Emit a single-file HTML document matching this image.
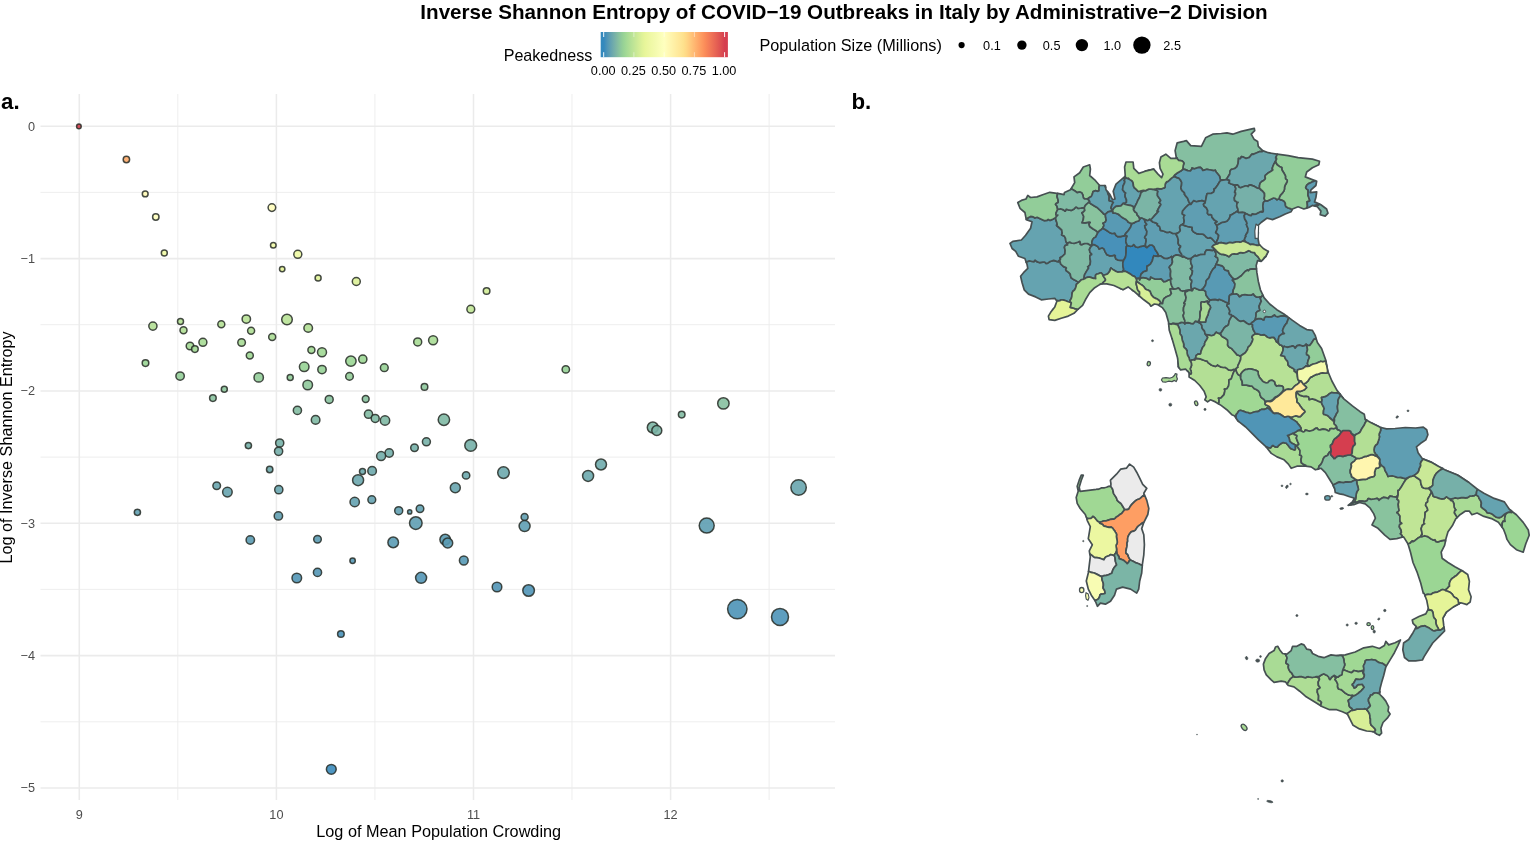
<!DOCTYPE html>
<html lang="en"><head><meta charset="utf-8"><title>Inverse Shannon Entropy of COVID-19 Outbreaks in Italy</title>
<style>html,body{margin:0;padding:0;background:#fff;overflow:hidden}body{width:1536px;height:843px;position:relative}</style></head>
<body>
<svg width="1536" height="843" viewBox="0 0 1536 843" style="position:absolute;left:0;top:0">
<defs><linearGradient id="cb" x1="0" x2="1" y1="0" y2="0">
<stop offset="0.0000" stop-color="#3288bd"/>
<stop offset="0.0250" stop-color="#3489bd"/>
<stop offset="0.0500" stop-color="#4e94b7"/>
<stop offset="0.0750" stop-color="#61a0b1"/>
<stop offset="0.1000" stop-color="#71acab"/>
<stop offset="0.1250" stop-color="#7fb8a4"/>
<stop offset="0.1500" stop-color="#8bc59d"/>
<stop offset="0.1750" stop-color="#96d196"/>
<stop offset="0.2000" stop-color="#a2d995"/>
<stop offset="0.2250" stop-color="#afde95"/>
<stop offset="0.2500" stop-color="#bbe396"/>
<stop offset="0.2750" stop-color="#c7e896"/>
<stop offset="0.3000" stop-color="#d3ed97"/>
<stop offset="0.3250" stop-color="#dff298"/>
<stop offset="0.3500" stop-color="#e8f69a"/>
<stop offset="0.3750" stop-color="#ecf7a1"/>
<stop offset="0.4000" stop-color="#f0f9a7"/>
<stop offset="0.4250" stop-color="#f3faad"/>
<stop offset="0.4500" stop-color="#f7fcb3"/>
<stop offset="0.4750" stop-color="#fbfeb9"/>
<stop offset="0.5000" stop-color="#ffffbf"/>
<stop offset="0.5250" stop-color="#fffab6"/>
<stop offset="0.5500" stop-color="#fff5ae"/>
<stop offset="0.5750" stop-color="#fff0a6"/>
<stop offset="0.6000" stop-color="#ffeb9e"/>
<stop offset="0.6250" stop-color="#ffe696"/>
<stop offset="0.6500" stop-color="#fee18d"/>
<stop offset="0.6750" stop-color="#ffd785"/>
<stop offset="0.7000" stop-color="#ffca7d"/>
<stop offset="0.7250" stop-color="#ffbd75"/>
<stop offset="0.7500" stop-color="#ffb06d"/>
<stop offset="0.7750" stop-color="#fea365"/>
<stop offset="0.8000" stop-color="#fd965e"/>
<stop offset="0.8250" stop-color="#fa8958"/>
<stop offset="0.8500" stop-color="#f47d57"/>
<stop offset="0.8750" stop-color="#ee7156"/>
<stop offset="0.9000" stop-color="#e86554"/>
<stop offset="0.9250" stop-color="#e15952"/>
<stop offset="0.9500" stop-color="#db4c51"/>
<stop offset="0.9750" stop-color="#d53e4f"/>
<stop offset="1.0000" stop-color="#d53e4f"/>
</linearGradient></defs>
<rect width="1536" height="843" fill="#fff"/>
<g stroke="#ebebeb" fill="none">
<line x1="177.8" x2="177.8" y1="94" y2="800" stroke-width="0.85"/>
<line x1="374.9" x2="374.9" y1="94" y2="800" stroke-width="0.85"/>
<line x1="572.0" x2="572.0" y1="94" y2="800" stroke-width="0.85"/>
<line x1="769.1" x2="769.1" y1="94" y2="800" stroke-width="0.85"/>
<line y1="192.4" y2="192.4" x1="40.5" x2="835" stroke-width="0.85"/>
<line y1="324.7" y2="324.7" x1="40.5" x2="835" stroke-width="0.85"/>
<line y1="457.1" y2="457.1" x1="40.5" x2="835" stroke-width="0.85"/>
<line y1="589.4" y2="589.4" x1="40.5" x2="835" stroke-width="0.85"/>
<line y1="721.8" y2="721.8" x1="40.5" x2="835" stroke-width="0.85"/>
<line x1="79.3" x2="79.3" y1="94" y2="800" stroke-width="1.55"/>
<line x1="276.4" x2="276.4" y1="94" y2="800" stroke-width="1.55"/>
<line x1="473.5" x2="473.5" y1="94" y2="800" stroke-width="1.55"/>
<line x1="670.6" x2="670.6" y1="94" y2="800" stroke-width="1.55"/>
<line y1="126.2" y2="126.2" x1="40.5" x2="835" stroke-width="1.55"/>
<line y1="258.6" y2="258.6" x1="40.5" x2="835" stroke-width="1.55"/>
<line y1="390.9" y2="390.9" x1="40.5" x2="835" stroke-width="1.55"/>
<line y1="523.2" y2="523.2" x1="40.5" x2="835" stroke-width="1.55"/>
<line y1="655.6" y2="655.6" x1="40.5" x2="835" stroke-width="1.55"/>
<line y1="788.0" y2="788.0" x1="40.5" x2="835" stroke-width="1.55"/>
</g>
<g stroke="#262b26" stroke-opacity="0.85" stroke-width="1.5" fill-opacity="0.9">
<circle cx="78.9" cy="126.4" r="2.30" fill="#d53f4f"/>
<circle cx="126.4" cy="159.5" r="3.20" fill="#feaa69"/>
<circle cx="145.2" cy="193.9" r="2.90" fill="#fff9b6"/>
<circle cx="155.8" cy="217" r="3.20" fill="#ffffbf"/>
<circle cx="164.3" cy="252.9" r="3.00" fill="#eef8a4"/>
<circle cx="271.9" cy="207.6" r="3.80" fill="#fffdbb"/>
<circle cx="273.3" cy="245.2" r="2.80" fill="#f1f9a9"/>
<circle cx="297.8" cy="254.3" r="4.00" fill="#edf8a3"/>
<circle cx="282.2" cy="269.1" r="2.70" fill="#e7f599"/>
<circle cx="318.1" cy="277.9" r="3.00" fill="#dff298"/>
<circle cx="356.3" cy="281.5" r="4.00" fill="#dbf097"/>
<circle cx="486.6" cy="291" r="3.30" fill="#d2ec97"/>
<circle cx="470.8" cy="309.2" r="3.90" fill="#c1e596"/>
<circle cx="152.9" cy="326.1" r="4.10" fill="#b3df95"/>
<circle cx="180.5" cy="321.6" r="3.00" fill="#b6e196"/>
<circle cx="183.5" cy="330.3" r="3.50" fill="#b0de95"/>
<circle cx="190" cy="346" r="3.80" fill="#a4d995"/>
<circle cx="194.9" cy="349.1" r="3.30" fill="#a2d995"/>
<circle cx="202.9" cy="342.3" r="4.00" fill="#a7db95"/>
<circle cx="221.3" cy="324.2" r="3.50" fill="#b4e095"/>
<circle cx="246.3" cy="319.1" r="4.20" fill="#b8e296"/>
<circle cx="251.1" cy="330.7" r="3.50" fill="#afde95"/>
<circle cx="241.6" cy="342.5" r="3.80" fill="#a7da95"/>
<circle cx="249.8" cy="355.4" r="3.50" fill="#9ed794"/>
<circle cx="272.2" cy="337.1" r="3.50" fill="#abdc95"/>
<circle cx="287" cy="319.5" r="5.30" fill="#b8e296"/>
<circle cx="308.2" cy="328" r="4.30" fill="#b1df95"/>
<circle cx="311.4" cy="349.9" r="3.50" fill="#a2d894"/>
<circle cx="145.5" cy="363.1" r="3.30" fill="#99d594"/>
<circle cx="180.1" cy="376.1" r="4.20" fill="#93ce98"/>
<circle cx="258.7" cy="377.4" r="4.70" fill="#92cd99"/>
<circle cx="290.2" cy="377.4" r="3.00" fill="#92cd99"/>
<circle cx="304.2" cy="366.8" r="4.80" fill="#97d395"/>
<circle cx="307.7" cy="385" r="4.80" fill="#8fc99b"/>
<circle cx="224.3" cy="389.3" r="3.00" fill="#8dc79c"/>
<circle cx="212.9" cy="398.1" r="3.30" fill="#89c29f"/>
<circle cx="297.4" cy="410.4" r="4.10" fill="#83bda2"/>
<circle cx="315.6" cy="419.9" r="4.30" fill="#80b9a4"/>
<circle cx="417.7" cy="341.9" r="4.00" fill="#a7db95"/>
<circle cx="433.1" cy="340.2" r="4.50" fill="#a8db95"/>
<circle cx="322" cy="352.3" r="4.50" fill="#a0d894"/>
<circle cx="350.9" cy="361.1" r="5.20" fill="#9ad694"/>
<circle cx="362.8" cy="359.2" r="4.10" fill="#9cd694"/>
<circle cx="322" cy="369.6" r="4.20" fill="#96d196"/>
<circle cx="384.3" cy="367.7" r="3.90" fill="#97d296"/>
<circle cx="349.5" cy="376.4" r="3.80" fill="#93cd99"/>
<circle cx="424.5" cy="386.9" r="3.30" fill="#8ec89c"/>
<circle cx="565.8" cy="369.4" r="3.70" fill="#96d196"/>
<circle cx="329.2" cy="399.4" r="4.00" fill="#88c29f"/>
<circle cx="365.7" cy="399" r="3.40" fill="#88c29f"/>
<circle cx="368.5" cy="414.2" r="4.10" fill="#82bba3"/>
<circle cx="375.2" cy="418.4" r="4.00" fill="#80baa4"/>
<circle cx="385" cy="420.5" r="4.70" fill="#7fb9a4"/>
<circle cx="443.9" cy="419.7" r="5.70" fill="#80b9a4"/>
<circle cx="248.4" cy="445.6" r="3.10" fill="#76b0a9"/>
<circle cx="279.7" cy="443" r="4.10" fill="#77b1a8"/>
<circle cx="278.6" cy="451.3" r="4.10" fill="#74aeaa"/>
<circle cx="269.7" cy="469.5" r="3.20" fill="#6ea9ac"/>
<circle cx="216.7" cy="485.7" r="3.80" fill="#69a5ae"/>
<circle cx="227.4" cy="492.1" r="4.80" fill="#67a4af"/>
<circle cx="278.8" cy="489.7" r="4.10" fill="#68a5af"/>
<circle cx="137.4" cy="512.3" r="3.10" fill="#61a0b1"/>
<circle cx="278.4" cy="515.9" r="4.20" fill="#609fb1"/>
<circle cx="250.3" cy="540" r="4.20" fill="#5b9bb3"/>
<circle cx="317.5" cy="539.2" r="3.80" fill="#5b9bb3"/>
<circle cx="296.8" cy="578" r="4.80" fill="#5296b6"/>
<circle cx="317.5" cy="572.4" r="4.10" fill="#5497b6"/>
<circle cx="414.5" cy="447.7" r="3.80" fill="#75b0a9"/>
<circle cx="426.4" cy="441.8" r="4.00" fill="#77b1a8"/>
<circle cx="470.7" cy="445.4" r="5.90" fill="#76b0a9"/>
<circle cx="389.2" cy="453" r="4.20" fill="#73aeaa"/>
<circle cx="381.1" cy="456.1" r="4.50" fill="#72adaa"/>
<circle cx="362.5" cy="471.4" r="3.00" fill="#6da9ac"/>
<circle cx="372.1" cy="470.9" r="4.30" fill="#6da9ac"/>
<circle cx="358.1" cy="480.2" r="5.50" fill="#6ba7ae"/>
<circle cx="466.1" cy="475.4" r="3.70" fill="#6ca8ad"/>
<circle cx="455.3" cy="487.8" r="5.00" fill="#68a5af"/>
<circle cx="503.5" cy="472.6" r="5.80" fill="#6da9ad"/>
<circle cx="354.7" cy="502" r="4.70" fill="#64a2b0"/>
<circle cx="371.8" cy="499.7" r="3.90" fill="#65a2b0"/>
<circle cx="398.7" cy="510.7" r="4.00" fill="#62a0b1"/>
<circle cx="409.7" cy="511.9" r="2.10" fill="#62a0b1"/>
<circle cx="420" cy="508.8" r="3.80" fill="#62a1b1"/>
<circle cx="415.8" cy="523.1" r="6.30" fill="#5f9eb2"/>
<circle cx="524.6" cy="517" r="3.50" fill="#609fb1"/>
<circle cx="524.6" cy="526.1" r="5.50" fill="#5e9eb2"/>
<circle cx="393.2" cy="542.4" r="5.30" fill="#5a9bb4"/>
<circle cx="445.2" cy="539.6" r="5.30" fill="#5b9bb3"/>
<circle cx="447.7" cy="543" r="5.00" fill="#5a9bb4"/>
<circle cx="352.6" cy="560.7" r="2.70" fill="#5698b5"/>
<circle cx="463.8" cy="560.5" r="4.40" fill="#5699b5"/>
<circle cx="421.1" cy="577.8" r="5.50" fill="#5396b6"/>
<circle cx="723.4" cy="403.4" r="5.70" fill="#86c0a0"/>
<circle cx="681.7" cy="414.6" r="3.30" fill="#82bba3"/>
<circle cx="652.8" cy="427.5" r="5.50" fill="#7db6a5"/>
<circle cx="656.8" cy="430.5" r="5.00" fill="#7bb5a6"/>
<circle cx="601" cy="464.5" r="5.50" fill="#6fabac"/>
<circle cx="588.1" cy="475.9" r="5.50" fill="#6ca8ad"/>
<circle cx="798.6" cy="487.5" r="7.70" fill="#68a5ae"/>
<circle cx="706.7" cy="525.6" r="7.50" fill="#5e9eb2"/>
<circle cx="737.3" cy="609.1" r="9.70" fill="#4d93b7"/>
<circle cx="780" cy="616.9" r="8.50" fill="#4c93b8"/>
<circle cx="497" cy="587" r="4.80" fill="#5195b6"/>
<circle cx="528.6" cy="590.5" r="5.80" fill="#5095b7"/>
<circle cx="340.9" cy="634" r="3.30" fill="#4991b8"/>
<circle cx="331.3" cy="769.3" r="4.90" fill="#3b8bbb"/>
</g>
<g font-family="'Liberation Sans',Arial,sans-serif" font-size="12.7" fill="#4d4d4d">
<text x="79.3" y="818.5" text-anchor="middle">9</text>
<text x="276.4" y="818.5" text-anchor="middle">10</text>
<text x="473.5" y="818.5" text-anchor="middle">11</text>
<text x="670.6" y="818.5" text-anchor="middle">12</text>
<text x="35" y="130.6" text-anchor="end">0</text>
<text x="35" y="262.9" text-anchor="end">−1</text>
<text x="35" y="395.3" text-anchor="end">−2</text>
<text x="35" y="527.6" text-anchor="end">−3</text>
<text x="35" y="660.0" text-anchor="end">−4</text>
<text x="35" y="792.4" text-anchor="end">−5</text>
</g>
<g font-family="'Liberation Sans',Arial,sans-serif" fill="#000">
<text x="438.7" y="836.5" font-size="16.25" text-anchor="middle">Log of Mean Population Crowding</text>
<text transform="translate(12.3,447.4) rotate(-90)" font-size="16.2" text-anchor="middle">Log of Inverse Shannon Entropy</text>
<text x="420.3" y="18.8" font-size="20.63" font-weight="bold">Inverse Shannon Entropy of COVID−19 Outbreaks in Italy by Administrative−2 Division</text>
<text x="1" y="108.9" font-size="22.3" font-weight="bold">a.</text>
<text x="851.4" y="108.9" font-size="22.3" font-weight="bold">b.</text>
<text x="503.7" y="60.5" font-size="16.1">Peakedness</text>
<text x="759.4" y="50.6" font-size="16.25">Population Size (Millions)</text>
</g>
<rect x="600.7" y="32" width="127.2" height="25.2" fill="url(#cb)"/>
<g stroke="#fff" stroke-width="1" stroke-opacity="0.9">
<line x1="603.7" x2="603.7" y1="32" y2="37" stroke-opacity="0.95"/><line x1="603.7" x2="603.7" y1="52.2" y2="57.2" stroke-opacity="0.95"/>
<line x1="633.9" x2="633.9" y1="32" y2="37" stroke-opacity="0.45"/><line x1="633.9" x2="633.9" y1="52.2" y2="57.2" stroke-opacity="0.45"/>
<line x1="664.2" x2="664.2" y1="32" y2="37" stroke-opacity="0.45"/><line x1="664.2" x2="664.2" y1="52.2" y2="57.2" stroke-opacity="0.45"/>
<line x1="694.4" x2="694.4" y1="32" y2="37" stroke-opacity="0.45"/><line x1="694.4" x2="694.4" y1="52.2" y2="57.2" stroke-opacity="0.45"/>
<line x1="724.6" x2="724.6" y1="32" y2="37" stroke-opacity="0.95"/><line x1="724.6" x2="724.6" y1="52.2" y2="57.2" stroke-opacity="0.95"/>
</g>
<g font-family="'Liberation Sans',Arial,sans-serif" font-size="12.7" fill="#000" text-anchor="middle">
<text x="603.2" y="75">0.00</text>
<text x="633.4" y="75">0.25</text>
<text x="663.7" y="75">0.50</text>
<text x="693.9" y="75">0.75</text>
<text x="724.1" y="75">1.00</text>
</g>
<g fill="#000">
<circle cx="961.6" cy="45.1" r="3.1"/>
<circle cx="1021.9" cy="45.1" r="4.7"/>
<circle cx="1081.9" cy="45.1" r="6.2"/>
<circle cx="1141.9" cy="45.1" r="8.7"/>
</g>
<g font-family="'Liberation Sans',Arial,sans-serif" font-size="12.7" fill="#000">
<text x="983.1" y="49.6">0.1</text>
<text x="1042.8" y="49.6">0.5</text>
<text x="1103.4" y="49.6">1.0</text>
<text x="1163.3" y="49.6">2.5</text>
</g>
<g stroke="#465052" stroke-width="1.7" stroke-linejoin="round">
<path d="M1078.1,282.1 1076.5,281.1 1073.6,279.6 1071.1,277.7 1070.5,275.8 1070.3,274.1 1068.6,272.4 1066.3,270.7 1065.7,269.1 1066.4,268.0 1066.0,267.6 1063.5,266.6 1060.7,264.0 1059.7,260.6 1058.6,260.7 1058.1,261.8 1056.7,261.4 1053.7,260.4 1050.1,261.5 1047.3,263.4 1046.0,263.4 1044.9,262.2 1042.9,262.2 1039.8,262.7 1036.8,261.6 1035.1,260.1 1034.7,260.4 1034.1,261.6 1032.3,261.5 1029.2,260.9 1026.4,262.0 1026.2,262.1 1027.0,264.2 1027.8,268.4 1023.5,272.7 1020.6,276.3 1022.1,282.7 1024.2,289.8 1028.5,294.1 1035.6,296.9 1041.3,299.8 1048.4,299.0 1054.8,298.3 1056.8,301.1 1056.9,301.1 1056.9,301.0 1057.0,300.9 1057.0,300.9 1057.1,300.8 1057.2,300.8 1057.3,300.7 1057.3,300.7 1057.4,300.7 1057.5,300.7 1057.6,300.7 1057.7,300.7 1058.8,300.9 1059.8,300.7 1060.9,300.0 1060.9,300.0 1061.0,299.9 1061.1,299.9 1061.2,299.9 1061.3,299.9 1062.5,299.9 1064.1,300.2 1065.9,300.8 1067.5,301.5 1067.5,301.5 1069.1,302.0 1069.8,302.1 1069.9,301.1 1070.4,299.7 1071.3,298.4 1071.8,296.5 1072.0,294.4 1072.2,292.6 1073.0,291.2 1073.1,291.2 1073.2,291.1 1073.2,291.0 1074.6,289.8 1075.5,288.1 1076.1,286.2 1076.4,284.5 1076.5,284.4 1076.5,284.3 1076.5,284.2 1077.4,283.5 1078.4,282.6 1078.5,282.6ZM1052.6,309.8 1052.8,309.7 1053.0,309.3Z" fill="#65a3b0"/>
<path d="M1060.0,258.2 1060.0,257.8 1062.3,256.5 1064.9,253.9 1065.1,250.3 1064.4,247.2 1065.3,245.4 1067.1,245.0 1067.6,244.9 1067.0,243.5 1065.8,241.2 1065.5,238.3 1064.3,236.1 1062.2,235.3 1061.6,234.9 1062.2,233.2 1061.7,230.0 1058.4,227.0 1056.6,225.5 1056.6,225.1 1057.2,224.4 1056.9,222.8 1056.0,220.4 1055.6,217.8 1052.8,219.3 1050.1,220.4 1048.8,219.7 1048.2,219.4 1046.9,220.5 1044.0,220.6 1040.2,218.8 1037.1,217.3 1035.6,217.7 1034.8,218.0 1033.3,216.9 1030.6,216.4 1027.8,218.0 1026.2,219.1 1026.3,219.6 1032.0,221.8 1030.6,228.2 1025.6,235.3 1021.4,240.0 1012.8,241.4 1010.0,243.5 1012.1,248.5 1015.7,251.4 1018.5,256.3 1024.9,258.5 1026.2,262.1 1026.4,262.0 1029.2,260.9 1032.3,261.5 1034.1,261.6 1034.7,260.4 1035.1,260.1 1036.8,261.6 1039.8,262.7 1042.9,262.2 1044.9,262.2 1046.0,263.4 1047.3,263.4 1050.1,261.5 1053.7,260.4 1056.7,261.4 1058.1,261.8 1058.6,260.7 1059.7,260.6 1060.6,258.8Z" fill="#65a3b0"/>
<path d="M1030.6,216.4 1033.3,216.9 1034.8,218.0 1035.6,217.7 1037.1,217.3 1040.2,218.8 1044.0,220.6 1046.9,220.5 1048.2,219.4 1048.8,219.7 1050.1,220.4 1052.8,219.3 1055.6,217.8 1057.3,215.6 1057.9,215.0 1057.0,215.3 1055.8,214.8 1056.2,212.7 1057.7,209.5 1057.0,206.2 1055.5,204.3 1056.2,203.5 1058.2,202.4 1058.1,199.9 1057.0,196.5 1057.5,193.8 1057.7,193.4 1056.9,193.3 1049.8,192.3 1042.7,194.7 1037.0,196.9 1030.5,197.5 1027.8,195.4 1026.0,199.0 1021.4,200.4 1017.8,202.6 1020.0,208.3 1024.9,212.5 1026.2,219.1 1027.8,218.0Z" fill="#92cd99"/>
<path d="M1075.0,191.0 1076.8,192.4 1077.4,192.7 1078.1,192.3 1079.7,192.0 1081.6,192.7 1082.8,194.9 1083.3,197.6 1084.5,199.0 1087.5,199.0 1089.5,197.5 1091.3,196.5 1092.3,194.3 1093.1,191.6 1095.3,190.7 1097.9,191.3 1099.0,190.7 1099.0,187.8 1099.4,185.3 1094.7,179.8 1089.7,175.5 1090.4,169.1 1089.7,164.8 1083.3,167.0 1079.7,172.7 1074.0,176.9 1074.7,182.6 1071.1,188.8 1071.7,189.1Z" fill="#92cd99"/>
<path d="M1063.5,266.6 1066.0,267.6 1066.4,268.0 1065.7,269.1 1066.3,270.7 1068.6,272.4 1070.3,274.1 1070.5,275.8 1071.1,277.7 1073.6,279.6 1076.5,281.1 1078.1,282.1 1078.5,282.6 1079.6,281.5 1080.8,280.3 1080.9,280.2 1081.0,280.1 1081.0,280.0 1082.2,279.5 1083.3,279.3 1084.1,278.9 1084.1,277.8 1084.5,274.8 1086.6,271.1 1088.5,268.2 1088.4,266.8 1087.7,266.7 1088.4,266.5 1090.1,264.6 1090.5,261.1 1089.8,257.4 1090.1,255.2 1091.6,254.6 1091.7,254.1 1090.0,252.4 1089.4,249.5 1090.7,247.0 1092.1,245.7 1092.0,244.4 1090.6,245.1 1089.6,244.7 1087.6,243.5 1084.5,243.5 1081.7,244.6 1080.4,244.3 1080.2,242.4 1079.8,241.3 1077.7,242.2 1074.4,243.3 1071.4,243.0 1069.7,242.1 1068.6,242.5 1067.0,243.5 1067.6,244.9 1067.1,245.0 1065.3,245.4 1064.4,247.2 1065.1,250.3 1064.9,253.9 1062.3,256.5 1060.0,257.8 1060.0,258.2 1060.6,258.8 1059.7,260.6 1060.7,264.0Z" fill="#80baa4"/>
<path d="M1061.6,234.9 1062.2,235.3 1064.3,236.1 1065.5,238.3 1065.8,241.2 1067.0,243.5 1068.6,242.5 1069.7,242.1 1071.4,243.0 1074.4,243.3 1077.7,242.2 1079.8,241.3 1080.2,242.4 1080.4,244.3 1081.7,244.6 1084.5,243.5 1087.6,243.5 1089.6,244.7 1090.6,245.1 1092.0,244.4 1092.0,244.3 1091.9,242.1 1092.7,239.5 1094.2,237.7 1095.4,237.3 1095.8,237.0 1096.4,235.6 1097.9,232.6 1097.0,231.6 1095.7,230.4 1092.8,228.8 1089.7,226.5 1089.0,224.1 1090.2,222.4 1089.2,222.1 1085.1,222.8 1082.1,222.7 1083.2,219.8 1083.7,216.5 1082.6,214.0 1081.9,212.8 1083.4,212.0 1084.8,210.4 1084.2,207.6 1080.7,208.1 1078.0,208.4 1076.7,207.3 1075.9,207.0 1074.1,208.9 1071.2,210.4 1068.1,209.8 1066.3,209.2 1065.7,210.4 1065.2,211.2 1063.5,209.9 1060.5,208.8 1057.7,209.5 1056.2,212.7 1055.8,214.8 1057.0,215.3 1057.9,215.0 1057.3,215.6 1055.6,217.8 1056.0,220.4 1056.9,222.8 1057.2,224.4 1056.6,225.1 1056.6,225.5 1058.4,227.0 1061.7,230.0 1062.2,233.2Z" fill="#80baa4"/>
<path d="M1083.4,212.0 1081.9,212.8 1082.6,214.0 1083.7,216.5 1083.2,219.8 1082.1,222.7 1085.1,222.8 1089.2,222.1 1090.2,222.4 1089.0,224.1 1089.7,226.5 1092.8,228.8 1095.7,230.4 1097.0,231.6 1097.9,232.6 1099.7,230.7 1100.3,230.3 1101.0,229.9 1102.6,228.3 1103.9,225.6 1103.6,224.0 1102.9,223.3 1103.6,222.9 1105.4,222.0 1106.2,220.1 1105.6,217.3 1105.3,214.4 1104.1,214.1 1103.8,214.1 1102.8,212.9 1100.8,210.9 1099.1,209.4 1098.4,208.6 1097.5,207.8 1094.8,206.2 1091.2,204.1 1089.3,202.3 1089.8,201.4 1089.5,201.4 1087.6,203.2 1085.9,204.6 1084.9,205.7 1084.2,207.6 1084.8,210.4Z" fill="#89c39e"/>
<path d="M1057.0,196.5 1058.1,199.9 1058.2,202.4 1056.2,203.5 1055.5,204.3 1057.0,206.2 1057.7,209.5 1060.5,208.8 1063.5,209.9 1065.2,211.2 1065.7,210.4 1066.3,209.2 1068.1,209.8 1071.2,210.4 1074.1,208.9 1075.9,207.0 1076.7,207.3 1078.0,208.4 1080.7,208.1 1084.2,207.6 1084.9,205.7 1085.9,204.6 1087.6,203.2 1089.5,201.4 1089.0,200.2 1087.5,199.0 1084.5,199.0 1083.3,197.6 1082.8,194.9 1081.6,192.7 1079.7,192.0 1078.1,192.3 1077.4,192.7 1076.8,192.4 1075.0,191.0 1071.7,189.1 1071.1,188.8 1070.5,189.8 1064.5,192.5 1064.1,194.7 1057.7,193.4 1057.5,193.8Z" fill="#80baa4"/>
<path d="M1122.2,289.3 1122.2,289.3 1120.3,288.4ZM1122.6,271.3 1123.2,270.5 1123.7,269.3 1123.0,266.6 1122.8,263.1 1123.6,260.2 1121.1,260.3 1118.0,260.1 1115.9,258.9 1115.2,257.1 1115.3,255.6 1114.7,255.2 1112.6,255.6 1109.5,255.8 1106.8,254.6 1105.2,251.8 1104.0,249.0 1102.3,247.9 1100.3,248.5 1099.1,249.0 1098.7,248.1 1097.7,246.4 1095.0,244.9 1092.0,244.3 1092.0,244.4 1092.1,245.7 1090.7,247.0 1089.4,249.5 1090.0,252.4 1091.7,254.1 1091.6,254.6 1090.1,255.2 1089.8,257.4 1090.5,261.1 1090.1,264.6 1088.4,266.5 1087.7,266.7 1088.4,266.8 1088.5,268.2 1086.6,271.1 1084.5,274.8 1084.1,277.8 1084.1,278.9 1084.7,278.7 1086.4,277.6 1086.5,277.5 1086.6,277.5 1086.8,277.4 1086.9,277.4 1087.0,277.3 1089.4,277.0 1091.4,277.6 1092.8,278.1 1092.8,278.1 1092.9,278.2 1093.6,278.3 1094.5,278.3 1095.7,278.6 1095.5,277.3 1095.5,275.9 1095.5,275.8 1095.6,275.6 1095.6,275.5 1095.6,275.4 1095.6,275.2 1095.7,275.1 1095.7,275.0 1095.8,274.9 1095.9,274.8 1096.0,274.7 1096.1,274.6 1096.2,274.5 1096.3,274.4 1096.4,274.3 1098.4,273.7 1100.0,273.0 1100.1,273.0 1100.2,272.9 1100.3,272.9 1100.4,272.9 1100.5,272.9 1100.6,272.8 1100.7,272.8 1100.8,272.8 1100.9,272.9 1101.0,272.9 1101.0,272.9 1101.1,273.0 1102.2,273.9 1102.8,275.0 1103.5,276.3 1103.2,275.8 1103.9,275.2 1105.3,274.8 1107.5,274.0 1109.2,272.0 1110.2,270.0 1110.6,268.4 1110.6,268.3 1110.6,268.3 1110.7,268.2 1110.7,268.2 1110.7,268.1 1110.8,268.1 1110.9,268.1 1110.9,268.1 1111.0,268.1 1111.1,268.1 1111.1,268.2 1111.2,268.2 1111.3,268.2 1111.4,268.3 1111.5,268.4 1112.8,269.4 1114.2,270.2 1114.3,270.3 1115.3,270.9 1116.3,271.5 1117.6,272.1 1120.0,271.8 1122.0,272.0 1122.9,271.6Z" fill="#65a3b0"/>
<path d="M1184.6,169.4 1187.7,170.6 1190.4,170.9 1191.7,169.2 1192.0,168.0 1192.7,168.4 1194.7,168.8 1197.7,167.7 1200.4,167.3 1202.0,168.9 1202.8,170.5 1204.2,170.1 1206.9,169.3 1210.5,170.0 1213.5,170.6 1215.0,170.2 1215.2,170.1 1215.9,171.7 1217.8,174.0 1219.6,176.3 1220.0,178.2 1220.3,179.6 1222.7,180.2 1224.8,179.8 1226.9,179.4 1227.4,177.7 1228.7,175.8 1229.8,174.0 1229.9,172.1 1230.3,170.5 1231.4,169.4 1233.0,169.0 1235.0,168.4 1236.9,166.6 1238.1,163.5 1238.4,160.3 1238.5,158.3 1239.9,158.8 1240.7,158.1 1241.5,156.5 1243.2,157.1 1246.0,158.5 1249.3,157.4 1251.4,154.7 1252.1,154.0 1253.0,154.4 1255.7,153.3 1259.3,151.7 1261.5,151.6 1262.1,151.7 1262.6,150.6 1258.3,146.3 1257.6,141.4 1254.0,139.2 1251.2,134.2 1254.7,130.7 1254.3,128.3 1249.8,129.3 1241.2,131.4 1232.7,134.2 1227.0,132.8 1221.3,133.5 1212.7,134.2 1205.6,137.8 1201.4,146.3 1190.7,145.6 1186.4,140.6 1183.6,141.4 1177.2,142.8 1175.1,150.6 1176.3,157.5 1176.4,157.5 1176.5,157.5 1176.6,157.6 1176.6,157.6 1176.7,157.6 1176.8,157.7 1176.8,157.7 1176.8,157.8 1176.9,157.9 1177.5,159.0 1178.7,160.3 1180.7,160.6 1182.1,161.0 1182.9,161.6 1183.6,162.6 1183.6,162.7 1183.7,162.8 1183.7,162.9 1183.8,162.9 1183.8,163.0 1183.8,163.1 1183.9,163.2 1183.9,163.4 1183.9,163.5 1183.9,163.6 1183.9,163.7 1183.8,163.8 1183.8,163.9 1183.8,164.0 1183.7,164.1 1183.2,165.8 1183.0,167.4 1182.9,168.8 1182.9,168.9 1182.8,169.0 1182.8,169.1 1182.7,169.1 1182.7,169.2 1182.6,169.3 1182.6,169.3Z" fill="#85bfa1"/>
<path d="M1100.3,230.3 1099.7,230.7 1097.9,232.6 1096.4,235.6 1095.8,237.0 1095.4,237.3 1094.2,237.7 1092.7,239.5 1091.9,242.1 1092.0,244.3 1095.0,244.9 1097.7,246.4 1098.7,248.1 1099.1,249.0 1100.3,248.5 1102.3,247.9 1104.0,249.0 1105.2,251.8 1106.8,254.6 1109.5,255.8 1112.6,255.6 1114.7,255.2 1115.3,255.6 1115.2,257.1 1115.9,258.9 1118.0,260.1 1121.1,260.3 1123.6,260.2 1124.7,258.5 1124.9,258.2 1124.8,258.2 1125.3,257.5 1125.8,255.4 1126.1,252.3 1126.1,249.0 1126.3,246.6 1127.3,245.5 1127.1,245.0 1126.7,244.2 1125.8,241.6 1126.1,238.3 1127.1,236.1 1126.5,235.5 1123.7,235.9 1120.4,236.7 1117.6,236.7 1115.9,235.3 1115.1,233.7 1114.6,233.0 1113.6,233.4 1111.8,233.5 1109.4,232.4 1106.7,230.5 1104.3,229.0 1102.6,228.3 1101.0,229.9Z" fill="#4891b9"/>
<path d="M1089.5,201.4 1089.8,201.4 1089.3,202.3 1091.2,204.1 1094.8,206.2 1097.5,207.8 1098.4,208.6 1099.1,209.4 1100.8,210.9 1102.8,212.9 1103.8,214.1 1104.1,214.1 1105.3,214.4 1108.1,211.9 1111.4,211.2 1113.0,212.0 1113.0,211.9 1112.5,210.7 1111.0,208.0 1111.9,204.9 1113.4,202.4 1111.6,201.2 1109.2,200.6 1109.1,199.3 1109.2,196.4 1107.8,193.2 1107.5,191.6 1106.0,189.8 1105.6,187.2 1105.5,187.2 1104.9,185.5 1099.6,185.5 1099.4,185.3 1099.0,187.8 1099.0,190.7 1097.9,191.3 1095.3,190.7 1093.1,191.6 1092.3,194.3 1091.3,196.5 1089.5,197.5 1087.5,199.0 1089.0,200.2Z" fill="#65a3b0"/>
<path d="M1133.8,291.2 1132.3,290.1 1132.3,290.0 1132.0,289.9ZM1161.9,303.6 1162.6,303.6 1162.9,301.5 1163.9,298.6 1166.5,296.7 1169.8,295.5 1171.4,293.5 1170.6,290.8 1170.1,289.0 1171.4,288.9 1173.8,289.1 1173.0,288.2 1171.8,286.1 1170.8,283.1 1170.6,280.4 1170.7,279.2 1168.3,280.0 1165.5,281.5 1163.5,281.6 1162.4,280.1 1161.2,278.9 1158.9,279.1 1155.6,279.2 1152.4,278.0 1150.7,277.0 1150.3,277.8 1150.1,279.5 1148.9,279.6 1146.2,278.1 1142.9,277.5 1140.2,278.3 1139.6,279.9 1139.3,278.8 1138.1,277.9 1136.2,278.9 1136.6,279.8 1136.3,281.8 1136.2,284.1 1136.3,281.9 1136.9,281.9 1138.1,282.4 1138.2,282.4 1138.3,282.5 1138.4,282.5 1138.4,282.6 1138.5,282.7 1140.4,284.1 1142.6,285.5 1144.0,286.8 1144.7,288.1 1145.4,289.0 1146.7,289.7 1148.4,290.2 1149.9,291.2 1150.0,291.3 1150.1,291.4 1150.7,293.1 1151.4,294.9 1152.7,296.5 1154.3,297.8 1156.1,298.6 1157.5,299.3 1158.8,300.2 1158.9,300.3 1159.0,300.4 1159.0,300.4 1159.8,301.3 1160.5,302.2 1160.6,302.3 1160.6,302.4 1160.6,302.4 1160.6,302.5 1160.6,302.6 1160.6,302.6 1160.6,302.7 1160.6,302.8 1160.6,302.8 1160.5,302.9 1160.5,302.9 1160.5,303.0 1160.4,303.0 1160.3,303.1 1160.3,303.2Z" fill="#92cd99"/>
<path d="M1126.1,249.0 1126.1,252.3 1125.8,255.4 1125.3,257.5 1124.8,258.2 1124.9,258.2 1124.7,258.5 1123.6,260.2 1122.8,263.1 1123.0,266.6 1123.7,269.3 1123.2,270.5 1122.6,271.3 1122.9,271.6 1123.3,271.4 1123.3,271.4 1123.4,271.4 1123.5,271.3 1123.5,271.3 1123.6,271.3 1125.2,271.3 1127.3,272.3 1129.8,273.7 1129.9,273.7 1130.0,273.8 1130.1,273.9 1130.2,273.9 1131.8,275.2 1133.1,275.9 1134.4,276.4 1134.5,276.4 1134.6,276.5 1134.7,276.5 1134.7,276.6 1134.8,276.6 1134.8,276.7 1134.9,276.8 1134.9,276.8 1135.9,278.2 1136.2,278.9 1138.1,277.9 1139.3,278.8 1139.6,279.9 1140.2,278.3 1140.9,274.4 1143.4,271.8 1145.8,271.1 1146.8,270.8 1147.0,269.3 1146.9,267.3 1147.1,266.1 1148.4,265.6 1150.4,264.1 1152.3,260.8 1153.2,257.3 1153.9,255.7 1155.7,256.2 1158.1,256.4 1158.4,254.8 1157.2,252.5 1155.1,249.6 1154.2,246.9 1152.2,245.2 1149.9,245.0 1148.1,246.4 1147.0,247.5 1145.9,246.7 1143.9,245.8 1141.1,246.3 1137.9,247.5 1135.5,246.8 1134.2,244.9 1133.6,244.6 1132.4,246.0 1130.2,246.3 1127.3,245.5 1126.3,246.6Z" fill="#3288bd"/>
<path d="M1105.6,187.2 1105.3,185.5 1104.9,185.5 1105.5,187.2ZM1109.2,196.4 1109.1,199.3 1109.2,200.6 1111.6,201.2 1113.4,202.4 1111.9,204.9 1111.0,208.0 1112.5,210.7 1113.7,208.3 1115.9,206.4 1118.6,206.1 1120.9,205.8 1122.3,204.4 1123.2,203.3 1123.8,203.7 1124.5,203.4 1126.4,202.5 1126.5,199.9 1125.1,196.6 1125.1,194.1 1125.7,193.0 1124.5,192.1 1122.6,189.8 1123.0,186.2 1124.6,182.9 1124.8,181.1 1124.1,180.5 1124.8,179.4 1125.4,177.0 1125.4,177.0 1125.4,176.9 1125.3,176.8 1125.3,176.6 1125.3,176.5 1125.2,176.4 1125.2,176.3 1125.3,176.2 1125.3,176.2 1121.0,179.8 1116.0,184.1 1113.2,191.2 1115.0,199.0 1112.5,199.7 1109.6,194.0 1107.5,191.6 1107.8,193.2Z" fill="#589ab4"/>
<path d="M1124.8,235.2 1125.6,233.6 1128.2,230.7 1130.4,227.6 1131.3,225.3 1131.4,224.2 1132.0,223.6 1129.5,222.8 1128.1,222.0 1127.5,221.0 1126.0,219.6 1123.6,218.3 1121.5,217.0 1119.9,215.5 1118.0,214.0 1115.6,213.2 1113.7,213.1 1113.0,212.9 1113.0,212.0 1111.4,211.2 1108.1,211.9 1105.3,214.4 1105.6,217.3 1106.2,220.1 1105.4,222.0 1103.6,222.9 1102.9,223.3 1103.6,224.0 1103.9,225.6 1102.6,228.3 1104.3,229.0 1106.7,230.5 1109.4,232.4 1111.8,233.5 1113.6,233.4 1114.6,233.0 1115.1,233.7 1115.9,235.3 1117.6,236.7 1120.4,236.7 1123.7,235.9 1126.5,235.5 1125.8,235.5Z" fill="#589ab4"/>
<path d="M1131.3,225.3 1130.4,227.6 1128.2,230.7 1125.6,233.6 1124.8,235.2 1125.8,235.5 1126.5,235.5 1127.1,236.1 1126.1,238.3 1125.8,241.6 1126.7,244.2 1127.1,245.0 1127.3,245.5 1130.2,246.3 1132.4,246.0 1133.6,244.6 1134.2,244.9 1135.5,246.8 1137.9,247.5 1141.1,246.3 1143.9,245.8 1145.9,246.7 1145.4,244.4 1146.1,241.2 1146.0,238.9 1144.7,237.7 1144.8,236.8 1146.5,234.8 1146.9,231.4 1145.2,227.9 1144.7,225.7 1146.3,224.9 1146.8,224.2 1145.2,222.3 1144.4,219.4 1142.3,218.1 1140.8,217.9 1140.1,218.6 1139.8,219.0 1139.0,220.7 1137.6,221.2 1135.8,221.8 1133.9,222.9 1132.0,223.6 1131.4,224.2Z" fill="#589ab4"/>
<path d="M1124.8,179.4 1124.1,180.5 1124.8,181.1 1124.6,182.9 1123.0,186.2 1122.6,189.8 1124.5,192.1 1125.7,193.0 1125.1,194.1 1125.1,196.6 1126.5,199.9 1126.4,202.5 1124.5,203.4 1123.8,203.7 1125.4,204.5 1128.3,205.2 1131.3,205.7 1133.1,206.6 1133.5,208.2 1133.6,209.7 1134.9,206.6 1136.7,203.1 1137.4,201.5 1137.5,201.2 1138.0,200.1 1139.4,197.7 1140.4,195.0 1140.8,193.1 1141.9,191.9 1143.7,190.8 1144.0,190.5 1143.3,190.4 1141.2,190.8 1139.0,191.5 1138.9,191.5 1138.8,191.5 1138.7,191.5 1138.6,191.5 1138.5,191.5 1138.4,191.5 1138.3,191.5 1138.2,191.4 1137.2,190.4 1136.0,189.2 1134.6,188.0 1134.6,187.9 1134.5,187.8 1134.4,187.7 1134.3,187.7 1134.3,187.6 1133.5,186.1 1133.3,184.4 1133.0,182.5 1131.9,180.8 1130.0,179.6 1128.8,178.8 1128.4,178.1 1127.4,178.5 1126.1,177.8 1126.0,177.8 1125.9,177.7 1125.8,177.6 1125.8,177.5 1125.7,177.4 1125.6,177.3 1125.5,177.2 1125.5,177.1 1125.4,177.0ZM1149.0,170.3 1145.2,171.2 1149.0,170.3ZM1125.3,176.2 1125.3,176.2 1125.3,176.2Z" fill="#65a3b0"/>
<path d="M1113.0,212.0 1113.0,212.9 1113.7,213.1 1115.6,213.2 1118.0,214.0 1119.9,215.5 1121.5,217.0 1123.6,218.3 1126.0,219.6 1127.5,221.0 1128.1,222.0 1129.5,222.8 1132.0,223.6 1133.9,222.9 1135.8,221.8 1137.6,221.2 1139.0,220.7 1139.8,219.0 1138.8,216.6 1137.1,214.9 1137.0,213.9 1136.8,213.1 1134.9,211.8 1133.6,209.7 1133.5,208.2 1133.1,206.6 1131.3,205.7 1128.3,205.2 1125.4,204.5 1123.8,203.7 1123.2,203.3 1122.3,204.4 1120.9,205.8 1118.6,206.1 1115.9,206.4 1113.7,208.3 1112.5,210.7 1113.0,211.9Z" fill="#89c39e"/>
<path d="M1136.8,213.1 1137.0,213.9 1137.1,214.9 1138.8,216.6 1139.8,219.0 1140.1,218.6 1140.8,217.9 1142.3,218.1 1144.4,219.4 1147.2,220.6 1148.8,220.2 1149.5,219.3 1150.5,220.0 1152.1,218.5 1154.8,215.4 1157.6,212.4 1158.6,211.3 1157.6,211.8 1157.2,211.1 1158.8,208.0 1160.9,204.5 1160.0,203.3 1159.0,202.6 1159.8,201.8 1160.7,200.5 1159.5,198.4 1157.5,195.8 1157.4,193.2 1158.0,191.3 1156.8,190.3 1155.0,189.8 1154.9,189.2 1153.3,189.3 1151.1,189.1 1148.9,189.1 1147.2,189.8 1146.0,190.6 1144.9,190.6 1144.0,190.5 1143.7,190.8 1141.9,191.9 1140.8,193.1 1140.4,195.0 1139.4,197.7 1138.0,200.1 1137.5,201.2 1137.4,201.5 1136.7,203.1 1134.9,206.6 1133.6,209.7 1134.9,211.8Z" fill="#7bb5a6"/>
<path d="M1148.1,246.4 1149.9,245.0 1152.2,245.2 1154.2,246.9 1155.1,249.6 1157.2,252.5 1158.4,254.8 1158.1,256.4 1159.2,256.1 1160.3,255.8 1161.8,256.8 1164.3,258.5 1167.2,258.7 1170.0,257.4 1171.7,256.5 1172.3,257.4 1172.9,257.4 1173.9,256.1 1176.1,254.9 1179.1,255.4 1181.9,256.5 1181.7,254.5 1179.7,251.5 1179.2,248.7 1180.5,246.9 1180.6,246.0 1178.9,245.1 1178.1,243.1 1178.3,240.0 1177.4,236.7 1176.1,234.5 1177.1,233.4 1178.7,232.5 1175.7,233.5 1172.8,233.5 1171.0,232.4 1169.9,231.9 1168.6,232.3 1166.4,232.3 1163.4,231.0 1160.4,230.4 1160.1,228.2 1159.5,226.6 1157.7,225.5 1157.0,224.6 1157.6,223.9 1156.4,223.1 1152.9,222.0 1150.5,220.0 1149.5,219.3 1148.8,220.2 1147.2,220.6 1144.4,219.4 1145.2,222.3 1146.8,224.2 1146.3,224.9 1144.7,225.7 1145.2,227.9 1146.9,231.4 1146.5,234.8 1144.8,236.8 1144.7,237.7 1146.0,238.9 1146.1,241.2 1145.4,244.4 1145.9,246.7 1147.0,247.5Z" fill="#5f9eb2"/>
<path d="M1153.9,255.7 1153.2,257.3 1152.3,260.8 1150.4,264.1 1148.4,265.6 1147.1,266.1 1146.9,267.3 1147.0,269.3 1146.8,270.8 1145.8,271.1 1143.4,271.8 1140.9,274.4 1140.2,278.3 1142.9,277.5 1146.2,278.1 1148.9,279.6 1150.1,279.5 1150.3,277.8 1150.7,277.0 1152.4,278.0 1155.6,279.2 1158.9,279.1 1161.2,278.9 1162.4,280.1 1163.5,281.6 1165.5,281.5 1168.3,280.0 1170.7,279.2 1171.8,279.0 1171.4,278.6 1170.5,276.9 1170.4,274.2 1170.7,271.2 1170.2,268.9 1169.2,267.5 1169.7,266.3 1171.6,264.5 1172.5,261.9 1172.1,259.2 1172.3,257.4 1171.7,256.5 1170.0,257.4 1167.2,258.7 1164.3,258.5 1161.8,256.8 1160.3,255.8 1159.2,256.1 1158.1,256.4 1155.7,256.2Z" fill="#5f9eb2"/>
<path d="M1155.0,189.8 1156.8,190.3 1158.0,191.3 1157.4,193.2 1157.5,195.8 1159.5,198.4 1160.7,200.5 1159.8,201.8 1159.0,202.6 1160.0,203.3 1160.9,204.5 1158.8,208.0 1157.2,211.1 1157.6,211.8 1158.6,211.3 1157.6,212.4 1154.8,215.4 1152.1,218.5 1150.5,220.0 1152.9,222.0 1156.4,223.1 1157.6,223.9 1157.0,224.6 1157.7,225.5 1159.5,226.6 1160.1,228.2 1160.4,230.4 1163.4,231.0 1166.4,232.3 1168.6,232.3 1169.9,231.9 1171.0,232.4 1172.8,233.5 1175.7,233.5 1178.7,232.5 1180.2,231.0 1180.2,229.6 1179.7,228.0 1179.8,226.5 1180.7,225.2 1182.3,224.5 1183.9,223.1 1184.2,220.6 1183.6,217.8 1184.1,215.9 1184.8,215.4 1183.9,215.1 1182.3,213.8 1182.6,211.0 1185.6,207.5 1188.4,204.8 1190.2,204.2 1191.1,204.3 1191.6,203.4 1189.6,203.2 1188.7,201.4 1187.6,198.3 1185.4,195.6 1184.3,194.1 1184.7,193.4 1184.0,192.3 1181.8,190.4 1180.8,187.9 1181.5,185.1 1181.7,182.5 1180.7,180.4 1179.6,179.0 1178.8,178.1 1177.1,177.6 1174.7,176.6 1174.3,175.6 1173.5,176.6 1172.6,177.4 1171.8,177.9 1170.7,178.8 1169.4,180.2 1168.0,181.4 1166.5,181.9 1165.8,182.9 1165.2,184.4 1165.1,186.6 1165.1,186.8 1165.1,186.9 1165.0,187.0 1165.0,187.1 1164.9,187.3 1164.9,187.4 1164.8,187.5 1164.7,187.6 1164.6,187.7 1164.5,187.8 1164.4,187.8 1164.3,187.9 1164.2,187.9 1161.7,188.8 1159.6,188.9 1157.9,188.6 1156.6,188.7 1156.6,188.7 1155.2,189.2 1154.9,189.2ZM1149.0,170.3 1149.0,170.3 1153.7,169.1Z" fill="#65a3b0"/>
<path d="M1191.6,360.2 1193.7,359.7 1194.9,360.1 1195.4,358.6 1196.2,355.4 1198.2,354.0 1200.1,354.1 1200.7,353.5 1201.1,351.1 1202.5,347.6 1204.2,345.4 1204.7,344.6 1204.5,343.7 1205.2,341.7 1206.9,339.2 1207.8,337.3 1206.8,336.0 1205.8,334.6 1204.8,333.4 1204.8,332.1 1204.2,330.7 1202.7,329.1 1201.9,327.4 1201.9,325.4 1200.5,323.4 1197.5,321.7 1195.2,321.2 1194.2,322.5 1193.1,323.7 1190.9,323.4 1187.9,322.6 1185.7,322.9 1184.8,323.8 1184.7,323.3 1183.4,322.5 1181.3,322.4 1178.6,323.5 1175.6,323.5 1172.8,323.2 1171.2,324.3 1171.2,324.3 1172.2,323.8 1173.5,323.8 1175.2,324.3 1177.1,324.8 1177.3,324.8 1177.4,324.9 1177.5,324.9 1177.6,324.9 1177.7,325.0 1177.8,325.1 1177.8,325.1 1177.9,325.2 1178.0,325.3 1178.0,325.4 1178.1,325.5 1178.1,325.6 1178.7,327.2 1179.5,328.9 1180.0,330.5 1180.0,330.7 1179.9,332.5 1180.1,334.0 1181.1,335.2 1181.8,336.6 1182.0,338.5 1182.4,340.6 1183.4,342.8 1183.8,344.8 1183.6,346.4 1184.4,347.7 1186.0,349.0 1187.0,350.7 1187.1,350.7 1187.1,353.1 1187.6,355.4 1188.7,357.1 1188.7,357.1 1189.2,358.0 1189.3,359.0 1189.8,360.4 1190.3,361.2ZM1172.0,338.5 1172.0,338.4 1171.9,338.3ZM1178.4,366.5 1178.4,366.5 1177.7,358.5ZM1178.4,366.7 1178.5,366.7 1178.5,366.6 1178.4,366.6 1178.4,366.5 1178.4,366.5Z" fill="#6ba7ad"/>
<path d="M1172.5,261.9 1171.6,264.5 1169.7,266.3 1169.2,267.5 1170.2,268.9 1170.7,271.2 1170.4,274.2 1170.5,276.9 1171.4,278.6 1171.8,279.0 1170.7,279.2 1170.6,280.4 1170.8,283.1 1171.8,286.1 1173.0,288.2 1173.8,289.1 1176.4,288.8 1178.3,288.1 1179.3,288.7 1180.5,290.5 1182.7,291.3 1185.9,290.5 1189.0,290.1 1191.1,290.3 1192.0,290.7 1191.3,288.3 1190.9,284.8 1191.8,281.8 1191.7,280.2 1190.2,279.3 1190.0,277.4 1192.0,274.2 1192.5,270.9 1190.9,269.0 1190.5,268.5 1192.0,268.1 1192.3,266.3 1191.0,263.4 1190.6,260.7 1191.3,259.2 1191.1,258.4 1187.6,258.6 1185.0,257.3 1183.6,256.2 1183.1,256.5 1182.8,257.1 1181.9,256.5 1179.1,255.4 1176.1,254.9 1173.9,256.1 1172.9,257.4 1172.3,257.4 1172.1,259.2Z" fill="#80baa4"/>
<path d="M1176.1,234.5 1177.4,236.7 1178.3,240.0 1178.1,243.1 1178.9,245.1 1180.6,246.0 1180.5,246.9 1179.2,248.7 1179.7,251.5 1181.7,254.5 1181.9,256.5 1182.8,257.1 1183.1,256.5 1183.6,256.2 1185.0,257.3 1187.6,258.6 1191.1,258.4 1194.0,256.2 1195.4,255.3 1195.8,256.1 1197.0,255.9 1200.0,254.7 1203.2,254.5 1204.7,254.5 1205.0,252.5 1206.3,250.2 1209.3,250.1 1212.5,250.7 1214.0,249.6 1213.6,248.0 1213.2,247.6 1212.5,247.3 1212.4,247.2 1212.4,247.2 1212.4,247.2 1212.3,247.1 1212.3,247.1 1212.3,247.0 1212.3,247.0 1212.3,246.9 1212.3,246.8 1212.3,246.7 1212.4,246.6 1212.4,246.6 1212.4,246.5 1212.5,246.4 1212.5,246.3 1212.6,246.2 1212.7,246.1 1212.7,246.0 1212.8,245.9 1212.9,245.8 1213.0,245.8 1214.7,244.6 1216.1,244.2 1216.7,244.1 1216.6,244.0 1214.5,241.5 1212.0,238.7 1210.2,237.6 1209.1,238.0 1207.8,238.1 1206.1,237.0 1204.6,235.3 1203.5,234.3 1202.1,234.2 1199.6,234.2 1196.4,233.6 1193.6,232.1 1192.2,230.2 1192.1,228.4 1192.1,227.4 1190.7,227.1 1187.5,226.5 1184.1,225.4 1182.3,224.5 1180.7,225.2 1179.8,226.5 1179.7,228.0 1180.2,229.6 1180.2,231.0 1178.7,232.5 1177.1,233.4Z" fill="#65a3b0"/>
<path d="M1174.7,176.6 1177.1,177.6 1178.8,178.1 1179.6,179.0 1180.7,180.4 1181.7,182.5 1181.5,185.1 1180.8,187.9 1181.8,190.4 1184.0,192.3 1184.7,193.4 1184.3,194.1 1185.4,195.6 1187.6,198.3 1188.7,201.4 1189.6,203.2 1191.6,203.4 1193.0,201.5 1193.9,200.6 1194.8,201.3 1196.5,201.8 1199.1,201.1 1202.0,200.6 1204.6,201.7 1205.2,201.9 1205.8,199.5 1206.5,195.8 1207.2,193.6 1208.5,193.5 1211.1,193.5 1213.7,192.1 1214.3,190.1 1213.8,189.2 1214.0,189.2 1215.6,188.0 1217.7,185.0 1219.6,181.8 1220.9,180.3 1221.7,180.4 1222.7,180.2 1220.3,179.6 1220.0,178.2 1219.6,176.3 1217.8,174.0 1215.9,171.7 1215.2,170.1 1215.0,170.2 1213.5,170.6 1210.5,170.0 1206.9,169.3 1204.2,170.1 1202.8,170.5 1202.0,168.9 1200.4,167.3 1197.7,167.7 1194.7,168.8 1192.7,168.4 1192.0,168.0 1191.7,169.2 1190.4,170.9 1187.7,170.6 1184.6,169.4 1182.6,169.3 1181.6,170.3 1180.7,171.1 1179.0,172.0 1176.8,173.3 1176.8,173.3 1174.7,175.0 1174.3,175.6Z" fill="#5f9eb2"/>
<path d="M1172.8,323.2 1175.6,323.5 1178.6,323.5 1181.3,322.4 1183.4,322.5 1184.7,323.3 1184.9,320.8 1183.6,317.6 1183.1,315.3 1183.7,314.1 1184.0,312.9 1183.4,310.5 1183.6,307.3 1184.8,304.7 1185.0,303.6 1184.1,303.5 1184.0,303.0 1185.4,300.8 1186.1,297.4 1185.2,294.2 1185.2,292.3 1187.3,291.3 1189.0,290.1 1185.9,290.5 1182.7,291.3 1180.5,290.5 1179.3,288.7 1178.3,288.1 1176.4,288.8 1173.8,289.1 1171.4,288.9 1170.1,289.0 1170.6,290.8 1171.4,293.5 1169.8,295.5 1166.5,296.7 1163.9,298.6 1162.9,301.5 1162.6,303.6 1161.9,303.6 1160.3,303.2 1158.9,304.8 1158.8,304.9 1158.8,305.0 1158.7,305.2 1158.7,305.2 1162.3,307.6 1165.8,312.6 1168.5,322.0 1168.9,326.3 1168.7,323.7 1168.7,323.7 1168.8,323.7 1168.9,323.7 1169.1,323.7 1169.2,323.8 1169.3,323.8 1169.4,323.8 1169.5,323.8 1169.6,323.8 1170.7,324.1 1171.2,324.3Z" fill="#89c39e"/>
<path d="M1189.0,290.1 1187.3,291.3 1185.2,292.3 1185.2,294.2 1186.1,297.4 1185.4,300.8 1184.0,303.0 1184.1,303.5 1185.0,303.6 1184.8,304.7 1183.6,307.3 1183.4,310.5 1184.0,312.9 1183.7,314.1 1183.1,315.3 1183.6,317.6 1184.9,320.8 1184.7,323.3 1184.8,323.8 1185.7,322.9 1187.9,322.6 1190.9,323.4 1193.1,323.7 1194.2,322.5 1195.2,321.2 1197.5,321.7 1197.2,322.2 1198.1,321.9 1199.2,320.5 1199.7,318.8 1200.1,316.0 1200.0,313.5 1200.2,311.6 1200.2,311.5 1201.0,310.1 1201.3,308.5 1201.0,306.3 1200.9,304.1 1201.3,302.3 1201.3,302.2 1201.4,302.2 1201.4,302.1 1201.5,302.1 1201.5,302.0 1201.6,302.0 1201.7,302.0 1201.8,302.0 1201.9,302.0 1202.0,302.0 1202.1,302.0 1202.2,302.0 1202.4,302.0 1204.3,302.1 1205.9,301.6 1207.1,301.2 1207.2,301.2 1207.2,301.2 1207.3,301.2 1207.3,301.2 1207.4,301.3 1207.4,301.3 1207.5,301.4 1207.5,301.4 1207.5,301.5 1207.5,301.6 1207.5,301.6 1207.5,301.7 1207.5,301.8 1207.5,301.9 1207.5,301.9 1207.5,302.6 1208.8,302.3 1209.9,300.1 1207.9,297.7 1206.1,295.2 1205.7,293.2 1205.7,291.6 1204.4,290.5 1202.5,289.7 1201.3,290.0 1199.4,290.1 1197.0,289.0 1194.7,288.0 1193.1,288.5 1192.5,290.2 1192.0,290.7 1191.1,290.3Z" fill="#89c39e"/>
<path d="M1183.9,215.1 1184.8,215.4 1184.1,215.9 1183.6,217.8 1184.2,220.6 1183.9,223.1 1182.3,224.5 1184.1,225.4 1187.5,226.5 1190.7,227.1 1192.1,227.4 1192.1,228.4 1192.2,230.2 1193.6,232.1 1196.4,233.6 1199.6,234.2 1202.1,234.2 1203.5,234.3 1204.6,235.3 1206.1,237.0 1207.8,238.1 1209.1,238.0 1210.2,237.6 1212.0,238.7 1214.5,241.5 1216.6,244.0 1216.6,241.6 1218.1,238.4 1218.7,235.4 1217.1,233.7 1215.7,232.5 1216.5,230.9 1217.5,228.3 1216.7,225.4 1215.1,223.0 1216.6,222.1 1217.2,221.7 1214.4,220.1 1211.9,217.1 1211.6,215.0 1210.8,214.7 1208.6,214.7 1207.4,213.3 1207.7,210.7 1206.5,208.0 1203.9,205.8 1203.5,204.2 1205.3,202.9 1204.6,201.7 1202.0,200.6 1199.1,201.1 1196.5,201.8 1194.8,201.3 1193.9,200.6 1193.0,201.5 1191.6,203.4 1191.1,204.3 1190.2,204.2 1188.4,204.8 1185.6,207.5 1182.6,211.0 1182.3,213.8Z" fill="#5f9eb2"/>
<path d="M1219.1,399.2 1218.4,398.1 1218.7,398.5 1221.0,397.9 1224.0,394.7 1224.9,390.8 1224.4,389.0 1225.1,389.2 1227.0,388.6 1228.6,385.9 1229.0,382.5 1228.9,380.2 1229.7,379.5 1230.8,379.4 1231.4,378.4 1232.3,375.7 1233.7,372.0 1235.4,369.0 1233.8,369.3 1231.3,370.3 1228.5,369.8 1226.5,368.2 1225.2,367.4 1223.7,367.5 1221.2,367.2 1218.6,365.8 1217.5,364.8 1217.1,365.5 1215.3,366.4 1211.6,365.3 1208.0,362.6 1206.9,361.0 1206.5,361.2 1203.8,360.3 1200.0,358.9 1196.8,358.4 1195.4,358.6 1194.9,360.1 1193.7,359.7 1191.6,360.2 1190.3,361.2 1191.0,362.2 1191.1,362.4 1191.2,362.5 1191.2,362.6 1191.3,362.8 1191.3,362.9 1191.5,365.4 1190.8,367.4 1190.1,368.8 1190.5,369.8 1191.1,371.2 1191.3,372.9 1191.3,373.1 1191.3,373.2 1191.2,373.3 1191.2,373.4 1191.1,373.5 1191.1,373.6 1191.0,373.7 1191.0,373.7 1190.9,373.8 1190.8,373.8 1190.7,373.9 1190.6,373.9 1190.5,373.9 1190.4,373.9 1190.3,373.9 1190.2,373.9 1190.1,373.8 1190.0,373.8 1189.9,373.7 1189.8,373.6 1189.7,373.6 1189.6,373.5 1189.6,373.4 1189.5,373.3 1189.4,373.2 1188.4,371.6 1187.4,371.0 1189.1,372.7 1189.1,377.0 1194.8,380.5 1199.8,385.5 1204.1,391.2 1206.2,396.9 1204.8,399.8 1207.6,401.9 1210.5,399.8 1215.4,401.9 1218.4,403.7 1219.0,402.3ZM1178.4,366.7 1178.4,367.0 1179.2,368.0 1178.6,366.8 1178.5,366.7 1178.5,366.7Z" fill="#b3df95"/>
<path d="M1201.9,325.4 1201.9,327.4 1202.7,329.1 1204.2,330.7 1204.8,332.1 1204.8,333.4 1205.8,334.6 1208.2,334.9 1211.4,335.7 1214.0,335.0 1215.5,333.1 1216.2,332.2 1217.3,333.0 1219.5,333.7 1221.1,332.7 1222.6,330.6 1224.0,328.1 1225.8,326.4 1227.4,325.7 1228.4,324.8 1228.8,323.3 1229.0,321.6 1229.5,320.2 1230.5,318.4 1232.0,315.8 1231.4,314.6 1229.6,314.3 1229.2,313.4 1229.9,311.1 1228.8,308.2 1226.9,305.7 1227.3,304.4 1229.2,303.7 1228.7,303.0 1225.5,302.1 1221.9,300.2 1219.2,299.3 1218.2,300.0 1218.0,300.4 1217.1,299.8 1215.0,299.3 1212.3,299.7 1209.9,300.1 1208.8,302.3 1207.5,302.6 1207.5,303.0 1208.4,304.1 1209.8,305.5 1210.5,307.3 1210.5,307.4 1210.5,307.5 1210.5,307.7 1210.5,307.8 1210.4,307.9 1210.4,308.0 1209.3,310.1 1208.6,312.0 1208.2,313.7 1207.8,315.2 1207.8,315.3 1207.7,315.3 1207.0,316.8 1206.3,318.3 1205.9,320.0 1205.6,321.6 1205.5,321.7 1205.5,321.8 1205.5,321.9 1205.4,321.9 1205.4,322.0 1205.3,322.0 1205.2,322.1 1205.1,322.1 1205.1,322.2 1205.0,322.2 1204.9,322.2 1204.8,322.2 1204.7,322.2 1204.6,322.2 1204.5,322.2 1202.3,322.0 1200.1,321.8 1200.0,321.8 1199.8,321.7 1199.7,321.7 1199.6,321.6 1199.5,321.6 1199.4,321.5 1199.3,321.4 1199.3,321.4 1199.2,321.3 1199.2,321.2 1199.1,321.1 1199.1,321.0 1199.1,321.0 1199.2,320.5 1198.1,321.9 1197.9,322.0 1200.5,323.4Z" fill="#6ba7ad"/>
<path d="M1190.6,260.7 1191.0,263.4 1192.3,266.3 1192.0,268.1 1190.5,268.5 1190.9,269.0 1192.5,270.9 1192.0,274.2 1190.0,277.4 1190.2,279.3 1191.7,280.2 1191.8,281.8 1190.9,284.8 1191.3,288.3 1192.0,290.7 1192.5,290.2 1193.1,288.5 1194.7,288.0 1197.0,289.0 1199.4,290.1 1201.3,290.0 1202.5,289.7 1202.2,289.2 1203.7,287.8 1205.4,285.3 1206.0,282.9 1206.1,281.2 1206.8,279.9 1208.2,278.7 1209.2,277.2 1209.9,274.9 1211.2,272.1 1212.8,269.4 1214.3,267.8 1215.2,267.4 1215.1,267.3 1215.3,266.1 1216.7,263.1 1218.0,260.1 1217.5,257.8 1215.8,256.8 1215.2,256.4 1216.0,255.2 1215.8,252.7 1214.0,249.6 1212.5,250.7 1209.3,250.1 1206.3,250.2 1205.0,252.5 1204.7,254.5 1203.2,254.5 1200.0,254.7 1197.0,255.9 1195.8,256.1 1195.4,255.3 1194.0,256.2 1191.1,258.4 1191.3,259.2Z" fill="#65a3b0"/>
<path d="M1205.7,291.6 1205.7,293.2 1206.1,295.2 1207.9,297.7 1209.9,300.1 1212.3,299.7 1215.0,299.3 1217.1,299.8 1218.0,300.4 1218.2,300.0 1219.2,299.3 1221.9,300.2 1225.5,302.1 1228.7,303.0 1229.0,301.1 1229.2,298.3 1229.3,296.2 1229.8,295.2 1231.4,294.3 1233.0,292.8 1233.1,291.7 1233.2,290.1 1234.5,287.4 1235.0,284.0 1233.6,281.4 1232.4,280.1 1233.3,279.9 1234.6,279.5 1232.1,277.4 1229.5,274.1 1228.5,271.7 1228.4,270.8 1227.4,270.6 1225.4,270.2 1224.2,269.1 1223.9,267.5 1222.2,265.9 1218.6,264.9 1216.4,264.3 1216.7,263.1 1215.3,266.1 1215.1,267.3 1215.2,267.4 1214.3,267.8 1212.8,269.4 1211.2,272.1 1209.9,274.9 1209.2,277.2 1208.2,278.7 1206.8,279.9 1206.1,281.2 1206.0,282.9 1205.4,285.3 1203.7,287.8 1202.2,289.2 1202.5,289.7 1204.4,290.5Z" fill="#589ab4"/>
<path d="M1214.0,249.6 1215.8,252.7 1216.0,255.2 1215.2,256.4 1215.8,256.8 1217.5,257.8 1218.0,260.1 1216.7,263.1 1216.4,264.3 1218.6,264.9 1222.2,265.9 1223.9,267.5 1224.2,269.1 1225.4,270.2 1227.4,270.6 1228.4,270.8 1228.5,271.7 1229.5,274.1 1232.1,277.4 1234.6,279.5 1237.7,278.4 1240.2,276.4 1240.9,275.9 1240.9,276.3 1242.2,274.8 1245.1,271.5 1247.6,270.0 1248.3,270.8 1248.5,270.8 1249.8,269.3 1252.5,268.8 1255.5,269.2 1256.5,268.8 1256.2,265.6 1257.6,260.6 1261.1,261.3 1262.2,260.2 1261.5,260.9 1261.5,260.9 1261.4,260.9 1261.3,260.9 1261.2,260.9 1261.0,260.8 1260.9,260.8 1260.8,260.7 1260.7,260.6 1260.6,260.5 1260.4,260.5 1260.3,260.3 1260.2,260.2 1260.1,260.1 1260.0,260.0 1258.8,258.1 1258.0,256.8 1257.0,256.0 1257.0,255.9 1255.5,254.6 1254.5,252.6 1252.6,252.4 1251.2,252.1 1250.1,251.3 1248.8,250.7 1247.2,251.4 1245.0,252.5 1242.7,252.8 1240.7,252.5 1239.4,252.8 1238.2,253.6 1236.4,254.1 1234.1,253.8 1232.3,254.0 1230.9,254.9 1229.9,255.9 1229.1,256.6 1229.0,256.6 1229.0,256.7 1228.9,256.6 1228.8,256.6 1228.7,256.6 1228.6,256.6 1228.6,256.5 1228.5,256.5 1226.8,255.5 1225.0,254.8 1223.1,254.4 1221.4,254.3 1221.3,254.3 1220.0,253.8 1218.8,252.9 1217.5,251.8 1216.1,250.5 1216.0,250.4 1215.9,250.2 1214.2,248.5 1213.6,248.0ZM1265.4,257.0 1266.0,255.8 1266.0,255.8 1265.7,256.5 1265.3,256.7 1265.2,256.8 1265.2,256.8 1265.1,256.8 1265.1,256.9 1265.0,256.9 1264.0,258.0 1263.1,259.3Z" fill="#80baa4"/>
<path d="M1220.9,180.3 1219.6,181.8 1217.7,185.0 1215.6,188.0 1214.0,189.2 1213.8,189.2 1214.3,190.1 1213.7,192.1 1211.1,193.5 1208.5,193.5 1207.2,193.6 1206.5,195.8 1205.8,199.5 1205.2,201.9 1204.6,201.7 1205.3,202.9 1203.5,204.2 1203.9,205.8 1206.5,208.0 1207.7,210.7 1207.4,213.3 1208.6,214.7 1210.8,214.7 1211.6,215.0 1211.9,217.1 1214.4,220.1 1217.2,221.7 1216.6,222.1 1215.1,223.0 1216.7,225.4 1218.0,224.8 1219.8,223.7 1222.0,222.5 1224.6,222.1 1227.1,221.3 1229.2,218.8 1230.3,215.9 1230.2,215.1 1231.2,215.0 1234.4,213.1 1237.1,211.3 1238.1,211.0 1237.9,209.1 1236.7,206.0 1237.0,203.4 1238.1,202.3 1236.9,202.0 1234.6,200.6 1234.3,197.7 1235.6,194.5 1235.5,192.8 1234.6,192.2 1235.1,191.2 1235.9,188.6 1234.5,185.1 1230.7,183.7 1228.7,182.8 1229.4,181.7 1229.5,180.4 1226.9,179.4 1224.8,179.8 1222.7,180.2 1221.7,180.4Z" fill="#65a3b0"/>
<path d="M1305.9,465.2 1303.9,464.6 1301.3,462.7 1301.0,459.5 1301.7,456.6 1300.9,455.3 1299.6,454.9 1299.9,453.5 1300.0,450.4 1297.8,447.2 1296.1,445.8 1297.6,445.3 1298.8,444.1 1297.5,441.3 1296.3,438.1 1297.0,436.0 1296.6,435.2 1294.4,434.5 1293.6,433.0 1293.2,433.1 1291.9,433.8 1290.1,434.5 1288.6,435.1 1287.5,435.5 1288.8,437.3 1289.4,439.3 1289.7,441.3 1291.5,442.9 1294.0,444.2 1295.7,445.2 1295.7,445.2 1295.8,445.3 1295.8,445.3 1295.8,445.4 1295.8,445.4 1295.7,445.5 1295.2,446.7 1295.3,448.2 1295.3,448.3 1295.3,448.4 1295.4,448.5 1295.4,448.6 1295.4,448.7 1295.4,448.8 1295.4,448.9 1295.3,449.0 1295.3,449.1 1295.3,449.2 1295.2,449.3 1295.2,449.4 1295.1,449.5 1295.1,449.6 1295.0,449.7 1294.9,449.7 1294.9,449.8 1294.8,449.8 1294.7,449.8 1294.6,449.8 1293.1,449.5 1291.2,448.8 1291.1,448.7 1291.0,448.6 1290.8,448.6 1290.7,448.5 1290.6,448.4 1290.5,448.3 1290.4,448.2 1289.1,446.7 1288.1,445.3 1287.1,444.2 1286.2,443.2 1284.8,443.0 1283.2,442.5 1281.6,443.2 1280.4,444.0 1280.3,444.0 1280.2,444.1 1278.8,445.3 1277.5,446.9 1277.4,446.9 1277.3,447.0 1277.2,447.1 1277.1,447.1 1277.0,447.1 1276.9,447.2 1276.8,447.2 1276.7,447.2 1276.5,447.2 1276.4,447.2 1276.3,447.2 1276.2,447.1 1274.6,446.6 1273.6,446.0 1272.9,445.4 1271.8,446.2 1270.9,447.4 1270.9,447.5 1270.8,447.5 1270.8,447.6 1270.7,447.6 1270.6,447.7 1270.5,447.7 1270.5,447.8 1270.4,447.8 1270.3,447.8 1270.2,447.8 1268.4,447.5 1266.5,446.9 1266.0,446.8 1271.3,453.4 1277.0,456.9 1284.1,459.8 1288.4,464.1 1291.2,468.3 1296.9,466.2 1304.0,465.8 1305.6,466.1 1305.6,466.0Z" fill="#a9db95"/>
<path d="M1232.3,375.7 1231.4,378.4 1230.8,379.4 1229.7,379.5 1228.9,380.2 1229.0,382.5 1228.6,385.9 1227.0,388.6 1225.1,389.2 1224.4,389.0 1224.9,390.8 1224.0,394.7 1221.0,397.9 1218.7,398.5 1218.4,398.1 1219.1,399.2 1219.0,402.3 1218.4,403.7 1221.1,405.4 1226.8,409.7 1231.8,414.7 1234.3,415.7 1238.5,421.4 1236.3,418.4 1236.0,417.3 1236.1,415.1 1236.1,415.0 1236.1,414.9 1236.1,414.8 1236.2,414.7 1236.2,414.6 1236.3,414.5 1236.3,414.4 1236.4,414.3 1236.5,414.2 1236.5,414.1 1236.6,414.0 1236.7,413.9 1236.8,413.9 1237.8,412.6 1238.4,411.4 1239.3,410.7 1240.4,410.5 1240.5,410.4 1240.6,410.4 1240.7,410.5 1240.8,410.5 1240.9,410.5 1241.0,410.5 1241.1,410.5 1241.3,410.6 1241.4,410.6 1241.6,410.6 1241.7,410.7 1241.8,410.7 1243.8,411.4 1245.3,412.0 1246.4,412.5 1247.9,412.5 1248.9,413.1 1250.0,413.4 1251.5,413.0 1253.4,412.3 1255.6,411.7 1257.5,411.6 1258.9,411.1 1260.1,410.0 1261.4,409.4 1263.0,409.3 1264.7,409.3 1266.6,408.4 1266.7,408.3 1266.8,408.2 1266.9,408.2 1267.0,408.1 1267.2,408.1 1267.3,408.0 1267.4,408.0 1267.5,408.0 1267.6,408.0 1267.7,408.0 1267.8,408.1 1267.9,408.1 1269.2,409.1 1270.6,410.4 1272.1,411.8 1273.1,413.0 1274.3,413.6 1274.6,413.5 1275.0,413.3 1274.6,413.3 1273.3,412.7 1273.2,412.7 1273.2,412.6 1273.1,412.5 1273.1,412.5 1273.0,412.4 1272.1,411.2 1271.0,409.7 1270.3,408.2 1269.4,406.8 1267.8,405.7 1265.7,404.7 1265.6,404.7 1265.5,404.6 1265.4,404.5 1265.4,404.4 1265.3,404.3 1265.2,404.2 1265.2,404.0 1265.1,403.9 1265.1,403.8 1265.1,403.7 1265.1,403.5 1265.1,403.4 1265.1,403.2 1265.1,403.1 1265.1,403.0 1265.2,402.9 1265.2,402.7 1265.3,402.6 1265.4,402.5 1265.4,402.4 1266.8,401.5 1268.3,401.5 1270.1,401.7 1271.9,401.2 1273.2,400.1 1273.2,399.3 1273.1,399.1 1271.7,400.3 1269.7,401.0 1267.8,401.0 1266.3,401.2 1266.2,401.2 1266.1,401.3 1266.0,401.3 1265.9,401.3 1265.8,401.4 1265.7,401.4 1265.6,401.4 1265.6,401.4 1265.5,401.4 1265.4,401.4 1265.3,401.4 1265.3,401.3 1265.2,401.3 1265.1,401.3 1264.7,400.5 1264.4,399.8 1263.6,399.1 1262.3,398.3 1262.2,398.2 1262.1,398.2 1260.8,396.8 1260.1,395.0 1259.7,392.9 1258.5,390.9 1256.7,389.8 1255.2,389.1 1254.0,388.4 1253.0,387.3 1251.9,386.0 1250.4,386.1 1248.7,385.7 1248.6,385.7 1248.5,385.7 1248.4,385.6 1246.6,385.2 1244.5,385.1 1242.7,385.1 1242.6,385.1 1242.5,385.0 1242.5,385.0 1242.4,384.9 1242.3,384.9 1242.3,384.8 1242.3,384.7 1242.3,384.6 1242.3,382.8 1242.0,381.0 1241.0,379.3 1241.0,379.3 1240.9,379.2 1240.9,379.1 1240.8,379.0 1240.8,378.9 1240.6,377.6 1240.8,376.4 1240.7,375.6 1239.8,375.6 1237.8,374.2 1236.4,371.4 1235.9,368.7 1235.4,369.0 1233.7,372.0Z" fill="#a0d894"/>
<path d="M1227.3,304.4 1226.9,305.7 1228.8,308.2 1229.9,311.1 1229.2,313.4 1229.6,314.3 1231.4,314.6 1232.0,315.8 1233.4,316.1 1235.6,317.9 1238.1,320.2 1240.5,321.4 1242.0,321.1 1243.1,320.7 1244.5,321.5 1246.8,323.2 1249.1,324.4 1250.4,324.2 1251.1,323.7 1251.7,322.7 1252.7,322.1 1253.9,321.2 1255.3,319.6 1256.0,316.0 1256.1,313.1 1257.3,311.5 1259.2,310.8 1260.0,310.1 1259.4,308.5 1259.1,306.1 1260.3,303.4 1261.3,301.2 1260.8,299.8 1260.3,298.5 1261.5,296.5 1259.2,296.9 1256.5,297.1 1254.4,295.5 1253.4,293.9 1252.7,294.1 1251.2,295.2 1248.4,295.2 1244.8,294.5 1241.8,295.0 1240.0,296.5 1239.3,296.6 1238.4,295.0 1236.5,293.8 1233.9,294.0 1231.4,294.3 1229.8,295.2 1229.3,296.2 1229.2,298.3 1229.0,301.1 1228.7,303.0 1229.2,303.7Z" fill="#65a3b0"/>
<path d="M1207.8,337.3 1206.9,339.2 1205.2,341.7 1204.5,343.7 1204.7,344.6 1204.2,345.4 1202.5,347.6 1201.1,351.1 1200.7,353.5 1200.1,354.1 1198.2,354.0 1196.2,355.4 1195.4,358.6 1196.8,358.4 1200.0,358.9 1203.8,360.3 1206.5,361.2 1206.9,361.0 1208.0,362.6 1211.6,365.3 1215.3,366.4 1217.1,365.5 1217.5,364.8 1218.6,365.8 1221.2,367.2 1223.7,367.5 1225.2,367.4 1226.5,368.2 1228.5,369.8 1231.3,370.3 1233.8,369.3 1235.4,369.0 1235.9,368.7 1237.4,367.6 1238.0,367.3 1237.7,367.1 1237.8,365.8 1239.1,363.1 1240.6,359.6 1240.8,356.6 1238.4,355.1 1237.4,355.2 1235.9,353.4 1233.3,350.5 1231.7,348.6 1230.6,347.9 1228.7,346.9 1227.6,345.0 1227.8,342.7 1227.6,340.2 1225.2,338.2 1222.1,336.5 1221.0,335.2 1221.0,334.3 1219.5,333.7 1217.3,333.0 1216.2,332.2 1215.5,333.1 1214.0,335.0 1211.4,335.7 1208.2,334.9 1205.8,334.6 1206.8,336.0Z" fill="#a9db95"/>
<path d="M1229.5,320.2 1229.0,321.6 1228.8,323.3 1228.4,324.8 1227.4,325.7 1225.8,326.4 1224.0,328.1 1222.6,330.6 1221.1,332.7 1219.5,333.7 1221.0,334.3 1221.0,335.2 1222.1,336.5 1225.2,338.2 1227.6,340.2 1227.8,342.7 1227.6,345.0 1228.7,346.9 1230.6,347.9 1231.7,348.6 1233.3,350.5 1235.9,353.4 1237.4,355.2 1238.4,355.1 1240.8,356.6 1240.9,355.8 1240.5,355.9 1242.0,355.0 1245.3,352.7 1247.5,349.6 1247.9,347.6 1247.8,347.4 1248.6,346.9 1250.6,344.7 1252.3,341.4 1252.9,339.1 1252.4,338.1 1251.9,337.2 1252.6,335.7 1255.1,333.9 1254.8,332.3 1253.2,329.5 1252.4,326.6 1252.6,324.9 1252.0,324.4 1251.1,323.7 1250.4,324.2 1249.1,324.4 1246.8,323.2 1244.5,321.5 1243.1,320.7 1242.0,321.1 1240.5,321.4 1238.1,320.2 1235.6,317.9 1233.4,316.1 1232.0,315.8 1230.5,318.4Z" fill="#7bb5a6"/>
<path d="M1229.2,218.8 1227.1,221.3 1224.6,222.1 1222.0,222.5 1219.8,223.7 1218.0,224.8 1216.7,225.4 1217.5,228.3 1216.5,230.9 1215.7,232.5 1217.1,233.7 1218.7,235.4 1218.1,238.4 1216.6,241.6 1216.6,244.0 1216.7,244.1 1217.4,244.0 1218.8,243.0 1218.9,243.0 1219.0,242.9 1219.1,242.9 1219.2,242.8 1219.3,242.8 1221.2,242.7 1223.4,243.2 1225.5,243.7 1227.0,243.6 1228.1,243.1 1229.3,242.5 1230.7,242.6 1232.6,242.8 1234.6,242.4 1236.7,241.8 1236.8,241.8 1238.6,241.9 1240.0,242.3 1241.2,242.0 1242.6,241.1 1242.7,241.1 1242.8,241.1 1242.9,241.1 1243.0,241.1 1243.1,241.1 1243.2,241.1 1245.0,241.8 1245.6,242.0 1244.4,239.6 1245.3,237.2 1246.0,236.2 1245.5,235.9 1245.9,234.8 1247.6,232.2 1248.1,228.8 1247.0,226.0 1246.4,224.5 1247.0,223.5 1246.5,221.8 1244.7,218.8 1244.2,215.6 1245.7,213.5 1244.4,212.5 1242.3,212.2 1240.0,212.3 1238.4,212.3 1238.0,211.9 1238.1,211.0 1237.1,211.3 1234.4,213.1 1231.2,215.0 1230.2,215.1 1230.3,215.9Z" fill="#5f9eb2"/>
<path d="M1252.5,268.8 1249.8,269.3 1248.5,270.8 1248.3,270.8 1247.6,270.0 1245.1,271.5 1242.2,274.8 1240.9,276.3 1240.9,275.9 1240.2,276.4 1237.7,278.4 1234.6,279.5 1233.3,279.9 1232.4,280.1 1233.6,281.4 1235.0,284.0 1234.5,287.4 1233.2,290.1 1233.1,291.7 1233.0,292.8 1231.4,294.3 1233.9,294.0 1236.5,293.8 1238.4,295.0 1239.3,296.6 1240.0,296.5 1241.8,295.0 1244.8,294.5 1248.4,295.2 1251.2,295.2 1252.7,294.1 1253.4,293.9 1254.4,295.5 1256.5,297.1 1259.2,296.9 1261.5,296.5 1263.0,295.4 1260.4,289.8 1258.3,281.2 1256.9,272.7 1256.5,268.8 1255.5,269.2Z" fill="#89c39e"/>
<path d="M1229.4,181.7 1228.7,182.8 1230.7,183.7 1234.5,185.1 1237.1,184.8 1238.3,185.6 1239.0,187.2 1240.6,187.8 1243.2,186.7 1245.9,185.8 1247.5,186.2 1248.0,186.6 1248.5,185.6 1250.4,184.9 1253.7,186.1 1257.1,188.1 1259.5,188.4 1259.5,185.4 1260.2,183.0 1261.7,181.6 1263.7,180.5 1265.1,179.1 1265.4,178.0 1265.0,176.9 1265.3,175.4 1267.7,173.3 1271.0,171.3 1272.8,170.0 1272.7,169.4 1272.2,169.0 1272.5,167.5 1273.6,164.7 1275.4,161.5 1276.6,159.1 1276.5,158.1 1275.7,157.8 1276.1,156.9 1277.2,154.7 1277.2,154.2 1276.8,154.2 1268.3,152.7 1262.6,150.6 1262.6,150.6 1262.1,151.7 1261.5,151.6 1259.3,151.7 1255.7,153.3 1253.0,154.4 1252.1,154.0 1251.4,154.7 1249.3,157.4 1246.0,158.5 1243.2,157.1 1241.5,156.5 1240.7,158.1 1239.9,158.8 1238.5,158.3 1238.4,160.3 1238.1,163.5 1236.9,166.6 1235.0,168.4 1233.0,169.0 1231.4,169.4 1230.3,170.5 1229.9,172.1 1229.8,174.0 1228.7,175.8 1227.4,177.7 1226.9,179.4 1229.5,180.4Z" fill="#6ba7ad"/>
<path d="M1235.1,191.2 1234.6,192.2 1235.5,192.8 1235.6,194.5 1234.3,197.7 1234.6,200.6 1236.9,202.0 1238.1,202.3 1237.0,203.4 1236.7,206.0 1237.9,209.1 1238.1,211.0 1238.0,211.9 1238.4,212.3 1240.0,212.3 1242.3,212.2 1244.4,212.5 1245.7,213.5 1248.8,215.1 1251.1,215.7 1251.9,214.6 1252.3,213.9 1253.5,214.4 1256.2,214.1 1259.2,212.5 1261.2,211.4 1261.8,212.2 1262.2,212.1 1263.2,211.7 1263.3,209.7 1262.9,206.0 1263.4,202.5 1264.9,200.8 1265.6,200.8 1265.1,200.6 1264.1,198.5 1264.6,196.1 1264.5,193.4 1262.6,191.0 1260.6,189.5 1260.4,189.2 1260.7,189.3 1259.5,188.4 1257.1,188.1 1253.7,186.1 1250.4,184.9 1248.5,185.6 1248.0,186.6 1247.5,186.2 1245.9,185.8 1243.2,186.7 1240.6,187.8 1239.0,187.2 1238.3,185.6 1237.1,184.8 1234.5,185.1 1235.9,188.6Z" fill="#76b0a9"/>
<path d="M1240.8,356.6 1240.6,359.6 1239.1,363.1 1237.8,365.8 1237.7,367.1 1238.0,367.3 1237.4,367.6 1235.9,368.7 1236.4,371.4 1237.8,374.2 1239.8,375.6 1240.7,375.6 1240.7,374.9 1240.7,374.8 1240.7,374.7 1240.7,374.6 1240.7,374.5 1240.7,374.4 1240.7,374.3 1240.7,374.2 1240.8,374.1 1240.8,374.0 1242.3,372.0 1244.0,370.4 1245.5,369.5 1245.6,369.5 1245.7,369.5 1245.8,369.5 1245.9,369.5 1246.0,369.4 1246.1,369.5 1247.5,369.3 1248.6,368.9 1249.9,368.8 1251.7,369.2 1251.8,369.2 1251.9,369.2 1252.0,369.2 1252.2,369.3 1252.3,369.3 1252.4,369.3 1252.6,369.4 1254.8,370.0 1256.7,370.6 1257.9,371.5 1258.0,371.6 1258.0,371.6 1258.1,371.7 1258.1,371.8 1258.1,371.9 1258.1,372.0 1258.1,372.2 1258.1,372.3 1258.3,374.7 1259.1,376.4 1259.5,377.6 1260.4,378.4 1261.3,379.6 1262.6,381.3 1264.3,382.2 1265.8,382.8 1267.8,382.7 1269.0,381.3 1270.2,380.5 1271.4,380.3 1271.5,380.3 1271.6,380.3 1271.7,380.3 1271.8,380.3 1271.9,380.3 1272.1,380.4 1272.2,380.4 1272.3,380.4 1272.4,380.5 1272.6,380.5 1272.7,380.6 1272.8,380.6 1272.9,380.7 1273.0,380.7 1273.2,380.8 1273.3,380.8 1274.5,381.8 1274.8,383.0 1275.0,384.4 1276.5,386.1 1278.8,385.6 1281.2,385.8 1281.3,385.8 1281.4,385.9 1281.5,385.9 1281.7,386.0 1281.8,386.0 1281.9,386.1 1282.1,386.1 1282.2,386.2 1282.3,386.3 1282.4,386.4 1282.5,386.4 1282.6,386.5 1283.3,387.5 1283.3,388.3 1283.3,389.2 1283.3,389.3 1283.3,389.4 1283.3,389.4 1283.3,389.5 1283.3,389.6 1283.3,389.7 1283.3,389.8 1283.3,389.9 1283.3,390.0 1283.3,390.1 1283.2,390.1 1283.2,390.2 1283.1,390.3 1283.1,390.4 1282.5,391.2 1281.9,392.0 1280.7,393.4 1279.0,395.1 1278.9,395.2 1278.8,395.2 1277.0,396.2 1275.8,396.7 1274.8,397.4 1273.5,398.8 1273.1,399.1 1273.2,399.3 1273.2,400.1 1273.6,399.7 1274.9,398.3 1276.0,397.4 1277.3,396.7 1279.2,395.3 1281.2,393.6 1282.4,392.4 1283.1,391.6 1283.1,391.5 1283.2,391.5 1283.2,391.5 1284.4,390.7 1286.2,389.5 1288.4,389.2 1290.6,389.5 1292.0,389.0 1293.4,387.5 1294.7,386.0 1296.0,385.1 1297.5,384.2 1298.6,383.3 1299.4,381.7 1299.4,380.8 1298.7,380.2 1298.6,380.2 1298.5,380.2 1298.5,380.1 1298.4,380.1 1297.8,379.2 1297.7,378.1 1297.5,376.6 1297.5,376.5 1297.4,376.3 1297.4,376.2 1297.4,376.0 1297.4,375.9 1297.4,375.7 1297.2,373.6 1297.2,373.6 1295.6,372.0 1294.1,370.9 1294.5,370.5 1294.9,369.9 1293.2,368.6 1289.9,366.8 1288.0,364.8 1288.0,362.9 1287.5,361.2 1285.9,359.5 1285.0,357.9 1284.7,356.6 1283.3,356.0 1280.7,355.5 1281.1,354.8 1282.1,353.0 1283.1,350.3 1283.2,347.4 1281.6,345.4 1280.2,344.9 1279.5,344.6 1278.4,343.0 1276.4,341.7 1275.2,339.1 1273.8,337.4 1271.9,337.4 1269.7,337.8 1267.5,337.2 1265.8,335.6 1264.2,334.6 1262.6,334.8 1261.0,335.0 1259.2,334.3 1257.3,333.7 1255.1,333.9 1252.6,335.7 1251.9,337.2 1252.4,338.1 1252.9,339.1 1252.3,341.4 1250.6,344.7 1248.6,346.9 1247.8,347.4 1247.9,347.6 1247.5,349.6 1245.3,352.7 1242.0,355.0 1240.5,355.9 1240.9,355.8Z" fill="#b7e196"/>
<path d="M1252.7,322.1 1251.7,322.7 1251.1,323.7 1252.0,324.4 1252.6,324.9 1252.4,326.6 1253.2,329.5 1254.8,332.3 1255.1,333.9 1257.3,333.7 1259.2,334.3 1261.0,335.0 1262.6,334.8 1264.2,334.6 1265.8,335.6 1267.5,337.2 1269.7,337.8 1271.9,337.4 1273.8,337.4 1275.2,339.1 1276.4,341.7 1278.4,343.0 1278.3,339.6 1279.0,336.4 1281.5,334.3 1284.2,333.6 1284.4,333.5 1283.1,332.6 1282.6,330.3 1283.9,327.0 1285.7,324.2 1286.7,323.2 1286.7,323.5 1286.9,322.7 1288.0,319.6 1288.8,317.6 1286.8,316.2 1286.2,316.6 1284.4,315.7 1281.2,315.9 1277.8,316.8 1275.6,316.2 1274.7,314.9 1273.8,315.3 1271.7,316.7 1268.5,316.9 1265.7,316.5 1264.4,317.8 1264.0,319.7 1263.1,319.8 1260.8,318.6 1257.7,318.7 1255.3,319.6 1253.9,321.2Z" fill="#589ab4"/>
<path d="M1287.8,207.8 1285.8,206.6 1285.4,205.0 1285.3,203.1 1284.1,201.2 1281.9,200.1 1280.1,199.6 1278.9,198.7 1277.4,199.6 1276.7,199.7 1275.7,198.5 1273.5,198.0 1270.4,199.4 1267.3,201.0 1265.1,200.6 1265.6,200.8 1264.9,200.8 1263.4,202.5 1262.9,206.0 1263.3,209.7 1263.2,211.7 1262.2,212.1 1261.8,212.2 1261.2,211.4 1259.2,212.5 1256.2,214.1 1253.5,214.4 1252.3,213.9 1251.9,214.6 1251.1,215.7 1248.8,215.1 1245.7,213.5 1244.2,215.6 1244.7,218.8 1246.5,221.8 1247.0,223.5 1246.4,224.5 1247.0,226.0 1248.1,228.8 1247.6,232.2 1245.9,234.8 1245.5,235.9 1246.0,236.2 1245.3,237.2 1244.4,239.6 1245.6,242.0 1247.3,242.8 1249.2,243.8 1250.3,244.6 1251.4,244.4 1252.7,244.3 1254.5,244.7 1256.6,245.3 1256.7,245.3 1258.7,245.3 1259.8,245.0 1259.0,244.2 1258.0,238.5 1258.3,232.5 1257.6,226.0 1261.1,222.5 1266.8,218.2 1272.5,219.6 1279.6,216.8 1285.3,214.0 1291.0,211.8 1292.2,209.6 1291.0,208.9ZM1266.0,255.8 1268.3,251.4 1266.0,255.8Z" fill="#5f9eb2"/>
<path d="M1276.1,156.9 1275.7,157.8 1276.5,158.1 1276.6,159.1 1275.4,161.5 1276.9,164.5 1279.9,166.8 1281.8,167.5 1281.7,168.0 1282.0,170.0 1284.0,173.2 1285.5,176.2 1285.4,178.1 1285.7,179.1 1287.0,179.9 1287.3,181.0 1286.7,182.5 1285.0,185.5 1284.5,187.4 1284.5,188.1 1284.5,188.9 1284.0,190.7 1282.6,192.9 1280.7,194.8 1279.7,196.5 1278.9,198.7 1280.1,199.6 1281.9,200.1 1284.1,201.2 1285.3,203.1 1285.4,205.0 1285.8,206.6 1287.8,207.8 1291.0,208.9 1292.2,209.6 1292.5,209.0 1298.1,206.8 1303.8,209.0 1306.7,208.1 1307.5,206.4 1307.3,203.6 1307.1,201.9 1308.6,201.4 1309.9,200.8 1309.2,198.7 1308.0,195.3 1308.1,192.0 1308.1,190.0 1306.7,189.1 1305.7,187.7 1306.8,185.1 1308.6,183.6 1310.7,182.7 1313.0,181.6 1315.2,180.7 1315.6,180.8 1311.0,179.1 1305.3,176.9 1306.7,172.0 1312.4,167.7 1318.8,164.8 1319.5,161.3 1312.4,159.1 1305.3,158.4 1298.1,157.7 1288.2,155.6 1277.2,154.2 1277.2,154.7Z" fill="#92cd99"/>
<path d="M1260.3,298.5 1260.8,299.8 1261.3,301.2 1260.3,303.4 1259.1,306.1 1259.4,308.5 1260.0,310.1 1259.2,310.8 1257.3,311.5 1256.1,313.1 1256.0,316.0 1255.3,319.6 1257.7,318.7 1260.8,318.6 1263.1,319.8 1264.0,319.7 1264.4,317.8 1265.7,316.5 1268.5,316.9 1271.7,316.7 1273.8,315.3 1274.7,314.9 1275.6,316.2 1277.8,316.8 1281.2,315.9 1284.4,315.7 1286.2,316.6 1286.8,316.2 1283.9,314.0 1276.8,309.7 1269.7,304.0 1264.0,297.6 1263.0,295.4 1261.5,296.5Z" fill="#7bb5a6"/>
<path d="M1260.4,189.2 1260.6,189.5 1262.6,191.0 1264.5,193.4 1264.6,196.1 1264.1,198.5 1265.1,200.6 1267.3,201.0 1270.4,199.4 1273.5,198.0 1275.7,198.5 1276.7,199.7 1277.4,199.6 1278.9,198.7 1279.7,196.5 1280.7,194.8 1282.6,192.9 1284.0,190.7 1284.5,188.9 1284.5,188.1 1284.5,187.4 1285.0,185.5 1286.7,182.5 1287.3,181.0 1287.0,179.9 1285.7,179.1 1285.4,178.1 1285.5,176.2 1284.0,173.2 1282.0,170.0 1281.7,168.0 1281.8,167.5 1279.9,166.8 1276.9,164.5 1275.4,161.5 1273.6,164.7 1272.5,167.5 1272.2,169.0 1272.7,169.4 1272.8,170.0 1271.0,171.3 1267.7,173.3 1265.3,175.4 1265.0,176.9 1265.4,178.0 1265.1,179.1 1263.7,180.5 1261.7,181.6 1260.2,183.0 1259.5,185.4 1259.5,188.4 1260.7,189.3Z" fill="#92cd99"/>
<path d="M1280.2,344.9 1281.6,345.4 1283.2,347.4 1284.1,346.3 1285.1,346.7 1287.1,347.3 1290.1,346.7 1292.9,345.9 1294.6,346.9 1295.1,348.2 1295.7,347.4 1297.2,345.6 1299.9,345.2 1302.8,346.1 1304.8,345.7 1305.7,344.4 1306.4,344.4 1307.8,345.4 1309.7,345.5 1311.8,342.7 1313.7,339.6 1315.6,338.5 1316.1,338.4 1315.2,335.3 1312.4,330.4 1306.7,329.6 1299.6,325.4 1292.5,320.4 1288.8,317.6 1288.0,319.6 1286.9,322.7 1286.7,323.5 1286.7,323.2 1285.7,324.2 1283.9,327.0 1282.6,330.3 1283.1,332.6 1284.4,333.5 1284.2,333.6 1281.5,334.3 1279.0,336.4 1278.3,339.6 1278.4,343.0 1279.5,344.6Z" fill="#6ba7ad"/>
<path d="M1316.6,204.7 1314.7,205.3 1314.3,205.9 1317.4,206.8 1320.9,211.1 1320.2,214.7 1325.2,216.1 1328.0,213.2 1326.6,209.0 1320.9,204.7 1319.5,204.1 1318.2,205.1Z" fill="#7bb5a6"/>
<path d="M1282.1,353.0 1281.1,354.8 1280.7,355.5 1283.3,356.0 1284.7,356.6 1285.0,357.9 1285.9,359.5 1287.5,361.2 1288.0,362.9 1288.0,364.8 1289.9,366.8 1293.2,368.6 1294.9,369.9 1294.5,370.5 1294.1,370.9 1295.6,372.0 1297.2,373.6 1297.2,371.6 1297.6,370.0 1297.6,369.9 1297.7,369.8 1297.8,369.8 1297.9,369.7 1298.0,369.6 1298.1,369.6 1298.2,369.5 1298.3,369.5 1300.6,369.2 1302.8,368.5 1304.7,367.1 1305.7,366.5 1306.0,365.9 1308.0,365.6 1308.2,365.3 1307.4,363.6 1308.1,360.5 1309.4,357.4 1308.6,355.6 1306.7,354.6 1306.6,352.8 1307.5,349.7 1307.0,346.4 1306.4,344.4 1305.7,344.4 1304.8,345.7 1302.8,346.1 1299.9,345.2 1297.2,345.6 1295.7,347.4 1295.1,348.2 1294.6,346.9 1292.9,345.9 1290.1,346.7 1287.1,347.3 1285.1,346.7 1284.1,346.3 1283.2,347.4 1283.1,350.3Z" fill="#6ba7ad"/>
<path d="M1274.6,413.5 1275.9,413.4 1277.8,413.3 1276.1,413.2 1275.0,413.3ZM1300.8,430.7 1303.3,431.9 1304.6,431.5 1305.2,430.2 1306.6,430.4 1309.4,431.2 1313.0,430.2 1315.8,428.3 1317.3,428.2 1318.2,429.6 1320.0,429.8 1323.0,429.2 1326.3,429.7 1328.6,430.9 1329.5,430.4 1330.0,428.9 1331.4,428.5 1334.1,428.8 1336.9,427.8 1336.8,427.0 1335.9,425.4 1334.5,424.2 1334.4,424.1 1334.3,424.0 1334.1,422.5 1334.5,420.4 1334.3,418.1 1333.7,420.1 1333.7,420.2 1333.6,420.3 1333.5,420.3 1333.5,420.4 1333.4,420.5 1333.4,420.5 1333.3,420.5 1333.2,420.6 1333.2,420.6 1333.1,420.6 1333.0,420.5 1333.0,420.5 1332.9,420.5 1332.9,420.4 1332.8,420.3 1331.3,419.0 1329.6,417.5 1328.2,416.0 1326.9,415.3 1325.5,414.8 1324.0,414.3 1323.9,414.3 1323.8,414.2 1323.8,414.1 1323.7,414.1 1323.6,414.0 1323.5,413.9 1323.5,413.8 1323.4,413.7 1323.4,413.6 1323.4,413.5 1323.4,413.4 1323.4,413.3 1323.4,413.2 1323.4,413.1 1323.5,411.6 1323.6,410.2 1324.2,408.7 1323.6,407.0 1322.4,404.9 1321.5,402.8 1321.5,402.7 1321.5,402.6 1321.6,402.1 1319.5,401.7 1315.9,399.9 1312.3,398.9 1309.9,399.3 1309.2,399.6 1309.1,398.4 1308.5,396.7 1306.6,396.2 1303.3,396.3 1299.7,395.1 1296.9,392.6 1296.4,392.1 1296.0,392.7 1296.0,394.7 1296.1,397.1 1296.9,399.4 1296.8,401.1 1296.9,402.3 1298.0,403.0 1299.1,404.1 1300.2,406.0 1301.6,407.8 1301.6,407.9 1301.7,408.0 1301.7,408.1 1302.9,409.3 1304.1,410.3 1304.8,411.4 1304.8,411.5 1304.8,411.6 1304.8,411.7 1304.8,411.8 1304.8,411.9 1304.7,412.0 1304.7,412.1 1304.6,412.1 1304.6,412.2 1304.5,412.3 1304.4,412.4 1302.8,413.9 1301.0,415.9 1300.9,416.0 1300.8,416.1 1300.7,416.2 1300.6,416.3 1300.5,416.4 1300.4,416.4 1300.3,416.5 1300.2,416.5 1300.1,416.6 1298.4,416.6 1297.1,416.1 1295.9,415.9 1294.3,416.3 1292.2,417.0 1292.1,417.0 1292.0,417.0 1290.0,416.9 1289.1,416.6 1289.6,417.2 1291.0,418.5 1292.9,419.5 1293.1,419.5 1293.2,419.6 1295.1,420.9 1296.5,421.9 1297.3,422.7 1297.5,423.3 1298.2,424.1 1298.3,424.1 1298.3,424.2 1298.4,424.3 1299.7,425.9 1301.0,428.0 1301.1,428.1 1301.1,428.3 1301.1,428.4 1301.1,428.5 1301.1,428.7 1301.1,428.8 1301.1,428.9 1301.0,429.0 1301.0,429.1 1300.9,429.2 1300.8,429.2 1300.7,429.3 1300.6,429.4 1300.5,429.4 1300.4,429.5 1300.3,429.5 1298.3,430.2 1298.1,430.3ZM1366.4,420.1 1365.4,419.5 1366.7,420.3ZM1321.7,399.6 1321.9,400.5 1321.9,400.5 1322.1,399.9ZM1278.2,413.4 1278.0,413.3 1277.9,413.3 1277.8,413.3Z" fill="#b3df95"/>
<path d="M1294.4,434.5 1296.6,435.2 1297.0,436.0 1296.3,438.1 1297.5,441.3 1298.8,444.1 1297.6,445.3 1296.1,445.8 1297.8,447.2 1300.0,450.4 1299.9,453.5 1299.6,454.9 1300.9,455.3 1301.7,456.6 1301.0,459.5 1301.3,462.7 1303.9,464.6 1305.9,465.2 1305.6,466.0 1305.6,466.1 1311.1,466.9 1315.4,469.8 1318.1,469.1 1318.7,467.5 1319.0,466.2 1319.6,465.7 1320.9,464.4 1322.4,461.6 1323.4,458.5 1324.6,456.7 1326.5,455.9 1328.0,455.0 1328.4,453.6 1329.2,452.4 1330.8,451.1 1331.1,450.7 1331.1,449.4 1330.5,447.2 1330.5,445.4 1330.5,445.3 1330.6,445.3 1330.6,445.2 1330.7,445.1 1330.8,445.1 1332.1,444.1 1332.9,442.4 1332.9,442.3 1333.0,442.2 1333.0,442.1 1333.0,441.9 1333.1,441.8 1333.1,441.7 1333.9,439.9 1334.8,438.7 1336.1,438.1 1337.3,436.9 1339.0,435.5 1340.1,433.9 1340.2,433.8 1340.2,433.8 1340.3,433.7 1341.0,432.5 1341.6,431.9 1340.3,430.9 1339.0,430.0 1337.7,429.6 1337.6,429.5 1337.5,429.5 1337.5,429.4 1337.4,429.4 1337.3,429.3 1337.3,429.2 1337.2,429.1 1337.2,429.0 1337.1,428.9 1336.9,427.8 1334.1,428.8 1331.4,428.5 1330.0,428.9 1329.5,430.4 1328.6,430.9 1326.3,429.7 1323.0,429.2 1320.0,429.8 1318.2,429.6 1317.3,428.2 1315.8,428.3 1313.0,430.2 1309.4,431.2 1306.6,430.4 1305.2,430.2 1304.6,431.5 1303.3,431.9 1300.8,430.7 1298.1,430.3 1296.6,431.4 1295.2,432.4 1294.2,432.8 1293.6,433.0Z" fill="#9bd694"/>
<path d="M1313.0,181.6 1310.7,182.7 1308.6,183.6 1306.8,185.1 1305.7,187.7 1306.7,189.1 1308.1,190.0 1308.1,192.0 1308.0,195.3 1309.2,198.7 1309.9,200.8 1308.6,201.4 1307.1,201.9 1307.3,203.6 1307.5,206.4 1306.7,208.1 1308.8,207.5 1312.4,205.4 1314.3,205.9 1314.7,205.3 1316.6,204.7 1318.2,205.1 1319.5,204.1 1314.5,201.9 1315.9,197.6 1316.7,191.9 1310.2,192.6 1311.0,189.8 1315.9,185.5 1316.7,181.2 1315.6,180.8 1315.2,180.7Z" fill="#5f9eb2"/>
<path d="M1307.5,349.7 1306.6,352.8 1306.7,354.6 1308.6,355.6 1309.4,357.4 1308.1,360.5 1307.4,363.6 1308.2,365.3 1308.0,365.6 1306.0,365.9 1305.7,366.5 1306.2,366.2 1307.7,366.3 1307.8,366.3 1309.2,366.2 1310.7,365.3 1312.6,364.3 1314.6,363.8 1316.6,363.3 1318.5,362.3 1318.7,362.2 1320.4,361.4 1321.7,361.5 1323.1,361.8 1324.7,361.3 1324.8,361.3 1324.9,361.3 1325.0,361.3 1325.1,361.3 1325.2,361.3 1325.3,361.3 1325.4,361.3 1325.5,361.4 1325.6,361.4 1325.7,361.5 1325.7,361.6 1325.8,361.6 1325.9,361.7 1325.9,361.8 1325.9,361.9 1325.9,362.1 1325.9,362.2 1326.1,364.1 1326.6,365.0 1327.6,370.4 1327.5,371.4 1327.5,371.5 1327.5,371.7 1327.5,371.7 1327.5,371.7 1327.7,371.0 1327.6,370.7 1325.9,360.5 1321.6,348.5 1317.4,342.5 1316.1,338.4 1315.6,338.5 1313.7,339.6 1311.8,342.7 1309.7,345.5 1307.8,345.4 1306.4,344.4 1307.0,346.4Z" fill="#92cd99"/>
<path d="M1299.4,381.7 1298.6,383.3 1298.9,382.9 1299.9,381.6 1299.7,381.0 1299.4,380.8ZM1296.9,392.6 1299.7,395.1 1303.3,396.3 1306.6,396.2 1308.5,396.7 1309.1,398.4 1309.2,399.6 1309.9,399.3 1312.3,398.9 1315.9,399.9 1319.5,401.7 1321.6,402.1 1321.8,401.0 1321.9,400.5 1321.9,400.5 1321.7,399.6 1322.1,399.9 1322.1,399.8 1321.7,398.5 1321.6,398.4 1321.6,398.3 1321.6,398.2 1321.5,398.1 1321.5,398.0 1321.5,397.9 1321.5,397.8 1321.5,397.7 1321.5,397.6 1321.5,397.6 1321.5,397.5 1321.6,397.4 1321.6,397.4 1321.7,397.3 1323.1,397.1 1325.3,396.7 1327.4,395.6 1328.9,394.2 1329.9,393.4 1331.3,392.7 1331.4,392.7 1331.5,392.7 1331.6,392.6 1331.7,392.6 1331.8,392.6 1331.9,392.6 1332.0,392.6 1333.9,392.8 1336.1,392.8 1338.1,393.2 1339.7,393.8 1339.7,393.8 1339.8,393.9 1337.0,390.4 1331.9,381.0 1327.7,371.0 1327.5,371.7 1327.5,371.7 1327.5,371.8 1327.5,371.9 1327.5,372.1 1327.4,372.2 1327.4,372.3 1327.4,372.4 1327.4,372.6 1327.3,372.7 1327.3,372.8 1327.2,372.8 1327.2,372.9 1327.1,373.0 1327.0,373.0 1326.9,373.0 1325.0,373.1 1322.6,372.8 1320.5,373.2 1318.9,373.9 1317.9,374.3 1316.6,374.4 1314.6,375.2 1312.3,376.6 1310.5,377.4 1310.2,377.9 1309.9,378.1 1309.2,379.1 1308.1,380.8 1308.1,380.9 1308.0,381.0 1307.9,381.1 1306.2,382.7 1304.4,383.7 1303.4,384.0 1304.5,385.4 1306.2,386.9 1306.2,387.0 1306.3,387.0 1306.3,387.1 1306.4,387.2 1306.4,387.2 1306.5,387.3 1306.5,387.4 1306.5,387.4 1306.5,387.5 1306.5,387.6 1306.5,387.6 1306.5,387.7 1306.5,387.7 1305.9,388.3 1305.0,389.3 1304.9,389.4 1304.9,389.4 1304.8,389.5 1304.7,389.6 1304.7,389.6 1304.6,389.7 1304.5,389.7 1304.4,389.8 1304.3,389.8 1302.8,390.5 1300.8,391.3 1298.6,391.4 1296.8,391.4 1296.4,392.1ZM1341.9,396.5 1342.1,396.9 1342.9,398.0 1343.2,398.1Z" fill="#b3df95"/>
<path d="M1356.8,480.7 1356.9,480.1 1355.8,480.0 1356.0,479.6 1355.5,479.3 1355.5,479.3 1355.4,479.2 1355.3,479.2 1355.2,479.1 1355.1,479.1 1355.1,479.0 1355.0,479.0 1353.6,478.0 1352.5,477.3 1351.7,476.8 1351.7,476.7 1351.6,476.7 1351.6,476.6 1351.6,476.6 1351.5,476.5 1351.5,476.5 1351.5,476.4 1351.6,476.3 1351.3,474.9 1350.3,472.9 1350.2,470.5 1350.2,470.3 1350.2,470.2 1350.3,470.1 1351.0,468.1 1351.4,466.5 1351.4,465.4 1351.4,465.4 1351.1,464.4 1351.6,463.2 1351.7,463.1 1351.7,463.0 1351.8,462.9 1351.9,462.8 1352.0,462.8 1352.1,462.7 1352.2,462.6 1352.3,462.6 1352.4,462.5 1354.1,461.4 1355.4,459.7 1356.4,458.6 1357.5,458.4 1356.5,458.6 1356.4,458.4 1355.2,457.3 1353.6,456.4 1352.2,455.9 1351.3,455.2 1350.8,454.7 1350.1,454.9 1348.4,455.0 1346.6,455.4 1346.5,455.4 1346.3,455.5 1346.2,455.5 1346.1,455.5 1345.9,455.5 1345.8,455.6 1344.3,455.9 1343.2,456.4 1342.2,456.4 1341.1,456.0 1339.4,455.9 1337.1,456.4 1336.0,457.4 1335.0,458.2 1334.9,458.3 1334.8,458.3 1334.8,458.4 1334.7,458.4 1334.6,458.4 1334.5,458.5 1334.4,458.5 1334.3,458.5 1334.2,458.5 1334.2,458.4 1334.1,458.4 1334.0,458.4 1333.9,458.4 1333.9,458.3 1333.8,458.2 1333.8,458.2 1333.7,458.1 1333.7,458.0 1333.0,457.1 1332.2,456.2 1332.1,456.1 1332.1,456.0 1332.0,456.0 1331.9,455.9 1331.8,455.8 1331.8,455.8 1331.7,455.7 1331.7,455.6 1331.6,455.6 1331.5,455.5 1330.7,454.4 1330.6,453.3 1331.1,451.7 1331.1,450.7 1330.8,451.1 1329.2,452.4 1328.4,453.6 1328.0,455.0 1326.5,455.9 1324.6,456.7 1323.4,458.5 1322.4,461.6 1320.9,464.4 1319.6,465.7 1319.0,466.2 1318.7,467.5 1318.1,469.1 1321.1,468.3 1325.4,472.6 1328.9,478.3 1332.5,484.0 1334.6,488.3 1333.1,485.3 1333.2,485.2 1333.2,485.1 1333.2,485.0 1333.3,485.0 1333.4,484.9 1333.4,484.8 1333.5,484.8 1333.6,484.8 1335.2,484.0 1337.2,482.9 1339.3,482.1 1339.4,482.1 1339.5,482.1 1341.8,482.5 1343.5,482.7 1345.0,482.2 1346.6,481.9 1348.7,482.1 1351.2,482.0 1353.0,481.1 1354.6,480.3 1355.7,480.0 1355.8,480.0 1355.9,480.1 1356.0,480.1 1356.0,480.1 1356.1,480.2 1356.2,480.2 1356.3,480.3 1356.3,480.4 1356.4,480.5 1356.5,480.6 1356.5,480.6 1356.5,480.7 1356.6,481.0ZM1375.6,425.0 1371.2,422.8 1375.6,425.0ZM1354.4,436.2 1353.4,435.2 1353.4,435.1 1353.4,434.7 1354.2,435.2 1352.7,434.3 1351.5,433.2 1351.2,433.0 1351.9,433.9 1353.2,435.0Z" fill="#85bfa1"/>
<path d="M1450.4,500.0 1450.7,500.5 1452.8,501.2 1453.9,503.8 1454.1,507.1 1455.2,509.3 1455.8,509.9 1454.7,510.6 1454.2,512.7 1456.1,515.9 1457.1,517.6 1460.0,514.7 1465.1,511.2 1469.4,511.2 1471.9,514.7 1477.1,513.0 1483.9,516.4 1492.4,518.9 1498.4,522.3 1502.1,527.2 1502.1,527.0 1502.2,523.2 1503.2,521.1 1504.7,521.3 1505.1,521.5 1504.6,518.9 1505.5,514.6 1507.5,512.5 1507.0,512.7 1506.8,512.8 1506.7,512.9 1506.6,512.9 1504.1,514.5 1502.3,516.2 1501.2,516.9 1499.9,517.5 1499.8,517.5 1499.7,517.6 1499.6,517.6 1499.5,517.6 1499.4,517.7 1499.3,517.7 1499.2,517.7 1499.1,517.7 1497.2,517.5 1495.4,516.7 1493.7,515.3 1493.6,515.3 1493.6,515.2 1491.8,513.8 1489.9,513.2 1488.2,513.0 1487.0,512.5 1486.9,512.5 1486.9,512.4 1486.8,512.4 1486.8,512.3 1486.3,511.2 1485.1,510.0 1483.1,508.6 1481.4,507.1 1481.3,507.0 1481.2,506.9 1481.2,506.8 1481.1,505.0 1481.4,503.1 1480.9,501.2 1479.9,499.6 1479.0,498.2 1478.7,497.1 1477.9,495.9 1476.6,495.3 1475.6,494.8 1474.4,495.6 1472.1,495.9 1470.0,496.0 1468.7,496.9 1468.7,496.9 1468.6,497.0 1468.6,497.0 1467.3,497.7 1465.7,497.9 1463.6,497.7 1461.2,497.7 1459.2,498.1 1457.8,498.4 1456.6,498.1 1455.2,497.9 1453.3,498.5 1453.1,498.6 1453.0,498.6 1452.9,498.7 1452.8,498.7 1450.9,499.0ZM1510.3,512.3 1511.6,512.7 1511.7,511.2 1509.5,509.5 1511.2,510.7 1511.1,510.8 1511.1,510.9 1511.1,511.0 1511.0,511.1 1511.0,511.2 1510.0,511.9 1508.7,512.1 1508.6,512.2ZM1457.5,475.0 1446.3,470.5 1457.4,475.0 1457.7,475.2 1457.8,475.3 1457.9,475.3 1458.3,475.5 1468.5,482.2Z" fill="#a9db95"/>
<path d="M1401.1,487.3 1403.0,484.1 1404.0,482.4 1404.6,481.5 1405.8,479.7 1408.5,477.5 1410.8,476.3 1411.3,476.4 1411.2,476.3 1411.0,476.3 1409.9,476.5 1408.0,477.4 1405.7,478.5 1405.5,478.5 1405.4,478.5 1405.3,478.5 1405.2,478.6 1403.3,478.2 1401.7,477.6 1400.4,477.3 1399.0,477.5 1397.2,477.4 1397.2,477.4 1394.8,476.5 1392.2,475.8 1389.9,476.0 1388.4,476.5 1388.3,476.5 1388.2,476.5 1388.2,476.5 1388.1,476.5 1388.1,476.4 1388.0,476.4 1388.0,476.4 1388.0,476.3 1387.9,476.3 1387.5,475.0 1386.6,473.1 1385.4,471.1 1384.7,469.4 1384.6,468.3 1384.6,468.3 1383.9,467.2 1382.1,465.8 1380.4,464.0 1379.9,462.0 1379.9,461.9 1379.9,461.7 1380.0,459.5 1379.0,457.8 1377.9,456.5 1377.2,455.7 1377.1,455.5 1377.1,455.5 1377.1,456.5 1377.8,457.3 1379.0,458.4 1379.8,459.8 1379.9,459.9 1379.9,460.0 1379.9,460.1 1379.6,461.9 1379.3,463.9 1379.7,465.6 1379.8,465.7 1379.8,465.8 1379.9,466.0 1379.9,466.1 1379.9,466.2 1379.9,466.3 1379.9,466.4 1379.8,466.5 1379.8,466.6 1379.8,466.7 1379.7,466.8 1379.6,466.8 1378.4,467.9 1377.2,468.2 1376.1,468.2 1375.3,469.9 1374.6,472.3 1374.7,474.6 1374.7,474.8 1374.7,474.9 1374.7,475.0 1374.7,475.1 1374.7,475.2 1374.7,475.3 1373.8,476.5 1372.0,476.9 1370.0,477.4 1369.9,477.5 1369.8,477.5 1369.7,477.6 1369.6,477.6 1369.5,477.6 1368.0,478.2 1366.8,479.1 1365.4,479.3 1363.3,479.3 1363.2,479.3 1363.1,479.3 1360.7,479.7 1358.6,480.2 1356.9,480.1 1356.0,479.6 1355.8,480.0 1356.9,480.1 1356.8,480.7 1356.6,481.0 1356.8,482.1 1356.8,483.5 1357.3,485.1 1357.4,485.2 1357.4,485.3 1357.5,485.4 1357.5,485.5 1357.5,485.7 1357.6,485.8 1357.6,485.9 1358.2,488.0 1358.4,489.5 1357.7,490.6 1357.6,490.6 1357.6,490.7 1356.8,491.9 1356.3,493.7 1356.0,495.9 1355.8,497.9 1355.5,499.4 1355.4,499.5 1355.4,499.6 1355.4,499.6 1355.3,499.7 1355.3,499.7 1355.2,499.8 1355.2,499.8 1355.1,499.8 1355.0,499.8 1355.0,499.8 1354.9,499.8 1354.9,499.8 1354.8,499.8 1354.7,499.7 1354.7,499.7 1354.6,499.6 1354.1,499.1 1354.6,498.2 1352.4,501.8 1348.1,505.3 1350.7,505.0 1353.5,502.6 1355.4,501.6 1356.3,502.4 1357.2,502.3 1359.0,501.1 1362.1,501.0 1365.2,501.6 1367.3,500.4 1368.1,498.5 1368.9,498.6 1371.0,499.5 1374.3,499.0 1377.2,498.4 1378.5,499.5 1379.0,500.3 1380.5,498.9 1383.6,497.3 1386.8,497.9 1388.4,498.7 1388.9,497.4 1390.0,496.1 1392.9,496.7 1396.2,497.1 1398.1,495.1 1398.1,491.2 1397.8,490.6 1399.0,490.2ZM1375.6,425.0 1375.6,425.0 1379.7,427.1Z" fill="#a9db95"/>
<path d="M1401.1,534.2 1400.4,533.7 1401.4,532.5 1401.1,530.0 1399.3,526.8 1399.7,524.5 1401.8,523.5 1401.7,523.1 1400.1,521.8 1399.9,519.2 1400.0,516.1 1398.3,513.7 1396.9,512.6 1397.9,512.0 1399.1,510.5 1398.6,507.7 1398.2,504.4 1398.8,501.7 1398.5,500.3 1397.1,499.4 1397.4,497.9 1398.1,495.1 1396.2,497.1 1392.9,496.7 1390.0,496.1 1388.9,497.4 1388.4,498.7 1386.8,497.9 1383.6,497.3 1380.5,498.9 1379.0,500.3 1378.5,499.5 1377.2,498.4 1374.3,499.0 1371.0,499.5 1368.9,498.6 1368.1,498.5 1367.3,500.4 1365.2,501.6 1362.1,501.0 1359.0,501.1 1357.2,502.3 1356.3,502.4 1355.4,501.6 1353.5,502.6 1350.7,505.0 1353.8,504.6 1359.5,502.5 1365.2,503.9 1370.2,508.2 1373.8,513.9 1375.4,518.1 1372.0,524.9 1378.0,528.3 1384.8,535.2 1390.0,539.4 1396.8,538.6 1402.0,537.3 1402.2,535.6Z" fill="#89c39e"/>
<path d="M1398.1,495.1 1397.4,497.9 1397.1,499.4 1398.5,500.3 1398.8,501.7 1398.2,504.4 1398.6,507.7 1399.1,510.5 1397.9,512.0 1396.9,512.6 1398.3,513.7 1400.0,516.1 1399.9,519.2 1400.1,521.8 1401.7,523.1 1401.8,523.5 1399.7,524.5 1399.3,526.8 1401.1,530.0 1401.4,532.5 1400.4,533.7 1401.1,534.2 1402.2,535.6 1402.0,537.3 1403.6,536.9 1407.9,543.7 1408.0,544.0 1409.9,543.3 1411.8,541.3 1412.4,541.0 1412.9,541.8 1414.8,540.7 1418.0,538.1 1420.6,536.7 1421.3,536.7 1421.1,535.4 1422.2,534.5 1421.9,532.3 1421.1,528.7 1422.3,525.3 1424.4,523.7 1424.7,523.7 1423.8,523.3 1423.9,521.2 1424.8,517.8 1425.1,514.5 1425.1,512.5 1426.4,511.4 1427.8,510.1 1427.2,507.9 1425.6,505.2 1426.0,503.2 1427.5,502.0 1427.8,501.1 1427.7,499.2 1429.5,496.1 1431.4,492.5 1431.3,491.2 1430.6,490.3 1429.5,489.2 1429.4,489.1 1429.4,489.1 1429.4,489.0 1429.3,489.0 1429.3,488.9 1429.3,488.8 1429.3,488.8 1429.3,488.7 1429.4,488.7 1430.1,487.6 1430.1,487.3 1430.1,487.4 1428.5,488.1 1428.4,488.2 1428.3,488.2 1428.2,488.3 1428.1,488.3 1428.0,488.3 1427.9,488.4 1427.8,488.4 1427.6,488.4 1427.5,488.4 1427.4,488.4 1427.3,488.4 1425.3,488.4 1423.7,488.0 1422.4,487.2 1422.3,487.2 1422.3,487.1 1422.2,487.0 1422.1,486.9 1422.1,486.8 1422.0,486.7 1421.9,486.6 1421.9,486.5 1421.9,486.4 1421.1,484.3 1420.7,482.3 1420.5,480.4 1418.8,479.0 1416.9,477.7 1415.4,476.7 1414.5,475.9 1414.4,475.9 1414.4,475.8 1414.4,475.8 1414.4,475.7 1414.4,475.7 1414.4,475.6 1414.4,475.5 1414.4,475.5 1414.5,475.4 1414.5,475.3 1414.6,475.2 1414.8,474.9 1416.3,473.9 1414.7,475.0 1414.6,475.1 1414.5,475.1 1414.4,475.2 1414.2,475.3 1414.1,475.3 1412.3,476.1 1411.2,476.3 1411.3,476.4 1410.8,476.3 1408.5,477.5 1405.8,479.7 1404.6,481.5 1404.0,482.4 1403.0,484.1 1401.1,487.3 1399.0,490.2 1397.8,490.6 1398.1,491.2ZM1435.0,464.4 1431.0,462.1 1435.0,464.4ZM1423.2,459.0 1423.4,459.1 1431.0,462.1Z" fill="#c0e596"/>
<path d="M1441.0,540.9 1437.7,542.0 1435.7,541.4 1435.1,539.9 1434.9,539.7 1433.8,540.2 1431.2,539.0 1427.8,536.6 1424.6,535.7 1422.5,536.5 1421.3,536.7 1420.6,536.7 1418.0,538.1 1414.8,540.7 1412.9,541.8 1412.4,541.0 1411.8,541.3 1409.9,543.3 1408.0,544.0 1410.5,552.2 1413.0,562.5 1417.3,572.7 1420.7,583.0 1423.3,593.2 1424.1,593.4 1425.1,596.0 1425.1,595.9 1425.2,595.8 1425.2,595.6 1425.3,595.5 1425.4,595.3 1425.5,595.2 1425.6,595.1 1425.8,595.0 1425.9,594.9 1426.0,594.8 1426.2,594.7 1426.3,594.7 1428.2,594.3 1429.8,594.5 1430.9,594.4 1431.9,593.8 1433.4,592.8 1435.3,592.4 1437.5,592.1 1439.6,591.1 1441.4,589.9 1442.7,589.5 1443.9,589.8 1445.1,589.9 1446.2,589.4 1446.0,589.6 1447.3,588.4 1448.4,587.1 1449.5,586.2 1449.4,584.6 1449.5,582.8 1450.3,580.9 1451.4,579.1 1451.5,579.0 1451.6,578.9 1451.7,578.9 1451.7,578.8 1451.8,578.7 1451.9,578.6 1452.1,578.5 1452.2,578.4 1453.9,577.2 1455.1,576.3 1455.7,575.9 1456.3,575.7 1457.3,574.7 1458.7,573.2 1460.5,571.5 1461.7,570.5 1462.6,571.0 1454.9,566.8 1448.0,562.5 1442.1,558.2 1441.2,552.2 1444.6,545.4 1445.6,540.7 1444.5,540.2ZM1446.3,612.2 1445.5,613.5 1445.3,613.8 1445.3,614.0 1442.9,618.2ZM1460.8,602.8 1459.4,603.6 1459.6,603.5 1453.2,607.1ZM1466.8,604.5 1467.0,604.4 1466.3,604.4ZM1470.4,600.6 1470.4,600.6 1470.4,600.6Z" fill="#9bd694"/>
<path d="M1431.4,492.5 1429.5,496.1 1427.7,499.2 1427.8,501.1 1427.5,502.0 1426.0,503.2 1425.6,505.2 1427.2,507.9 1427.8,510.1 1426.4,511.4 1425.1,512.5 1425.1,514.5 1424.8,517.8 1423.9,521.2 1423.8,523.3 1424.7,523.7 1424.4,523.7 1422.3,525.3 1421.1,528.7 1421.9,532.3 1422.2,534.5 1421.1,535.4 1421.3,536.7 1422.5,536.5 1424.6,535.7 1427.8,536.6 1431.2,539.0 1433.8,540.2 1434.9,539.7 1435.1,539.9 1435.7,541.4 1437.7,542.0 1441.0,540.9 1444.5,540.2 1445.6,540.7 1446.0,538.6 1448.0,531.7 1452.3,525.8 1455.7,518.9 1457.1,517.6 1456.1,515.9 1454.2,512.7 1454.7,510.6 1455.8,509.9 1455.2,509.3 1454.1,507.1 1453.9,503.8 1452.8,501.2 1450.7,500.5 1450.4,500.0 1450.9,499.0 1450.8,499.0 1449.0,498.6 1447.6,497.6 1446.4,496.8 1445.4,497.7 1444.0,498.7 1442.0,498.9 1439.8,498.5 1439.7,498.4 1439.5,498.4 1439.4,498.4 1439.3,498.3 1439.2,498.3 1439.1,498.3 1439.0,498.2 1438.9,498.2 1437.3,497.5 1435.7,497.1 1434.2,496.7 1433.2,496.0 1433.1,496.0 1433.1,495.9 1433.0,495.8 1432.6,494.0 1431.8,492.0 1431.3,491.2ZM1435.0,464.4 1435.0,464.4 1437.8,466.0Z" fill="#c0e596"/>
<path d="M1510.3,512.3 1508.6,512.2 1507.5,512.5 1505.5,514.6 1504.6,518.9 1505.1,521.5 1504.7,521.3 1503.2,521.1 1502.2,523.2 1502.1,527.0 1502.1,527.2 1503.5,529.2 1505.8,535.2 1507.0,539.4 1510.4,544.6 1516.4,549.7 1523.2,552.2 1525.8,543.7 1529.2,535.2 1528.3,530.0 1523.2,522.4 1516.4,514.7 1511.7,511.2 1511.6,512.7Z" fill="#9bd694"/>
<path d="M1240.8,374.1 1240.7,374.2 1240.7,374.3 1240.7,374.4 1240.7,374.5 1240.7,374.6 1240.7,374.7 1240.7,374.8 1240.7,374.9 1240.8,376.4 1240.6,377.6 1240.8,378.9 1240.8,379.0 1240.9,379.1 1240.9,379.2 1241.0,379.3 1241.0,379.3 1242.0,381.0 1242.3,382.8 1242.3,384.6 1242.3,384.7 1242.3,384.8 1242.3,384.9 1242.4,384.9 1242.5,385.0 1242.5,385.0 1242.6,385.1 1242.7,385.1 1244.5,385.1 1246.6,385.2 1248.4,385.6 1248.5,385.7 1248.6,385.7 1248.7,385.7 1250.4,386.1 1251.9,386.0 1253.0,387.3 1254.0,388.4 1255.2,389.1 1256.7,389.8 1258.5,390.9 1259.7,392.9 1260.1,395.0 1260.8,396.8 1262.1,398.2 1262.2,398.2 1262.3,398.3 1263.6,399.1 1264.4,399.8 1264.7,400.5 1265.1,401.3 1265.2,401.3 1265.3,401.3 1265.3,401.4 1265.4,401.4 1265.5,401.4 1265.6,401.4 1265.6,401.4 1265.7,401.4 1265.8,401.4 1265.9,401.3 1266.0,401.3 1266.1,401.3 1266.2,401.2 1266.3,401.2 1267.8,401.0 1269.7,401.0 1271.7,400.3 1273.5,398.8 1274.8,397.4 1275.8,396.7 1277.0,396.2 1278.8,395.2 1278.9,395.2 1279.0,395.1 1280.7,393.4 1281.9,392.0 1282.5,391.2 1283.1,390.4 1283.1,390.3 1283.2,390.2 1283.2,390.1 1283.3,390.1 1283.3,390.0 1283.3,389.9 1283.3,389.8 1283.3,389.7 1283.3,389.6 1283.3,389.5 1283.3,389.4 1283.3,389.4 1283.3,389.3 1283.3,389.2 1283.3,388.3 1283.3,387.5 1282.6,386.5 1282.5,386.4 1282.4,386.4 1282.3,386.3 1282.2,386.2 1282.1,386.1 1281.9,386.1 1281.8,386.0 1281.7,386.0 1281.5,385.9 1281.4,385.9 1281.3,385.8 1281.2,385.8 1278.8,385.6 1276.5,386.1 1275.0,384.4 1274.8,383.0 1274.5,381.8 1273.3,380.8 1273.2,380.8 1273.0,380.7 1272.9,380.7 1272.8,380.6 1272.7,380.6 1272.6,380.5 1272.4,380.5 1272.3,380.4 1272.2,380.4 1272.1,380.4 1271.9,380.3 1271.8,380.3 1271.7,380.3 1271.6,380.3 1271.5,380.3 1271.4,380.3 1270.2,380.5 1269.0,381.3 1267.8,382.7 1265.8,382.8 1264.3,382.2 1262.6,381.3 1261.3,379.6 1260.4,378.4 1259.5,377.6 1259.1,376.4 1258.3,374.7 1258.1,372.3 1258.1,372.2 1258.1,372.0 1258.1,371.9 1258.1,371.8 1258.1,371.7 1258.0,371.6 1258.0,371.6 1257.9,371.5 1256.7,370.6 1254.8,370.0 1252.6,369.4 1252.4,369.3 1252.3,369.3 1252.2,369.3 1252.0,369.2 1251.9,369.2 1251.8,369.2 1251.7,369.2 1249.9,368.8 1248.6,368.9 1247.5,369.3 1246.1,369.5 1246.0,369.4 1245.9,369.5 1245.8,369.5 1245.7,369.5 1245.6,369.5 1245.5,369.5 1244.0,370.4 1242.3,372.0 1240.8,374.0Z" fill="#89c39e"/>
<path d="M1169.6,323.8 1169.5,323.8 1169.4,323.8 1169.3,323.8 1169.2,323.8 1169.1,323.7 1168.9,323.7 1168.8,323.7 1168.7,323.7 1168.7,323.7 1169.2,330.0 1171.9,338.3 1172.0,338.4 1172.0,338.5 1172.0,338.5 1174.9,348.5 1177.7,358.5 1178.4,366.5 1178.4,366.5 1178.4,366.6 1178.5,366.6 1178.5,366.7 1178.6,366.8 1179.2,368.0 1180.6,369.9 1185.6,369.1 1187.4,371.0 1188.4,371.6 1189.4,373.2 1189.5,373.3 1189.6,373.4 1189.6,373.5 1189.7,373.6 1189.8,373.6 1189.9,373.7 1190.0,373.8 1190.1,373.8 1190.2,373.9 1190.3,373.9 1190.4,373.9 1190.5,373.9 1190.6,373.9 1190.7,373.9 1190.8,373.8 1190.9,373.8 1191.0,373.7 1191.0,373.7 1191.1,373.6 1191.1,373.5 1191.2,373.4 1191.2,373.3 1191.3,373.2 1191.3,373.1 1191.3,372.9 1191.1,371.2 1190.5,369.8 1190.1,368.8 1190.8,367.4 1191.5,365.4 1191.3,362.9 1191.3,362.8 1191.2,362.6 1191.2,362.5 1191.1,362.4 1191.0,362.2 1189.8,360.4 1189.3,359.0 1189.2,358.0 1188.7,357.1 1188.7,357.1 1187.6,355.4 1187.1,353.1 1187.1,350.7 1187.0,350.7 1186.0,349.0 1184.4,347.7 1183.6,346.4 1183.8,344.8 1183.4,342.8 1182.4,340.6 1182.0,338.5 1181.8,336.6 1181.1,335.2 1180.1,334.0 1179.9,332.5 1180.0,330.7 1180.0,330.5 1179.5,328.9 1178.7,327.2 1178.1,325.6 1178.1,325.5 1178.0,325.4 1178.0,325.3 1177.9,325.2 1177.8,325.1 1177.8,325.1 1177.7,325.0 1177.6,324.9 1177.5,324.9 1177.4,324.9 1177.3,324.8 1177.1,324.8 1175.2,324.3 1173.5,323.8 1172.2,323.8 1171.2,324.3 1170.7,324.1Z" fill="#a9db95"/>
<path d="M1202.1,302.0 1202.0,302.0 1201.9,302.0 1201.8,302.0 1201.7,302.0 1201.6,302.0 1201.5,302.0 1201.5,302.1 1201.4,302.1 1201.4,302.2 1201.3,302.2 1201.3,302.3 1200.9,304.1 1201.0,306.3 1201.3,308.5 1201.0,310.1 1200.2,311.5 1200.2,311.6 1200.0,313.5 1200.1,316.0 1199.7,318.8 1199.1,321.0 1199.1,321.0 1199.1,321.1 1199.2,321.2 1199.2,321.3 1199.3,321.4 1199.3,321.4 1199.4,321.5 1199.5,321.6 1199.6,321.6 1199.7,321.7 1199.8,321.7 1200.0,321.8 1200.1,321.8 1202.3,322.0 1204.5,322.2 1204.6,322.2 1204.7,322.2 1204.8,322.2 1204.9,322.2 1205.0,322.2 1205.1,322.2 1205.1,322.1 1205.2,322.1 1205.3,322.0 1205.4,322.0 1205.4,321.9 1205.5,321.9 1205.5,321.8 1205.5,321.7 1205.6,321.6 1205.9,320.0 1206.3,318.3 1207.0,316.8 1207.7,315.3 1207.8,315.3 1207.8,315.2 1208.2,313.7 1208.6,312.0 1209.3,310.1 1210.4,308.0 1210.4,307.9 1210.5,307.8 1210.5,307.7 1210.5,307.5 1210.5,307.4 1210.5,307.3 1209.8,305.5 1208.4,304.1 1207.5,303.0 1207.5,301.9 1207.5,301.9 1207.5,301.8 1207.5,301.7 1207.5,301.6 1207.5,301.6 1207.5,301.5 1207.5,301.4 1207.5,301.4 1207.4,301.3 1207.4,301.3 1207.3,301.2 1207.3,301.2 1207.2,301.2 1207.2,301.2 1207.1,301.2 1205.9,301.6 1204.3,302.1 1202.4,302.0 1202.2,302.0Z" fill="#a9db95"/>
<path d="M1212.8,245.9 1212.7,246.0 1212.7,246.1 1212.6,246.2 1212.5,246.3 1212.5,246.4 1212.4,246.5 1212.4,246.6 1212.4,246.6 1212.3,246.7 1212.3,246.8 1212.3,246.9 1212.3,247.0 1212.3,247.0 1212.3,247.1 1212.3,247.1 1212.4,247.2 1212.4,247.2 1212.4,247.2 1212.5,247.3 1213.2,247.6 1214.2,248.5 1215.9,250.2 1216.0,250.4 1216.1,250.5 1217.5,251.8 1218.8,252.9 1220.0,253.8 1221.3,254.3 1221.4,254.3 1223.1,254.4 1225.0,254.8 1226.8,255.5 1228.5,256.5 1228.6,256.5 1228.6,256.6 1228.7,256.6 1228.8,256.6 1228.9,256.6 1229.0,256.7 1229.0,256.6 1229.1,256.6 1229.9,255.9 1230.9,254.9 1232.3,254.0 1234.1,253.8 1236.4,254.1 1238.2,253.6 1239.4,252.8 1240.7,252.5 1242.7,252.8 1245.0,252.5 1247.2,251.4 1248.8,250.7 1250.1,251.3 1251.2,252.1 1252.6,252.4 1254.5,252.6 1255.5,254.6 1257.0,255.9 1257.0,256.0 1258.0,256.8 1258.8,258.1 1260.0,260.0 1260.1,260.1 1260.2,260.2 1260.3,260.3 1260.4,260.5 1260.6,260.5 1260.7,260.6 1260.8,260.7 1260.9,260.8 1261.0,260.8 1261.2,260.9 1261.3,260.9 1261.4,260.9 1261.5,260.9 1261.5,260.9 1263.1,259.3 1264.0,258.0 1265.0,256.9 1265.1,256.9 1265.1,256.8 1265.2,256.8 1265.2,256.8 1265.3,256.7 1265.7,256.5 1268.3,251.4 1263.3,248.5 1259.8,245.0 1258.7,245.3 1256.7,245.3 1256.6,245.3 1254.5,244.7 1252.7,244.3 1251.4,244.4 1250.3,244.6 1249.2,243.8 1247.3,242.8 1245.0,241.8 1243.2,241.1 1243.1,241.1 1243.0,241.1 1242.9,241.1 1242.8,241.1 1242.7,241.1 1242.6,241.1 1241.2,242.0 1240.0,242.3 1238.6,241.9 1236.8,241.8 1236.7,241.8 1234.6,242.4 1232.6,242.8 1230.7,242.6 1229.3,242.5 1228.1,243.1 1227.0,243.6 1225.5,243.7 1223.4,243.2 1221.2,242.7 1219.3,242.8 1219.2,242.8 1219.1,242.9 1219.0,242.9 1218.9,243.0 1218.8,243.0 1217.4,244.0 1216.1,244.2 1214.7,244.6 1213.0,245.8 1212.9,245.8Z" fill="#cae997"/>
<path d="M1343.4,430.5 1343.3,430.5 1343.2,430.5 1343.0,430.5 1342.9,430.5 1342.8,430.6 1342.8,430.6 1342.7,430.7 1342.6,430.8 1341.7,431.7 1341.0,432.5 1340.3,433.7 1340.2,433.8 1340.2,433.8 1340.1,433.9 1339.0,435.5 1337.3,436.9 1336.1,438.1 1334.8,438.7 1333.9,439.9 1333.1,441.7 1333.1,441.8 1333.0,441.9 1333.0,442.1 1333.0,442.2 1332.9,442.3 1332.9,442.4 1332.1,444.1 1330.8,445.1 1330.7,445.1 1330.6,445.2 1330.6,445.3 1330.5,445.3 1330.5,445.4 1330.5,447.2 1331.1,449.4 1331.1,451.7 1330.6,453.3 1330.7,454.4 1331.5,455.5 1331.6,455.6 1331.7,455.6 1331.7,455.7 1331.8,455.8 1331.8,455.8 1331.9,455.9 1332.0,456.0 1332.1,456.0 1332.1,456.1 1332.2,456.2 1333.0,457.1 1333.7,458.0 1333.7,458.1 1333.8,458.2 1333.8,458.2 1333.9,458.3 1333.9,458.4 1334.0,458.4 1334.1,458.4 1334.2,458.4 1334.2,458.5 1334.3,458.5 1334.4,458.5 1334.5,458.5 1334.6,458.4 1334.7,458.4 1334.8,458.4 1334.8,458.3 1334.9,458.3 1335.0,458.2 1336.0,457.4 1337.1,456.4 1339.4,455.9 1341.1,456.0 1342.2,456.4 1343.2,456.4 1344.3,455.9 1345.8,455.6 1345.9,455.5 1346.1,455.5 1346.2,455.5 1346.3,455.5 1346.5,455.4 1346.6,455.4 1348.4,455.0 1350.1,454.9 1351.3,454.6 1351.4,454.6 1351.5,454.5 1351.5,454.5 1351.6,454.4 1351.6,454.4 1351.7,454.3 1351.7,454.3 1352.2,452.7 1352.3,450.5 1352.6,448.1 1352.6,448.0 1352.6,447.9 1353.4,446.0 1354.7,445.0 1355.3,443.9 1355.3,443.8 1355.3,443.7 1355.3,443.6 1355.2,443.6 1354.6,441.5 1354.6,439.0 1354.6,436.7 1354.6,436.6 1354.6,436.5 1354.5,436.4 1354.5,436.3 1354.4,436.2 1353.2,435.0 1351.9,433.9 1351.1,432.8 1350.9,431.8 1350.9,431.7 1350.8,431.7 1350.8,431.6 1350.7,431.5 1350.7,431.5 1350.6,431.4 1350.6,431.3 1348.9,430.5 1346.4,430.5 1343.7,430.5 1343.5,430.5Z" fill="#d53e4f"/>
<path d="M1352.2,462.6 1352.1,462.7 1352.0,462.8 1351.9,462.8 1351.8,462.9 1351.7,463.0 1351.7,463.1 1351.6,463.2 1351.1,464.4 1351.4,465.4 1351.4,465.4 1351.4,466.5 1351.0,468.1 1350.3,470.1 1350.2,470.2 1350.2,470.3 1350.2,470.5 1350.3,472.9 1351.3,474.9 1351.6,476.3 1351.5,476.4 1351.5,476.5 1351.5,476.5 1351.6,476.6 1351.6,476.6 1351.6,476.7 1351.7,476.7 1351.7,476.8 1352.5,477.3 1353.6,478.0 1355.0,479.0 1355.1,479.0 1355.1,479.1 1355.2,479.1 1355.3,479.2 1355.4,479.2 1355.5,479.3 1355.5,479.3 1356.9,480.1 1358.6,480.2 1360.7,479.7 1363.1,479.3 1363.2,479.3 1363.3,479.3 1365.4,479.3 1366.8,479.1 1368.0,478.2 1369.5,477.6 1369.6,477.6 1369.7,477.6 1369.8,477.5 1369.9,477.5 1370.0,477.4 1372.0,476.9 1373.8,476.5 1374.7,475.3 1374.7,475.2 1374.7,475.1 1374.7,475.0 1374.7,474.9 1374.7,474.8 1374.7,474.6 1374.6,472.3 1375.3,469.9 1376.1,468.2 1377.2,468.2 1378.4,467.9 1379.6,466.8 1379.7,466.8 1379.8,466.7 1379.8,466.6 1379.8,466.5 1379.9,466.4 1379.9,466.3 1379.9,466.2 1379.9,466.1 1379.9,466.0 1379.8,465.8 1379.8,465.7 1379.7,465.6 1379.3,463.9 1379.6,461.9 1379.9,460.1 1379.9,460.0 1379.9,459.9 1379.8,459.8 1379.0,458.4 1377.8,457.3 1377.0,456.3 1376.9,456.3 1376.9,456.2 1376.9,456.2 1376.8,456.1 1376.8,456.1 1376.7,456.1 1376.7,456.1 1376.6,456.0 1376.6,456.0 1376.5,456.0 1375.7,456.0 1374.7,455.5 1373.4,454.8 1373.3,454.8 1373.2,454.7 1373.1,454.7 1373.0,454.7 1370.6,454.7 1368.4,455.6 1366.8,456.3 1365.6,456.4 1365.6,456.4 1364.1,456.7 1362.0,457.7 1359.6,458.5 1357.6,458.4 1357.6,458.4 1357.5,458.4 1356.4,458.6 1355.4,459.7 1354.1,461.4 1352.4,462.5 1352.3,462.6Z" fill="#fff6af"/>
<path d="M1301.3,381.1 1301.2,381.0 1301.1,380.9 1301.0,380.9 1300.9,380.9 1300.8,380.8 1300.7,380.8 1300.7,380.8 1300.6,380.9 1300.5,380.9 1300.4,381.0 1300.3,381.0 1300.3,381.1 1300.2,381.2 1298.9,382.9 1297.5,384.2 1296.0,385.1 1294.7,386.0 1293.4,387.5 1292.0,389.0 1290.6,389.5 1288.4,389.2 1286.2,389.5 1284.4,390.7 1283.2,391.5 1283.2,391.5 1283.1,391.5 1283.1,391.6 1282.4,392.4 1281.2,393.6 1279.2,395.3 1277.3,396.7 1276.0,397.4 1274.9,398.3 1273.6,399.7 1271.9,401.2 1270.1,401.7 1268.3,401.5 1266.8,401.5 1265.4,402.4 1265.4,402.5 1265.3,402.6 1265.2,402.7 1265.2,402.9 1265.1,403.0 1265.1,403.1 1265.1,403.2 1265.1,403.4 1265.1,403.5 1265.1,403.7 1265.1,403.8 1265.1,403.9 1265.2,404.0 1265.2,404.2 1265.3,404.3 1265.4,404.4 1265.4,404.5 1265.5,404.6 1265.6,404.7 1265.7,404.7 1267.8,405.7 1269.4,406.8 1270.3,408.2 1271.0,409.7 1272.1,411.2 1273.0,412.4 1273.1,412.5 1273.1,412.5 1273.2,412.6 1273.2,412.7 1273.3,412.7 1274.6,413.3 1276.1,413.2 1277.9,413.3 1278.0,413.3 1280.2,414.2 1282.4,415.7 1284.4,417.1 1284.5,417.1 1284.6,417.2 1284.7,417.2 1286.0,417.0 1287.1,416.5 1288.3,416.5 1290.0,416.9 1292.0,417.0 1292.1,417.0 1292.2,417.0 1294.3,416.3 1295.9,415.9 1297.1,416.1 1298.4,416.6 1300.1,416.6 1300.2,416.5 1300.3,416.5 1300.4,416.4 1300.5,416.4 1300.6,416.3 1300.7,416.2 1300.8,416.1 1300.9,416.0 1301.0,415.9 1302.8,413.9 1304.4,412.4 1304.5,412.3 1304.6,412.2 1304.6,412.1 1304.7,412.1 1304.7,412.0 1304.8,411.9 1304.8,411.8 1304.8,411.7 1304.8,411.6 1304.8,411.5 1304.8,411.4 1304.1,410.3 1302.9,409.3 1301.7,408.1 1301.7,408.0 1301.6,407.9 1301.6,407.8 1300.2,406.0 1299.1,404.1 1298.0,403.0 1296.9,402.3 1296.8,401.1 1296.9,399.4 1296.1,397.1 1296.0,394.7 1296.0,392.7 1296.8,391.4 1298.6,391.4 1300.8,391.3 1302.8,390.5 1304.3,389.8 1304.4,389.8 1304.5,389.7 1304.6,389.7 1304.7,389.6 1304.7,389.6 1304.8,389.5 1304.9,389.4 1304.9,389.4 1305.0,389.3 1305.9,388.3 1306.5,387.7 1306.5,387.7 1306.5,387.6 1306.5,387.6 1306.5,387.5 1306.5,387.4 1306.5,387.4 1306.5,387.3 1306.4,387.2 1306.4,387.2 1306.3,387.1 1306.3,387.0 1306.2,387.0 1306.2,386.9 1304.5,385.4 1302.8,383.4 1301.4,381.2 1301.4,381.1Z" fill="#ffe99a"/>
<path d="M1298.1,369.6 1298.0,369.6 1297.9,369.7 1297.8,369.8 1297.7,369.8 1297.6,369.9 1297.6,370.0 1297.2,371.6 1297.2,373.6 1297.4,375.7 1297.4,375.9 1297.4,376.0 1297.4,376.2 1297.4,376.3 1297.5,376.5 1297.5,376.6 1297.7,378.1 1297.8,379.2 1298.4,380.1 1298.5,380.1 1298.5,380.2 1298.6,380.2 1298.7,380.2 1299.7,381.0 1299.9,381.6 1300.2,381.2 1300.3,381.1 1300.3,381.0 1300.4,381.0 1300.5,380.9 1300.6,380.9 1300.7,380.8 1300.7,380.8 1300.8,380.8 1300.9,380.9 1301.0,380.9 1301.1,380.9 1301.2,381.0 1301.3,381.1 1301.4,381.1 1301.4,381.2 1302.8,383.4 1303.4,384.0 1304.4,383.7 1306.2,382.7 1307.9,381.1 1308.0,381.0 1308.1,380.9 1308.1,380.8 1309.2,379.1 1309.9,378.1 1310.2,377.9 1310.5,377.4 1312.3,376.6 1314.6,375.2 1316.6,374.4 1317.9,374.3 1318.9,373.9 1320.5,373.2 1322.6,372.8 1325.0,373.1 1326.9,373.0 1327.0,373.0 1327.1,373.0 1327.2,372.9 1327.2,372.8 1327.3,372.8 1327.3,372.7 1327.4,372.6 1327.4,372.4 1327.4,372.3 1327.4,372.2 1327.5,372.1 1327.5,371.9 1327.5,371.8 1327.5,371.7 1327.5,371.5 1327.5,371.4 1327.6,370.4 1326.6,365.0 1326.1,364.1 1325.9,362.2 1325.9,362.1 1325.9,361.9 1325.9,361.8 1325.9,361.7 1325.8,361.6 1325.7,361.6 1325.7,361.5 1325.6,361.4 1325.5,361.4 1325.4,361.3 1325.3,361.3 1325.2,361.3 1325.1,361.3 1325.0,361.3 1324.9,361.3 1324.8,361.3 1324.7,361.3 1323.1,361.8 1321.7,361.5 1320.4,361.4 1318.7,362.2 1318.5,362.3 1316.6,363.3 1314.6,363.8 1312.6,364.3 1310.7,365.3 1309.2,366.2 1307.8,366.3 1307.7,366.3 1306.2,366.2 1304.7,367.1 1302.8,368.5 1300.6,369.2 1298.3,369.5 1298.2,369.5Z" fill="#f3faac"/>
<path d="M1236.6,414.0 1236.5,414.1 1236.5,414.2 1236.4,414.3 1236.3,414.4 1236.3,414.5 1236.2,414.6 1236.2,414.7 1236.1,414.8 1236.1,414.9 1236.1,415.0 1236.1,415.1 1236.0,417.3 1236.3,418.4 1238.5,421.4 1245.7,427.0 1252.8,434.2 1258.5,439.9 1265.6,446.3 1266.0,446.8 1266.5,446.9 1268.4,447.5 1270.2,447.8 1270.3,447.8 1270.4,447.8 1270.5,447.8 1270.5,447.7 1270.6,447.7 1270.7,447.6 1270.8,447.6 1270.8,447.5 1270.9,447.5 1270.9,447.4 1271.8,446.2 1272.9,445.4 1273.6,446.0 1274.6,446.6 1276.2,447.1 1276.3,447.2 1276.4,447.2 1276.5,447.2 1276.7,447.2 1276.8,447.2 1276.9,447.2 1277.0,447.1 1277.1,447.1 1277.2,447.1 1277.3,447.0 1277.4,446.9 1277.5,446.9 1278.8,445.3 1280.2,444.1 1280.3,444.0 1280.4,444.0 1281.6,443.2 1283.2,442.5 1284.8,443.0 1286.2,443.2 1287.1,444.2 1288.1,445.3 1289.1,446.7 1290.4,448.2 1290.5,448.3 1290.6,448.4 1290.7,448.5 1290.8,448.6 1291.0,448.6 1291.1,448.7 1291.2,448.8 1293.1,449.5 1294.6,449.8 1294.7,449.8 1294.8,449.8 1294.9,449.8 1294.9,449.7 1295.0,449.7 1295.1,449.6 1295.1,449.5 1295.2,449.4 1295.2,449.3 1295.3,449.2 1295.3,449.1 1295.3,449.0 1295.4,448.9 1295.4,448.8 1295.4,448.7 1295.4,448.6 1295.4,448.5 1295.3,448.4 1295.3,448.3 1295.3,448.2 1295.2,446.7 1295.7,445.5 1295.8,445.4 1295.8,445.4 1295.8,445.3 1295.8,445.3 1295.7,445.2 1295.7,445.2 1294.0,444.2 1291.5,442.9 1289.7,441.3 1289.4,439.3 1288.8,437.3 1287.5,435.5 1288.6,435.1 1290.1,434.5 1291.9,433.8 1293.2,433.1 1294.2,432.8 1295.2,432.4 1296.6,431.4 1298.3,430.2 1300.3,429.5 1300.4,429.5 1300.5,429.4 1300.6,429.4 1300.7,429.3 1300.8,429.2 1300.9,429.2 1301.0,429.1 1301.0,429.0 1301.1,428.9 1301.1,428.8 1301.1,428.7 1301.1,428.5 1301.1,428.4 1301.1,428.3 1301.1,428.1 1301.0,428.0 1299.7,425.9 1298.4,424.3 1298.3,424.2 1298.3,424.1 1298.2,424.1 1297.5,423.3 1297.3,422.7 1296.5,421.9 1295.1,420.9 1293.2,419.6 1293.1,419.5 1292.9,419.5 1291.0,418.5 1289.6,417.2 1289.1,416.6 1288.3,416.5 1287.1,416.5 1286.0,417.0 1284.7,417.2 1284.6,417.2 1284.5,417.1 1284.4,417.1 1282.4,415.7 1280.2,414.2 1278.2,413.4 1277.8,413.3 1277.8,413.3 1275.9,413.4 1274.3,413.6 1273.1,413.0 1272.1,411.8 1270.6,410.4 1269.2,409.1 1267.9,408.1 1267.8,408.1 1267.7,408.0 1267.6,408.0 1267.5,408.0 1267.4,408.0 1267.3,408.0 1267.2,408.1 1267.0,408.1 1266.9,408.2 1266.8,408.2 1266.7,408.3 1266.6,408.4 1264.7,409.3 1263.0,409.3 1261.4,409.4 1260.1,410.0 1258.9,411.1 1257.5,411.6 1255.6,411.7 1253.4,412.3 1251.5,413.0 1250.0,413.4 1248.9,413.1 1247.9,412.5 1246.4,412.5 1245.3,412.0 1243.8,411.4 1241.8,410.7 1241.7,410.7 1241.6,410.6 1241.4,410.6 1241.3,410.6 1241.1,410.5 1241.0,410.5 1240.9,410.5 1240.8,410.5 1240.7,410.5 1240.6,410.4 1240.5,410.4 1240.4,410.5 1239.3,410.7 1238.4,411.4 1237.8,412.6 1236.8,413.9 1236.7,413.9Z" fill="#5095b6"/>
<path d="M1381.0,427.5 1380.9,427.5 1380.8,427.5 1380.7,427.6 1380.7,427.6 1380.6,427.7 1380.6,427.8 1380.6,427.9 1380.6,428.0 1380.6,428.1 1380.6,428.2 1380.7,430.2 1380.0,432.2 1379.2,433.9 1379.1,435.2 1379.5,436.6 1379.1,438.5 1378.4,440.8 1377.7,442.8 1377.3,444.1 1376.6,444.4 1375.8,445.0 1374.8,446.4 1374.7,446.5 1374.7,446.7 1374.6,446.8 1374.6,446.9 1374.5,447.0 1374.5,447.2 1374.4,447.3 1374.4,447.4 1374.4,447.6 1374.4,447.7 1374.3,447.8 1374.0,449.9 1374.3,452.0 1375.4,453.8 1375.5,453.9 1375.5,453.9 1375.6,454.0 1375.7,454.1 1375.7,454.1 1376.6,454.9 1377.2,455.7 1377.9,456.5 1379.0,457.8 1380.0,459.5 1379.9,461.7 1379.9,461.9 1379.9,462.0 1380.4,464.0 1382.1,465.8 1383.9,467.2 1384.6,468.3 1384.6,468.3 1384.7,469.4 1385.4,471.1 1386.6,473.1 1387.5,475.0 1387.9,476.3 1388.0,476.3 1388.0,476.4 1388.0,476.4 1388.1,476.4 1388.1,476.5 1388.2,476.5 1388.2,476.5 1388.3,476.5 1388.4,476.5 1389.9,476.0 1392.2,475.8 1394.8,476.5 1397.2,477.4 1397.2,477.4 1399.0,477.5 1400.4,477.3 1401.7,477.6 1403.3,478.2 1405.2,478.6 1405.3,478.5 1405.4,478.5 1405.5,478.5 1405.7,478.5 1408.0,477.4 1409.9,476.5 1411.0,476.3 1412.3,476.1 1414.1,475.3 1414.2,475.3 1414.4,475.2 1414.5,475.1 1414.6,475.1 1414.7,475.0 1416.3,473.9 1417.5,472.9 1418.3,471.8 1418.9,470.4 1418.9,470.4 1419.0,470.3 1419.0,470.2 1419.0,470.1 1419.0,470.0 1419.0,469.9 1419.0,469.7 1419.5,468.1 1420.3,466.8 1420.7,465.4 1420.4,463.6 1421.2,461.6 1422.3,460.2 1423.4,459.2 1423.4,459.1 1423.4,459.1 1422.4,458.7 1418.1,452.7 1416.4,446.8 1420.7,443.3 1425.8,439.9 1427.9,434.8 1426.7,429.7 1423.3,427.1 1415.6,428.0 1405.3,427.5 1395.1,428.5 1386.5,428.8 1381.1,427.5 1381.1,427.5Z" fill="#5f9eb2"/>
<path d="M1321.6,397.4 1321.5,397.5 1321.5,397.6 1321.5,397.6 1321.5,397.7 1321.5,397.8 1321.5,397.9 1321.5,398.0 1321.5,398.1 1321.6,398.2 1321.6,398.3 1321.6,398.4 1321.7,398.5 1322.1,399.8 1321.8,401.0 1321.5,402.6 1321.5,402.7 1321.5,402.8 1322.4,404.9 1323.6,407.0 1324.2,408.7 1323.6,410.2 1323.5,411.6 1323.4,413.1 1323.4,413.2 1323.4,413.3 1323.4,413.4 1323.4,413.5 1323.4,413.6 1323.4,413.7 1323.5,413.8 1323.5,413.9 1323.6,414.0 1323.7,414.1 1323.8,414.1 1323.8,414.2 1323.9,414.3 1324.0,414.3 1325.5,414.8 1326.9,415.3 1328.2,416.0 1329.6,417.5 1331.3,419.0 1332.8,420.3 1332.9,420.4 1332.9,420.5 1333.0,420.5 1333.0,420.5 1333.1,420.6 1333.2,420.6 1333.2,420.6 1333.3,420.5 1333.4,420.5 1333.4,420.5 1333.5,420.4 1333.5,420.3 1333.6,420.3 1333.7,420.2 1333.7,420.1 1334.5,417.7 1335.6,415.8 1335.7,415.7 1335.8,415.6 1335.8,415.6 1335.9,415.5 1335.9,415.4 1335.9,415.3 1335.9,415.2 1336.4,413.8 1337.3,412.8 1337.9,411.2 1337.6,409.0 1337.4,406.7 1337.7,404.7 1338.1,403.1 1338.0,401.7 1338.0,400.4 1338.5,398.9 1339.5,397.2 1340.5,395.5 1340.6,395.4 1340.6,395.3 1340.6,395.2 1340.6,395.1 1340.6,395.0 1340.6,394.9 1339.8,393.9 1338.1,393.2 1336.1,392.8 1333.9,392.8 1332.0,392.6 1331.9,392.6 1331.8,392.6 1331.7,392.6 1331.6,392.6 1331.5,392.7 1331.4,392.7 1331.3,392.7 1329.9,393.4 1328.9,394.2 1327.4,395.6 1325.3,396.7 1323.1,397.1 1321.7,397.3 1321.6,397.4Z" fill="#65a3b0"/>
<path d="M1339.7,393.8 1339.8,393.9 1339.8,393.9 1339.7,393.8ZM1334.5,420.4 1334.1,422.5 1334.3,424.0 1334.4,424.1 1334.5,424.2 1335.9,425.4 1336.8,427.0 1337.1,428.9 1337.2,429.0 1337.2,429.1 1337.3,429.2 1337.3,429.3 1337.4,429.4 1337.5,429.4 1337.5,429.5 1337.6,429.5 1337.7,429.6 1339.0,430.0 1340.3,430.9 1341.6,431.9 1341.7,431.7 1342.6,430.8 1342.7,430.7 1342.8,430.6 1342.8,430.6 1342.9,430.5 1343.0,430.5 1343.2,430.5 1343.3,430.5 1343.4,430.5 1343.5,430.5 1343.7,430.5 1346.4,430.5 1348.9,430.5 1350.6,431.3 1350.6,431.4 1350.7,431.5 1350.7,431.5 1350.8,431.6 1350.8,431.7 1350.9,431.7 1350.9,431.8 1351.1,432.8 1351.2,433.0 1351.5,433.2 1352.7,434.3 1354.2,435.2 1354.3,435.3 1354.4,435.3 1354.5,435.3 1354.6,435.4 1354.7,435.4 1354.7,435.4 1354.8,435.4 1354.9,435.4 1355.0,435.3 1355.1,435.3 1355.1,435.3 1355.2,435.2 1355.3,435.2 1355.3,435.1 1355.4,435.0 1355.4,435.0 1356.3,434.2 1357.6,433.7 1358.9,433.1 1360.1,432.0 1360.2,431.9 1360.2,431.8 1361.2,429.8 1362.3,427.9 1363.4,426.3 1364.2,425.2 1364.2,425.1 1364.3,425.1 1364.6,424.1 1365.0,423.2 1365.7,422.0 1366.7,420.4 1366.7,420.3 1366.7,420.3 1365.2,419.4 1364.3,414.3 1360.1,411.7 1352.4,405.8 1343.8,398.9 1343.2,398.1 1342.9,398.0 1342.1,396.9 1341.9,396.5 1340.1,394.3 1340.6,394.9 1340.6,395.0 1340.6,395.1 1340.6,395.2 1340.6,395.3 1340.6,395.4 1340.5,395.5 1339.5,397.2 1338.5,398.9 1338.0,400.4 1338.0,401.7 1338.1,403.1 1337.7,404.7 1337.4,406.7 1337.6,409.0 1337.9,411.2 1337.3,412.8 1336.4,413.8 1335.9,415.2 1335.9,415.3 1335.9,415.4 1335.9,415.5 1335.8,415.6 1335.8,415.6 1335.7,415.7 1335.6,415.8 1334.5,417.7 1334.3,418.1ZM1339.8,393.9 1339.8,393.9 1340.1,394.3Z" fill="#85bfa1"/>
<path d="M1353.4,435.1 1353.4,435.2 1354.4,436.2 1354.5,436.3 1354.5,436.4 1354.6,436.5 1354.6,436.6 1354.6,436.7 1354.6,439.0 1354.6,441.5 1355.2,443.6 1355.3,443.6 1355.3,443.7 1355.3,443.8 1355.3,443.9 1354.7,445.0 1353.4,446.0 1352.6,447.9 1352.6,448.0 1352.6,448.1 1352.3,450.5 1352.2,452.7 1351.7,454.3 1351.7,454.3 1351.6,454.4 1351.6,454.4 1351.5,454.5 1351.5,454.5 1351.4,454.6 1351.3,454.6 1350.8,454.7 1351.3,455.2 1352.2,455.9 1353.6,456.4 1355.2,457.3 1356.4,458.4 1356.5,458.6 1357.5,458.4 1357.6,458.4 1357.6,458.4 1359.6,458.5 1362.0,457.7 1364.1,456.7 1365.6,456.4 1365.6,456.4 1366.8,456.3 1368.4,455.6 1370.6,454.7 1373.0,454.7 1373.1,454.7 1373.2,454.7 1373.3,454.8 1373.4,454.8 1374.7,455.5 1375.7,456.0 1376.5,456.0 1376.6,456.0 1376.6,456.0 1376.7,456.1 1376.7,456.1 1376.8,456.1 1376.8,456.1 1376.9,456.2 1376.9,456.2 1376.9,456.3 1377.0,456.3 1377.1,456.5 1377.1,455.5 1377.1,455.5 1376.6,454.9 1375.7,454.1 1375.7,454.1 1375.6,454.0 1375.5,453.9 1375.5,453.9 1375.4,453.8 1374.3,452.0 1374.0,449.9 1374.3,447.8 1374.4,447.7 1374.4,447.6 1374.4,447.4 1374.4,447.3 1374.5,447.2 1374.5,447.0 1374.6,446.9 1374.6,446.8 1374.7,446.7 1374.7,446.5 1374.8,446.4 1375.8,445.0 1376.6,444.4 1377.3,444.1 1377.7,442.8 1378.4,440.8 1379.1,438.5 1379.5,436.6 1379.1,435.2 1379.2,433.9 1380.0,432.2 1380.7,430.2 1380.6,428.2 1380.6,428.1 1380.6,428.0 1380.6,427.9 1380.6,427.8 1380.6,427.7 1380.7,427.6 1380.7,427.6 1380.8,427.5 1380.9,427.5 1381.0,427.5 1381.1,427.5 1381.1,427.5 1379.7,427.1 1371.2,422.8 1365.4,419.5 1365.4,419.5 1366.7,420.3 1366.7,420.3 1366.7,420.4 1365.7,422.0 1365.0,423.2 1364.6,424.1 1364.3,425.1 1364.2,425.1 1364.2,425.2 1363.4,426.3 1362.3,427.9 1361.2,429.8 1360.2,431.8 1360.2,431.9 1360.1,432.0 1358.9,433.1 1357.6,433.7 1356.3,434.2 1355.4,435.0 1355.4,435.0 1355.3,435.1 1355.3,435.2 1355.2,435.2 1355.1,435.3 1355.1,435.3 1355.0,435.3 1354.9,435.4 1354.8,435.4 1354.7,435.4 1354.7,435.4 1354.6,435.4 1354.5,435.3 1354.4,435.3 1354.3,435.3 1354.2,435.2 1353.4,434.7Z" fill="#b3df95"/>
<path d="M1057.5,300.7 1057.4,300.7 1057.3,300.7 1057.3,300.7 1057.2,300.8 1057.1,300.8 1057.0,300.9 1057.0,300.9 1056.9,301.0 1056.9,301.1 1056.8,301.1 1056.9,301.2 1054.8,306.9 1053.0,309.3 1052.8,309.7 1052.6,309.8 1050.5,312.6 1048.4,316.1 1049.1,319.7 1054.8,320.4 1061.2,318.3 1068.3,316.1 1074.0,313.3 1077.6,309.7 1078.2,309.2 1078.1,309.2 1078.0,309.1 1078.0,309.1 1077.9,309.1 1077.8,309.1 1077.7,309.1 1076.4,308.9 1074.8,308.6 1072.5,307.8 1070.3,307.4 1070.8,305.2 1071.3,303.3 1071.3,303.2 1071.3,303.1 1071.3,303.0 1071.3,302.9 1071.3,302.8 1071.2,302.7 1071.2,302.6 1071.1,302.5 1071.1,302.4 1071.0,302.4 1070.9,302.3 1070.8,302.3 1070.7,302.2 1070.7,302.2 1069.1,302.0 1067.5,301.5 1067.5,301.5 1065.9,300.8 1064.1,300.2 1062.5,299.9 1061.3,299.9 1061.2,299.9 1061.1,299.9 1061.0,299.9 1060.9,300.0 1060.9,300.0 1059.8,300.7 1058.8,300.9 1057.7,300.7 1057.6,300.7Z" fill="#e5f498"/>
<path d="M1082.6,305.4 1085.4,299.8 1089.7,292.6 1094.7,287.7 1100.4,284.1 1101.6,284.0 1102.0,283.8 1103.3,282.4 1104.7,281.0 1104.8,281.0 1104.9,280.9 1104.9,280.8 1105.0,280.8 1105.1,280.7 1105.2,280.6 1105.2,280.5 1105.3,280.4 1105.3,280.3 1105.4,280.2 1105.4,280.1 1105.4,280.1 1105.5,280.0 1105.3,279.0 1104.6,278.1 1103.8,276.9 1103.8,276.8 1103.7,276.7 1103.7,276.6 1103.6,276.5 1103.6,276.4 1103.5,276.3 1102.8,275.0 1102.2,273.9 1101.1,273.0 1101.0,272.9 1101.0,272.9 1100.9,272.9 1100.8,272.8 1100.7,272.8 1100.6,272.8 1100.5,272.9 1100.4,272.9 1100.3,272.9 1100.2,272.9 1100.1,273.0 1100.0,273.0 1098.4,273.7 1096.4,274.3 1096.3,274.4 1096.2,274.5 1096.1,274.6 1096.0,274.7 1095.9,274.8 1095.8,274.9 1095.7,275.0 1095.7,275.1 1095.6,275.2 1095.6,275.4 1095.6,275.5 1095.6,275.6 1095.5,275.8 1095.5,275.9 1095.5,277.3 1095.7,278.6 1094.5,278.3 1093.6,278.3 1092.9,278.2 1092.8,278.1 1092.8,278.1 1091.4,277.6 1089.4,277.0 1087.0,277.3 1086.9,277.4 1086.8,277.4 1086.6,277.5 1086.5,277.5 1086.4,277.6 1084.7,278.7 1083.3,279.3 1082.2,279.5 1081.0,280.0 1081.0,280.1 1080.9,280.2 1080.8,280.3 1079.6,281.5 1078.4,282.6 1077.4,283.5 1076.5,284.2 1076.5,284.3 1076.5,284.4 1076.4,284.5 1076.1,286.2 1075.5,288.1 1074.6,289.8 1073.2,291.0 1073.2,291.1 1073.1,291.2 1073.0,291.2 1072.2,292.6 1072.0,294.4 1071.8,296.5 1071.3,298.4 1070.4,299.7 1069.9,301.1 1069.8,302.1 1070.7,302.2 1070.7,302.2 1070.8,302.3 1070.9,302.3 1071.0,302.4 1071.1,302.4 1071.1,302.5 1071.2,302.6 1071.2,302.7 1071.3,302.8 1071.3,302.9 1071.3,303.0 1071.3,303.1 1071.3,303.2 1071.3,303.3 1070.8,305.2 1070.3,307.4 1072.5,307.8 1074.8,308.6 1076.4,308.9 1077.7,309.1 1077.8,309.1 1077.9,309.1 1078.0,309.1 1078.0,309.1 1078.1,309.2 1078.2,309.2Z" fill="#a9db95"/>
<path d="M1100.0,284.4 1100.4,284.1 1100.0,284.4ZM1106.8,283.8 1113.9,285.5 1120.3,288.4 1123.1,289.8 1128.1,286.9 1132.0,289.9 1132.3,290.0 1132.3,290.1 1133.8,291.2 1138.8,295.5 1139.1,295.8 1139.2,295.7 1139.2,295.5 1139.3,295.4 1139.3,295.3 1139.4,295.1 1139.4,295.0 1139.4,294.9 1139.6,293.2 1139.5,291.9 1139.5,291.8 1139.4,291.8 1139.4,291.7 1139.3,291.6 1139.3,291.6 1138.2,290.6 1137.6,289.6 1137.3,288.4 1136.9,286.4 1136.2,284.1 1136.3,281.8 1136.6,279.8 1135.9,278.2 1134.9,276.8 1134.9,276.8 1134.8,276.7 1134.8,276.6 1134.7,276.6 1134.7,276.5 1134.6,276.5 1134.5,276.4 1134.4,276.4 1133.1,275.9 1131.8,275.2 1130.2,273.9 1130.1,273.9 1130.0,273.8 1129.9,273.7 1129.8,273.7 1127.3,272.3 1125.2,271.3 1123.6,271.3 1123.5,271.3 1123.5,271.3 1123.4,271.4 1123.3,271.4 1123.3,271.4 1122.0,272.0 1120.0,271.8 1117.6,272.1 1116.3,271.5 1115.3,270.9 1114.3,270.3 1114.2,270.2 1112.8,269.4 1111.5,268.4 1111.4,268.3 1111.3,268.2 1111.2,268.2 1111.1,268.2 1111.1,268.1 1111.0,268.1 1110.9,268.1 1110.9,268.1 1110.8,268.1 1110.7,268.1 1110.7,268.2 1110.7,268.2 1110.6,268.3 1110.6,268.3 1110.6,268.4 1110.2,270.0 1109.2,272.0 1107.5,274.0 1105.3,274.8 1103.9,275.2 1103.2,275.8 1103.5,276.3 1103.6,276.4 1103.6,276.5 1103.7,276.6 1103.7,276.7 1103.8,276.8 1103.8,276.9 1104.6,278.1 1105.3,279.0 1105.5,280.0 1105.4,280.1 1105.4,280.1 1105.4,280.2 1105.3,280.3 1105.3,280.4 1105.2,280.5 1105.2,280.6 1105.1,280.7 1105.0,280.8 1104.9,280.8 1104.9,280.9 1104.8,281.0 1104.7,281.0 1103.3,282.4 1102.0,283.8 1101.6,284.0Z" fill="#b7e196"/>
<path d="M1143.8,299.8 1149.5,304.0 1150.9,306.2 1154.4,304.0 1158.0,304.7 1158.7,305.2 1158.7,305.2 1158.8,305.0 1158.8,304.9 1158.9,304.8 1160.3,303.1 1160.4,303.0 1160.5,303.0 1160.5,302.9 1160.5,302.9 1160.6,302.8 1160.6,302.8 1160.6,302.7 1160.6,302.6 1160.6,302.6 1160.6,302.5 1160.6,302.4 1160.6,302.4 1160.6,302.3 1160.5,302.2 1159.8,301.3 1159.0,300.4 1159.0,300.4 1158.9,300.3 1158.8,300.2 1157.5,299.3 1156.1,298.6 1154.3,297.8 1152.7,296.5 1151.4,294.9 1150.7,293.1 1150.1,291.4 1150.0,291.3 1149.9,291.2 1148.4,290.2 1146.7,289.7 1145.4,289.0 1144.7,288.1 1144.0,286.8 1142.6,285.5 1140.4,284.1 1138.5,282.7 1138.4,282.6 1138.4,282.5 1138.3,282.5 1138.2,282.4 1138.1,282.4 1136.9,281.9 1136.3,281.9 1136.2,284.1 1136.9,286.4 1137.3,288.4 1137.6,289.6 1138.2,290.6 1139.3,291.6 1139.3,291.6 1139.4,291.7 1139.4,291.8 1139.5,291.8 1139.5,291.9 1139.6,293.2 1139.4,294.9 1139.4,295.0 1139.4,295.1 1139.3,295.3 1139.3,295.4 1139.2,295.5 1139.2,295.7 1139.1,295.8 1138.8,295.5Z" fill="#d7ef97"/>
<path d="M1125.3,176.6 1125.3,176.8 1125.4,176.9 1125.4,177.0 1125.5,177.1 1125.5,177.2 1125.6,177.3 1125.7,177.4 1125.8,177.5 1125.8,177.6 1125.9,177.7 1126.0,177.8 1126.1,177.8 1127.4,178.5 1128.4,178.1 1128.8,178.8 1130.0,179.6 1131.9,180.8 1133.0,182.5 1133.3,184.4 1133.5,186.1 1134.3,187.6 1134.3,187.7 1134.4,187.7 1134.5,187.8 1134.6,187.9 1134.6,188.0 1136.0,189.2 1137.2,190.4 1138.2,191.4 1138.3,191.5 1138.4,191.5 1138.5,191.5 1138.6,191.5 1138.7,191.5 1138.8,191.5 1138.9,191.5 1139.0,191.5 1141.2,190.8 1143.3,190.4 1144.9,190.6 1146.0,190.6 1147.2,189.8 1148.9,189.1 1151.1,189.1 1153.3,189.3 1155.2,189.2 1156.6,188.7 1156.6,188.7 1157.9,188.6 1159.6,188.9 1161.7,188.8 1164.2,187.9 1164.3,187.9 1164.4,187.8 1164.5,187.8 1164.6,187.7 1164.7,187.6 1164.8,187.5 1164.9,187.4 1164.9,187.3 1165.0,187.1 1165.0,187.0 1165.1,186.9 1165.1,186.8 1165.1,186.6 1165.2,184.4 1165.8,182.9 1166.5,181.9 1168.0,181.4 1169.4,180.2 1170.7,178.8 1171.8,177.9 1172.6,177.4 1173.5,176.6 1174.7,175.0 1176.8,173.3 1176.8,173.3 1179.0,172.0 1180.7,171.1 1181.6,170.3 1182.6,169.3 1182.7,169.2 1182.7,169.1 1182.8,169.1 1182.8,169.0 1182.9,168.9 1182.9,168.8 1183.0,167.4 1183.2,165.8 1183.7,164.1 1183.8,164.0 1183.8,163.9 1183.8,163.8 1183.9,163.7 1183.9,163.6 1183.9,163.5 1183.9,163.4 1183.9,163.2 1183.8,163.1 1183.8,163.0 1183.8,162.9 1183.7,162.9 1183.7,162.8 1183.6,162.7 1183.6,162.6 1182.9,161.6 1182.1,161.0 1180.7,160.6 1178.7,160.3 1177.5,159.0 1176.9,157.9 1176.8,157.8 1176.8,157.7 1176.8,157.7 1176.7,157.6 1176.6,157.6 1176.6,157.6 1176.5,157.5 1176.4,157.5 1176.3,157.5 1176.5,158.4 1170.8,158.4 1165.8,154.2 1160.9,157.0 1159.4,162.7 1160.1,168.4 1163.0,174.1 1161.6,177.7 1158.0,174.1 1153.7,169.1 1145.2,171.2 1138.8,173.4 1133.8,168.4 1133.1,162.0 1126.0,162.0 1124.6,167.0 1125.3,176.2 1125.2,176.3 1125.2,176.4 1125.3,176.5Z" fill="#a9db95"/>
<path d="M1333.4,484.8 1333.4,484.9 1333.3,485.0 1333.2,485.0 1333.2,485.1 1333.2,485.2 1333.1,485.3 1334.6,488.3 1335.3,492.5 1339.6,493.9 1343.9,494.7 1349.6,496.8 1354.6,498.2 1354.1,499.1 1354.6,499.6 1354.7,499.7 1354.7,499.7 1354.8,499.8 1354.9,499.8 1354.9,499.8 1355.0,499.8 1355.0,499.8 1355.1,499.8 1355.2,499.8 1355.2,499.8 1355.3,499.7 1355.3,499.7 1355.4,499.6 1355.4,499.6 1355.4,499.5 1355.5,499.4 1355.8,497.9 1356.0,495.9 1356.3,493.7 1356.8,491.9 1357.6,490.7 1357.6,490.6 1357.7,490.6 1358.4,489.5 1358.2,488.0 1357.6,485.9 1357.6,485.8 1357.5,485.7 1357.5,485.5 1357.5,485.4 1357.4,485.3 1357.4,485.2 1357.3,485.1 1356.8,483.5 1356.8,482.1 1356.5,480.7 1356.5,480.6 1356.5,480.6 1356.4,480.5 1356.3,480.4 1356.3,480.3 1356.2,480.2 1356.1,480.2 1356.0,480.1 1356.0,480.1 1355.9,480.1 1355.8,480.0 1355.7,480.0 1354.6,480.3 1353.0,481.1 1351.2,482.0 1348.7,482.1 1346.6,481.9 1345.0,482.2 1343.5,482.7 1341.8,482.5 1339.5,482.1 1339.4,482.1 1339.3,482.1 1337.2,482.9 1335.2,484.0 1333.6,484.8 1333.5,484.8Z" fill="#65a3b0"/>
<path d="M1414.5,475.4 1414.4,475.5 1414.4,475.5 1414.4,475.6 1414.4,475.7 1414.4,475.7 1414.4,475.8 1414.4,475.8 1414.4,475.9 1414.5,475.9 1415.4,476.7 1416.9,477.7 1418.8,479.0 1420.5,480.4 1420.7,482.3 1421.1,484.3 1421.9,486.4 1421.9,486.5 1421.9,486.6 1422.0,486.7 1422.1,486.8 1422.1,486.9 1422.2,487.0 1422.3,487.1 1422.3,487.2 1422.4,487.2 1423.7,488.0 1425.3,488.4 1427.3,488.4 1427.4,488.4 1427.5,488.4 1427.6,488.4 1427.8,488.4 1427.9,488.4 1428.0,488.3 1428.1,488.3 1428.2,488.3 1428.3,488.2 1428.4,488.2 1428.5,488.1 1430.1,487.4 1431.4,486.7 1432.6,485.5 1432.7,485.4 1432.7,485.3 1432.8,485.2 1432.8,485.1 1432.8,485.0 1432.8,484.9 1432.8,482.6 1433.0,480.2 1433.7,478.2 1434.3,476.8 1434.6,476.0 1435.1,475.2 1436.3,473.4 1438.5,471.4 1440.5,469.9 1442.2,469.1 1442.2,469.1 1442.3,469.1 1442.4,469.0 1442.5,469.0 1442.5,468.9 1442.6,468.9 1442.7,468.8 1442.7,468.7 1442.8,468.7 1442.8,468.6 1437.8,466.0 1431.0,462.1 1423.4,459.1 1423.4,459.1 1423.4,459.2 1422.3,460.2 1421.2,461.6 1420.4,463.6 1420.7,465.4 1420.3,466.8 1419.5,468.1 1419.0,469.7 1419.0,469.9 1419.0,470.0 1419.0,470.1 1419.0,470.2 1419.0,470.3 1418.9,470.4 1418.9,470.4 1418.3,471.8 1417.5,472.9 1416.3,473.9 1414.8,474.9 1414.6,475.2 1414.5,475.3Z" fill="#cae997"/>
<path d="M1430.1,487.6 1429.4,488.7 1429.3,488.7 1429.3,488.8 1429.3,488.8 1429.3,488.9 1429.3,489.0 1429.4,489.0 1429.4,489.1 1429.4,489.1 1429.5,489.2 1430.6,490.3 1431.8,492.0 1432.6,494.0 1433.0,495.8 1433.1,495.9 1433.1,496.0 1433.2,496.0 1434.2,496.7 1435.7,497.1 1437.3,497.5 1438.9,498.2 1439.0,498.2 1439.1,498.3 1439.2,498.3 1439.3,498.3 1439.4,498.4 1439.5,498.4 1439.7,498.4 1439.8,498.5 1442.0,498.9 1444.0,498.7 1445.4,497.7 1446.4,496.8 1447.6,497.6 1449.0,498.6 1450.8,499.0 1452.8,498.7 1452.9,498.7 1453.0,498.6 1453.1,498.6 1453.3,498.5 1455.2,497.9 1456.6,498.1 1457.8,498.4 1459.2,498.1 1461.2,497.7 1463.6,497.7 1465.7,497.9 1467.3,497.7 1468.6,497.0 1468.6,497.0 1468.7,496.9 1468.7,496.9 1470.0,496.0 1472.1,495.9 1474.4,495.6 1476.1,494.5 1476.2,494.4 1476.2,494.4 1476.3,494.3 1476.3,494.1 1476.4,494.0 1476.4,493.9 1476.4,493.8 1476.4,493.6 1476.6,491.7 1477.3,490.0 1477.7,489.4 1477.1,489.0 1468.5,482.2 1458.3,475.5 1457.9,475.3 1457.8,475.3 1457.7,475.2 1457.4,475.0 1446.3,470.5 1440.9,467.7 1440.9,467.7 1442.8,468.6 1442.8,468.7 1442.7,468.7 1442.7,468.8 1442.6,468.9 1442.5,468.9 1442.5,469.0 1442.4,469.0 1442.3,469.1 1442.2,469.1 1442.2,469.1 1440.5,469.9 1438.5,471.4 1436.3,473.4 1435.1,475.2 1434.6,476.0 1434.3,476.8 1433.7,478.2 1433.0,480.2 1432.8,482.6 1432.8,484.9 1432.8,485.0 1432.8,485.1 1432.8,485.2 1432.7,485.3 1432.7,485.4 1432.6,485.5 1431.4,486.7 1430.1,487.3Z" fill="#76b0a9"/>
<path d="M1476.6,495.3 1477.9,495.9 1478.7,497.1 1479.0,498.2 1479.9,499.6 1480.9,501.2 1481.4,503.1 1481.1,505.0 1481.2,506.8 1481.2,506.9 1481.3,507.0 1481.4,507.1 1483.1,508.6 1485.1,510.0 1486.3,511.2 1486.8,512.3 1486.8,512.4 1486.9,512.4 1486.9,512.5 1487.0,512.5 1488.2,513.0 1489.9,513.2 1491.8,513.8 1493.6,515.2 1493.6,515.3 1493.7,515.3 1495.4,516.7 1497.2,517.5 1499.1,517.7 1499.2,517.7 1499.3,517.7 1499.4,517.7 1499.5,517.6 1499.6,517.6 1499.7,517.6 1499.8,517.5 1499.9,517.5 1501.2,516.9 1502.3,516.2 1504.1,514.5 1506.6,512.9 1506.7,512.9 1506.8,512.8 1507.0,512.7 1508.7,512.1 1510.0,511.9 1511.0,511.2 1511.0,511.1 1511.1,511.0 1511.1,510.9 1511.1,510.8 1511.2,510.7 1509.5,509.5 1504.4,501.9 1494.2,498.4 1483.9,493.3 1477.7,489.4 1477.3,490.0 1476.6,491.7 1476.4,493.6 1476.4,493.8 1476.4,493.9 1476.4,494.0 1476.3,494.1 1476.3,494.3 1476.2,494.4 1476.2,494.4 1476.1,494.5 1475.6,494.8Z" fill="#65a3b0"/>
<path d="M1458.7,573.2 1457.3,574.7 1456.3,575.7 1455.7,575.9 1455.1,576.3 1453.9,577.2 1452.2,578.4 1452.1,578.5 1451.9,578.6 1451.8,578.7 1451.7,578.8 1451.7,578.9 1451.6,578.9 1451.5,579.0 1451.4,579.1 1450.3,580.9 1449.5,582.8 1449.4,584.6 1449.5,586.2 1448.4,587.1 1447.3,588.4 1446.0,589.6 1445.9,589.7 1445.8,589.8 1445.7,589.8 1445.7,589.9 1445.6,590.0 1445.6,590.1 1445.5,590.1 1445.5,590.2 1445.4,590.3 1445.4,590.3 1445.4,590.4 1445.4,590.5 1445.4,590.5 1445.5,590.6 1445.5,590.6 1445.6,590.7 1445.6,590.7 1447.5,591.2 1449.8,592.1 1451.7,593.6 1451.8,593.7 1452.8,595.1 1453.6,596.3 1454.5,597.2 1455.7,597.7 1457.1,598.7 1458.1,600.0 1458.3,601.6 1458.7,603.2 1458.7,603.3 1458.7,603.4 1458.8,603.5 1458.9,603.6 1458.9,603.6 1459.0,603.6 1459.1,603.6 1459.1,603.6 1459.2,603.6 1459.4,603.6 1460.8,602.8 1466.3,604.4 1467.0,604.4 1470.2,602.0 1470.4,600.6 1470.4,600.6 1470.4,600.6 1471.1,596.8 1468.5,589.8 1469.4,581.3 1467.7,574.5 1462.6,571.0 1461.7,570.5 1460.5,571.5Z" fill="#e9f69c"/>
<path d="M1426.0,594.8 1425.9,594.9 1425.8,595.0 1425.6,595.1 1425.5,595.2 1425.4,595.3 1425.3,595.5 1425.2,595.6 1425.2,595.8 1425.1,595.9 1425.1,596.0 1426.7,600.2 1428.4,608.8 1428.2,609.2 1428.5,609.9 1428.5,610.0 1428.6,610.1 1428.6,610.1 1428.7,610.2 1428.8,610.2 1428.8,610.2 1428.9,610.2 1429.0,610.2 1430.4,610.1 1431.7,610.3 1432.7,612.0 1433.2,614.2 1433.4,616.2 1434.0,617.8 1435.1,618.9 1435.9,620.2 1435.8,621.9 1435.8,622.0 1435.8,622.1 1436.0,623.9 1436.8,625.9 1437.8,627.7 1438.5,629.2 1438.6,629.3 1438.6,629.4 1438.7,629.4 1438.8,629.5 1438.9,629.6 1438.9,629.7 1439.1,629.8 1439.2,629.8 1439.3,629.9 1439.4,629.9 1439.5,630.0 1439.6,630.0 1439.7,630.1 1439.9,630.1 1440.0,630.1 1440.1,630.1 1440.2,630.1 1441.9,629.3 1443.6,627.5 1444.0,627.1 1443.8,625.9 1442.9,618.2 1445.3,614.0 1445.3,613.8 1445.5,613.5 1446.3,612.2 1453.2,607.1 1459.6,603.5 1459.4,603.6 1459.2,603.6 1459.1,603.6 1459.1,603.6 1459.0,603.6 1458.9,603.6 1458.9,603.6 1458.8,603.5 1458.7,603.4 1458.7,603.3 1458.7,603.2 1458.3,601.6 1458.1,600.0 1457.1,598.7 1455.7,597.7 1454.5,597.2 1453.6,596.3 1452.8,595.1 1451.8,593.7 1451.7,593.6 1449.8,592.1 1447.5,591.2 1445.6,590.7 1445.6,590.7 1445.5,590.6 1445.5,590.6 1445.4,590.5 1445.4,590.5 1445.4,590.4 1445.4,590.3 1445.4,590.3 1445.5,590.2 1445.5,590.1 1445.6,590.1 1445.6,590.0 1445.7,589.9 1445.7,589.8 1445.8,589.8 1445.9,589.7 1446.0,589.6 1446.2,589.4 1445.1,589.9 1443.9,589.8 1442.7,589.5 1441.4,589.9 1439.6,591.1 1437.5,592.1 1435.3,592.4 1433.4,592.8 1431.9,593.8 1430.9,594.4 1429.8,594.5 1428.2,594.3 1426.3,594.7 1426.2,594.7Z" fill="#e5f498"/>
<path d="M1425.8,613.9 1419.0,616.5 1412.2,619.9 1413.0,623.3 1416.4,626.7 1415.4,628.4 1415.5,628.5 1415.6,628.5 1415.7,628.6 1415.8,628.6 1415.9,628.6 1416.0,628.7 1416.1,628.7 1416.2,628.7 1418.0,628.1 1419.7,627.1 1421.2,626.3 1422.5,626.1 1423.6,626.2 1424.8,625.7 1426.4,626.7 1429.2,628.1 1431.4,629.6 1431.5,629.6 1431.6,629.7 1431.6,629.7 1432.7,630.5 1433.5,630.8 1434.9,630.8 1435.0,630.7 1435.1,630.7 1435.3,630.7 1435.4,630.7 1435.5,630.6 1435.6,630.6 1435.7,630.6 1435.8,630.5 1438.0,630.0 1439.9,630.1 1439.9,630.1 1439.7,630.1 1439.6,630.0 1439.5,630.0 1439.4,629.9 1439.3,629.9 1439.2,629.8 1439.1,629.8 1438.9,629.7 1438.9,629.6 1438.8,629.5 1438.7,629.4 1438.6,629.4 1438.6,629.3 1438.5,629.2 1437.8,627.7 1436.8,625.9 1436.0,623.9 1435.8,622.1 1435.8,622.0 1435.8,621.9 1435.9,620.2 1435.1,618.9 1434.0,617.8 1433.4,616.2 1433.2,614.2 1432.7,612.0 1431.7,610.3 1430.4,610.1 1429.0,610.2 1428.9,610.2 1428.8,610.2 1428.8,610.2 1428.7,610.2 1428.6,610.1 1428.6,610.1 1428.5,610.0 1428.5,609.9 1428.2,609.2 1428.4,608.8ZM1440.1,630.1 1440.2,630.1 1440.1,630.1ZM1440.2,630.1 1440.3,630.0 1440.4,630.0 1440.5,630.0 1440.6,629.9 1440.6,629.9 1440.2,630.1Z" fill="#b3df95"/>
<path d="M1413.0,632.7 1408.7,639.5 1403.6,643.0 1402.8,649.8 1404.5,657.5 1408.7,660.9 1415.6,660.9 1422.4,660.0 1424.1,656.6 1428.4,649.8 1432.7,643.0 1439.5,636.1 1444.6,631.0 1444.0,627.1 1443.6,627.5 1441.9,629.3 1440.6,629.9 1440.6,629.9 1440.5,630.0 1440.4,630.0 1440.3,630.0 1440.2,630.1 1440.2,630.1 1440.3,630.0 1440.2,630.1 1440.2,630.1 1440.1,630.1 1440.1,630.1 1440.1,630.1 1440.0,630.1 1439.9,630.1 1439.9,630.1 1438.0,630.0 1435.8,630.5 1435.7,630.6 1435.6,630.6 1435.5,630.6 1435.4,630.7 1435.3,630.7 1435.1,630.7 1435.0,630.7 1434.9,630.8 1433.5,630.8 1432.7,630.5 1431.6,629.7 1431.6,629.7 1431.5,629.6 1431.4,629.6 1429.2,628.1 1426.4,626.7 1424.8,625.7 1423.6,626.2 1422.5,626.1 1421.2,626.3 1419.7,627.1 1418.0,628.1 1416.2,628.7 1416.1,628.7 1416.0,628.7 1415.9,628.6 1415.8,628.6 1415.7,628.6 1415.6,628.5 1415.5,628.5 1415.4,628.4 1416.4,626.7Z" fill="#71acab"/>
<path d="M1290.7,678.6 1292.9,676.9 1293.5,676.8 1293.4,676.6 1293.5,676.3 1293.5,676.3 1293.5,676.2 1293.4,676.1 1293.3,676.1 1293.3,676.0 1292.5,674.5 1291.8,673.1 1290.4,671.8 1290.3,671.8 1290.2,671.7 1290.1,671.6 1290.0,671.5 1289.9,671.4 1289.9,671.3 1289.8,671.2 1288.6,668.8 1288.2,666.8 1288.6,665.3 1287.8,664.3 1286.4,663.5 1286.4,663.4 1286.3,663.4 1286.2,663.3 1286.2,663.3 1286.1,663.2 1286.1,663.1 1286.0,663.1 1286.0,663.0 1286.0,662.9 1286.0,662.8 1286.0,662.7 1286.2,661.4 1286.6,659.7 1287.1,658.0 1286.5,656.3 1285.7,654.9 1285.1,653.9 1282.6,653.5 1279.8,649.9 1277.7,646.3 1275.5,647.0 1274.1,650.6 1269.1,653.5 1265.6,658.4 1263.4,664.1 1264.1,669.8 1266.3,674.8 1271.2,679.8 1274.1,682.3 1281.2,681.2 1285.5,681.9 1287.2,684.1 1288.5,681.8ZM1311.3,651.5 1311.3,651.5 1312.2,653.0Z" fill="#a9db95"/>
<path d="M1344.8,670.2 1348.5,671.7 1351.4,672.7 1352.8,671.8 1353.7,670.5 1355.4,670.8 1358.2,671.6 1360.9,671.1 1362.3,670.5 1362.6,671.8 1363.3,673.9 1364.2,674.5 1363.4,672.7 1363.8,670.2 1363.8,668.1 1363.8,668.0 1363.8,667.9 1363.7,667.8 1363.7,667.7 1363.7,667.7 1363.7,667.6 1363.5,666.5 1363.6,665.4 1364.5,663.9 1365.2,661.7 1365.2,661.5 1365.2,661.4 1365.3,661.3 1365.3,661.2 1365.3,661.1 1365.4,660.9 1365.4,660.8 1365.5,660.8 1365.5,660.7 1365.6,660.6 1365.6,660.5 1365.7,660.5 1366.9,659.8 1368.5,659.9 1370.9,659.7 1371.0,659.7 1371.2,659.6 1371.3,659.6 1371.4,659.6 1371.6,659.6 1371.7,659.6 1373.4,659.8 1374.8,660.0 1376.0,660.5 1377.0,661.3 1378.0,662.1 1379.2,662.7 1380.7,663.0 1382.4,663.3 1382.5,663.4 1382.6,663.4 1382.7,663.5 1382.8,663.5 1382.9,663.6 1384.1,664.5 1385.1,665.3 1386.0,665.9 1386.1,666.0 1386.1,666.0 1386.2,666.1 1386.2,666.2 1386.2,666.2 1386.2,666.3 1390.1,659.9 1394.4,652.7 1397.9,645.6 1400.5,639.9 1395.1,642.8 1388.7,644.9 1385.8,641.4 1384.4,645.6 1379.4,648.5 1372.3,646.3 1363.8,647.8 1355.2,652.0 1345.3,654.9 1336.7,655.6 1338.0,655.5 1338.8,655.6 1339.9,655.3 1341.2,655.3 1341.3,655.3 1341.4,655.3 1341.5,655.4 1341.5,655.4 1341.6,655.5 1341.7,655.5 1341.8,655.6 1341.9,655.6 1341.9,655.7 1342.0,655.8 1343.1,657.3 1343.8,659.3 1344.0,661.2 1344.2,662.7 1344.3,662.7 1344.3,662.8 1344.3,662.9 1344.3,663.0 1344.4,663.0 1344.7,664.0 1344.7,665.2 1344.1,666.7 1343.3,668.7 1343.2,668.8 1343.2,668.9 1343.1,669.1 1343.1,669.2 1342.8,670.0ZM1310.4,649.9 1311.3,651.5 1311.3,651.5Z" fill="#a0d894"/>
<path d="M1321.5,702.4 1320.0,700.7 1318.3,700.1 1318.5,698.7 1318.6,695.8 1317.3,692.2 1317.4,689.5 1319.6,688.3 1320.1,687.5 1318.4,685.4 1318.2,682.2 1319.5,679.2 1319.1,677.7 1317.2,677.3 1317.0,676.7 1316.3,676.6 1314.7,677.0 1312.4,677.5 1312.3,677.5 1310.1,677.2 1308.3,676.7 1307.1,676.8 1306.0,677.6 1305.9,677.6 1305.8,677.7 1304.1,677.4 1301.9,676.7 1299.5,676.6 1299.4,676.6 1297.2,677.0 1295.3,677.1 1293.7,676.4 1293.6,676.3 1293.5,676.3 1293.4,676.6 1293.5,676.8 1292.9,676.9 1290.7,678.6 1288.5,681.8 1287.2,684.1 1288.3,685.5 1294.0,686.9 1299.7,691.2 1305.4,696.2 1311.1,699.7 1316.8,703.3 1320.7,705.7 1320.7,705.5Z" fill="#aedd95"/>
<path d="M1353.0,695.2 1352.2,695.0 1350.9,695.5 1348.2,694.9 1344.7,692.7 1342.1,690.3 1341.5,689.7 1341.8,690.2 1341.2,689.7 1338.6,689.0 1337.6,687.0 1337.7,684.0 1336.4,681.3 1334.9,679.5 1335.5,678.7 1336.2,677.9 1334.7,676.6 1333.8,675.6 1333.3,676.1 1332.3,676.7 1332.3,676.7 1332.2,676.7 1332.2,676.8 1332.1,676.8 1332.0,676.8 1331.2,677.6 1330.5,678.9 1330.4,679.0 1330.3,679.1 1330.3,679.2 1330.2,679.3 1330.1,679.3 1330.1,679.4 1330.0,679.4 1329.9,679.4 1329.9,679.4 1329.8,679.4 1329.7,679.4 1329.7,679.3 1329.6,679.3 1329.6,679.2 1329.5,679.1 1329.5,679.1 1329.5,679.0 1328.6,677.0 1327.1,675.5 1325.5,674.7 1324.0,673.9 1322.2,674.5 1320.5,675.5 1319.1,676.5 1319.0,676.5 1318.9,676.6 1318.9,676.6 1317.5,676.7 1317.0,676.7 1317.2,677.3 1319.1,677.7 1319.5,679.2 1318.2,682.2 1318.4,685.4 1320.1,687.5 1319.6,688.3 1317.4,689.5 1317.3,692.2 1318.6,695.8 1318.5,698.7 1318.3,700.1 1320.0,700.7 1321.5,702.4 1320.7,705.5 1320.7,705.7 1322.5,706.8 1329.6,709.7 1336.7,709.7 1342.4,711.8 1346.8,713.7 1346.9,713.7 1347.0,713.6 1347.1,713.5 1347.2,713.4 1349.2,712.1 1350.8,710.8 1352.3,710.4 1352.7,710.3 1352.7,709.9 1351.9,708.5 1350.1,707.3 1350.0,707.2 1349.9,707.1 1349.8,707.0 1349.1,705.6 1349.0,703.6 1348.3,701.1 1348.3,701.0 1348.3,700.9 1348.3,700.7 1348.2,700.6 1348.3,700.5 1348.3,700.4 1348.3,700.3 1348.4,700.2 1348.4,700.2 1348.5,700.1 1348.6,700.0 1350.0,699.1 1351.1,698.1 1351.9,697.1 1352.7,696.2 1352.8,696.2 1352.9,696.1 1353.5,695.9ZM1373.7,731.7 1372.4,731.6 1372.2,731.5 1372.1,731.5ZM1376.6,733.9 1375.1,732.8 1375.1,732.7 1374.6,732.0 1374.7,731.9 1374.6,732.0 1374.6,732.0 1374.6,732.1 1374.5,732.1 1374.5,732.1 1374.4,732.1 1374.4,732.1 1374.3,732.1 1374.3,732.1 1374.3,732.1Z" fill="#a4d995"/>
<path d="M1342.1,690.3 1344.7,692.7 1348.2,694.9 1350.9,695.5 1352.2,695.0 1353.0,695.2 1353.5,695.9 1354.3,695.7 1356.0,694.9 1357.9,693.6 1359.7,692.0 1361.2,690.9 1361.8,690.0 1362.5,689.4 1363.2,688.5 1364.2,687.3 1363.5,686.2 1362.2,684.3 1360.2,684.5 1358.5,684.6 1357.2,685.2 1356.1,687.0 1354.8,687.9 1354.7,688.0 1354.6,688.0 1354.5,688.0 1354.5,688.0 1354.4,688.0 1354.3,687.9 1354.3,687.9 1354.2,687.9 1354.1,687.8 1354.1,687.8 1354.0,687.7 1354.0,687.6 1353.9,687.6 1353.9,687.5 1353.9,687.4 1353.8,687.4 1353.8,687.3 1353.8,687.2 1353.8,687.1 1353.8,687.1 1353.8,687.0 1353.3,686.0 1352.4,684.9 1352.3,684.9 1352.3,684.8 1352.3,684.7 1352.3,684.6 1352.3,684.6 1352.3,684.5 1352.3,684.4 1352.4,684.4 1352.4,684.3 1352.5,684.3 1352.5,684.2 1352.6,684.2 1353.8,683.0 1354.8,681.2 1355.6,679.5 1355.7,679.4 1355.8,679.4 1355.8,679.3 1355.9,679.3 1356.0,679.2 1357.6,679.3 1359.7,679.5 1361.8,679.1 1363.4,678.2 1364.1,676.8 1364.3,675.7 1364.3,674.7 1364.2,674.5 1363.3,673.9 1362.6,671.8 1362.3,670.5 1360.9,671.1 1358.2,671.6 1355.4,670.8 1353.7,670.5 1352.8,671.8 1351.4,672.7 1348.5,671.7 1344.8,670.2 1342.8,670.0 1342.4,671.3 1342.1,673.2 1341.8,674.7 1341.7,674.8 1341.7,674.8 1341.6,674.9 1341.6,674.9 1341.5,675.0 1341.5,675.0 1341.4,675.0 1340.4,675.3 1339.4,675.9 1338.0,677.0 1337.9,677.1 1337.8,677.1 1337.7,677.2 1337.6,677.2 1337.5,677.2 1337.4,677.2 1337.3,677.2 1337.2,677.2 1337.1,677.2 1337.0,677.2 1336.9,677.1 1336.8,677.1 1336.7,677.1 1335.6,676.2 1334.1,675.3 1333.8,675.6 1334.7,676.6 1336.2,677.9 1335.5,678.7 1334.9,679.5 1336.4,681.3 1337.7,684.0 1337.6,687.0 1338.6,689.0 1341.2,689.7 1341.8,690.2 1341.5,689.7ZM1379.6,692.1 1379.7,691.7 1379.4,693.6Z" fill="#a4d995"/>
<path d="M1347.1,713.5 1347.0,713.6 1346.9,713.7 1346.8,713.7 1347.4,714.0 1350.2,719.6 1353.1,725.3 1359.5,728.9 1366.6,731.0 1372.1,731.5 1372.2,731.5 1372.4,731.6 1373.7,731.7 1374.3,732.1 1374.3,732.1 1374.3,732.1 1374.4,732.1 1374.4,732.1 1374.5,732.1 1374.5,732.1 1374.6,732.1 1374.6,732.0 1374.6,732.0 1374.7,731.9 1374.7,731.9 1374.9,731.3 1375.3,730.7 1375.3,730.6 1375.4,730.5 1375.4,730.4 1375.4,730.3 1375.5,730.3 1375.5,730.2 1375.5,730.1 1375.5,730.0 1375.5,730.0 1375.5,729.9 1374.8,728.6 1373.2,727.0 1371.2,725.1 1370.5,723.4 1370.4,721.7 1370.4,720.3 1370.4,718.9 1369.9,717.7 1369.9,716.1 1370.0,716.0 1370.0,715.9 1369.9,715.8 1369.5,713.7 1368.1,711.4 1366.6,709.5 1366.5,709.5 1366.4,709.4 1366.4,709.3 1366.3,709.2 1366.3,709.2 1366.2,709.1 1366.1,709.1 1366.0,709.0 1366.0,709.0 1364.9,708.7 1363.7,708.9 1361.7,709.0 1361.6,709.0 1361.4,709.0 1361.3,709.0 1361.2,709.0 1361.0,709.0 1358.8,709.1 1356.8,709.1 1355.1,709.7 1353.7,710.2 1353.6,710.2 1352.3,710.4 1350.8,710.8 1349.2,712.1 1347.2,713.4Z" fill="#d7ef97"/>
<path d="M1365.6,660.6 1365.5,660.7 1365.5,660.8 1365.4,660.8 1365.4,660.9 1365.3,661.1 1365.3,661.2 1365.3,661.3 1365.2,661.4 1365.2,661.5 1365.2,661.7 1364.5,663.9 1363.6,665.4 1363.5,666.5 1363.7,667.6 1363.7,667.7 1363.7,667.7 1363.7,667.8 1363.8,667.9 1363.8,668.0 1363.8,668.1 1363.8,670.2 1363.4,672.7 1364.3,674.7 1364.3,675.7 1364.1,676.8 1363.4,678.2 1361.8,679.1 1359.7,679.5 1357.6,679.3 1356.0,679.2 1355.9,679.3 1355.8,679.3 1355.8,679.4 1355.7,679.4 1355.6,679.5 1354.8,681.2 1353.8,683.0 1352.6,684.2 1352.5,684.2 1352.5,684.3 1352.4,684.3 1352.4,684.4 1352.3,684.4 1352.3,684.5 1352.3,684.6 1352.3,684.6 1352.3,684.7 1352.3,684.8 1352.3,684.9 1352.4,684.9 1353.3,686.0 1353.8,687.0 1353.8,687.1 1353.8,687.1 1353.8,687.2 1353.8,687.3 1353.8,687.4 1353.9,687.4 1353.9,687.5 1353.9,687.6 1354.0,687.6 1354.0,687.7 1354.1,687.8 1354.1,687.8 1354.2,687.9 1354.3,687.9 1354.3,687.9 1354.4,688.0 1354.5,688.0 1354.5,688.0 1354.6,688.0 1354.7,688.0 1354.8,687.9 1356.1,687.0 1357.2,685.2 1358.5,684.6 1360.2,684.5 1362.2,684.3 1363.5,686.2 1364.2,687.3 1363.2,688.5 1362.5,689.4 1361.8,690.0 1361.2,690.9 1359.7,692.0 1357.9,693.6 1356.0,694.9 1354.3,695.7 1352.9,696.1 1352.8,696.2 1352.7,696.2 1351.9,697.1 1351.1,698.1 1350.0,699.1 1348.6,700.0 1348.5,700.1 1348.4,700.2 1348.4,700.2 1348.3,700.3 1348.3,700.4 1348.3,700.5 1348.2,700.6 1348.3,700.7 1348.3,700.9 1348.3,701.0 1348.3,701.1 1349.0,703.6 1349.1,705.6 1349.8,707.0 1349.9,707.1 1350.0,707.2 1350.1,707.3 1351.9,708.5 1352.7,709.9 1352.7,710.3 1353.6,710.2 1353.7,710.2 1355.1,709.7 1356.8,709.1 1358.8,709.1 1361.0,709.0 1361.2,709.0 1361.3,709.0 1361.4,709.0 1361.6,709.0 1361.7,709.0 1363.7,708.9 1364.9,708.7 1366.0,709.0 1366.0,709.0 1366.1,709.1 1366.2,709.1 1366.3,709.2 1366.3,709.2 1366.4,709.3 1366.4,709.4 1366.5,709.5 1366.6,709.5 1366.6,709.6 1367.4,708.8 1368.7,707.7 1370.0,706.3 1370.1,706.2 1370.2,706.1 1370.2,706.0 1370.2,705.9 1370.3,705.8 1370.3,705.8 1370.3,705.7 1370.3,705.6 1370.3,705.5 1369.5,703.6 1368.5,701.2 1368.5,698.9 1369.7,697.2 1370.4,696.0 1370.6,695.0 1372.3,694.8 1373.6,693.4 1375.0,693.0 1376.8,693.0 1379.2,693.6 1379.3,693.6 1379.4,693.6 1379.4,693.6 1380.1,688.3 1381.6,682.6 1383.7,675.5 1385.8,667.0 1386.2,666.3 1386.2,666.2 1386.2,666.2 1386.2,666.1 1386.1,666.0 1386.1,666.0 1386.0,665.9 1385.1,665.3 1384.1,664.5 1382.9,663.6 1382.8,663.5 1382.7,663.5 1382.6,663.4 1382.5,663.4 1382.4,663.3 1380.7,663.0 1379.2,662.7 1378.0,662.1 1377.0,661.3 1376.0,660.5 1374.8,660.0 1373.4,659.8 1371.7,659.6 1371.6,659.6 1371.4,659.6 1371.3,659.6 1371.2,659.6 1371.0,659.7 1370.9,659.7 1368.5,659.9 1366.9,659.8 1365.7,660.5 1365.6,660.5Z" fill="#6ba7ad"/>
<path d="M1286.5,656.3 1287.1,658.0 1286.6,659.7 1286.2,661.4 1286.0,662.7 1286.0,662.8 1286.0,662.9 1286.0,663.0 1286.0,663.1 1286.1,663.1 1286.1,663.2 1286.2,663.3 1286.2,663.3 1286.3,663.4 1286.4,663.4 1286.4,663.5 1287.8,664.3 1288.6,665.3 1288.2,666.8 1288.6,668.8 1289.8,671.2 1289.9,671.3 1289.9,671.4 1290.0,671.5 1290.1,671.6 1290.2,671.7 1290.3,671.8 1290.4,671.8 1291.8,673.1 1292.5,674.5 1293.3,676.0 1293.3,676.1 1293.4,676.1 1293.5,676.2 1293.5,676.3 1293.6,676.3 1293.7,676.4 1295.3,677.1 1297.2,677.0 1299.4,676.6 1299.5,676.6 1301.9,676.7 1304.1,677.4 1305.8,677.7 1305.9,677.6 1306.0,677.6 1307.1,676.8 1308.3,676.7 1310.1,677.2 1312.3,677.5 1312.4,677.5 1314.7,677.0 1316.3,676.6 1317.5,676.7 1318.9,676.6 1318.9,676.6 1319.0,676.5 1319.1,676.5 1320.5,675.5 1322.2,674.5 1324.0,673.9 1325.5,674.7 1327.1,675.5 1328.6,677.0 1329.5,679.0 1329.5,679.1 1329.5,679.1 1329.6,679.2 1329.6,679.3 1329.7,679.3 1329.7,679.4 1329.8,679.4 1329.9,679.4 1329.9,679.4 1330.0,679.4 1330.1,679.4 1330.1,679.3 1330.2,679.3 1330.3,679.2 1330.3,679.1 1330.4,679.0 1330.5,678.9 1331.2,677.6 1332.0,676.8 1332.1,676.8 1332.2,676.8 1332.2,676.7 1332.3,676.7 1332.3,676.7 1333.3,676.1 1334.1,675.3 1335.6,676.2 1336.7,677.1 1336.8,677.1 1336.9,677.1 1337.0,677.2 1337.1,677.2 1337.2,677.2 1337.3,677.2 1337.4,677.2 1337.5,677.2 1337.6,677.2 1337.7,677.2 1337.8,677.1 1337.9,677.1 1338.0,677.0 1339.4,675.9 1340.4,675.3 1341.4,675.0 1341.5,675.0 1341.5,675.0 1341.6,674.9 1341.6,674.9 1341.7,674.8 1341.7,674.8 1341.8,674.7 1342.1,673.2 1342.4,671.3 1343.1,669.2 1343.1,669.1 1343.2,668.9 1343.2,668.8 1343.3,668.7 1344.1,666.7 1344.7,665.2 1344.7,664.0 1344.4,663.0 1344.3,663.0 1344.3,662.9 1344.3,662.8 1344.3,662.7 1344.2,662.7 1344.0,661.2 1343.8,659.3 1343.1,657.3 1342.0,655.8 1341.9,655.7 1341.9,655.6 1341.8,655.6 1341.7,655.5 1341.6,655.5 1341.5,655.4 1341.5,655.4 1341.4,655.3 1341.3,655.3 1341.2,655.3 1339.9,655.3 1338.8,655.6 1338.0,655.5 1336.7,655.6 1331.0,654.9 1323.9,657.7 1318.2,656.3 1312.5,653.5 1310.4,649.9 1306.8,649.2 1304.0,644.9 1301.1,643.9 1296.9,646.3 1292.6,646.3 1291.2,650.6 1286.9,654.2 1285.1,653.9 1285.7,654.9Z" fill="#85bfa1"/>
<path d="M1375.1,732.7 1375.1,732.8 1376.6,733.9 1379.4,735.3 1381.6,733.2 1380.9,728.2 1383.0,722.5 1387.3,718.2 1390.1,714.0 1388.0,711.1 1388.7,706.8 1385.8,701.1 1383.0,697.6 1379.4,694.0 1379.7,691.7 1379.4,693.6 1379.4,693.6 1379.3,693.6 1379.2,693.6 1376.8,693.0 1375.0,693.0 1373.6,693.4 1372.3,694.8 1370.6,695.0 1370.4,696.0 1369.7,697.2 1368.5,698.9 1368.5,701.2 1369.5,703.6 1370.3,705.5 1370.3,705.6 1370.3,705.7 1370.3,705.8 1370.3,705.8 1370.2,705.9 1370.2,706.0 1370.2,706.1 1370.1,706.2 1370.0,706.3 1368.7,707.7 1367.4,708.8 1366.6,709.6 1368.1,711.4 1369.5,713.7 1369.9,715.8 1370.0,715.9 1370.0,716.0 1369.9,716.1 1369.9,717.7 1370.4,718.9 1370.4,720.3 1370.4,721.7 1370.5,723.4 1371.2,725.1 1373.2,727.0 1374.8,728.6 1375.5,729.9 1375.5,730.0 1375.5,730.0 1375.5,730.1 1375.5,730.2 1375.5,730.3 1375.4,730.3 1375.4,730.4 1375.4,730.5 1375.3,730.6 1375.3,730.7 1374.9,731.3 1374.7,731.9 1374.7,731.9 1374.6,732.0Z" fill="#92cd99"/>
<path d="M1079.2,489.9 1079.8,489.9 1079.2,487.3 1081.3,480.2 1083.3,475.2 1081.3,475.2 1079.2,480.2 1077.2,486.3 1078.0,490.2ZM1087.8,518.6 1089.6,518.5 1090.9,518.4 1091.9,517.6 1093.0,516.4 1094.7,517.7 1095.9,519.3 1097.3,521.0 1099.4,522.4 1101.7,521.8 1103.5,521.0 1104.9,520.8 1106.4,520.8 1108.4,520.1 1110.8,519.3 1112.7,519.1 1114.1,519.1 1115.1,518.4 1116.3,517.0 1118.2,515.9 1119.8,514.6 1121.2,513.8 1122.4,512.6 1123.6,511.0 1124.6,509.7 1123.8,508.0 1122.7,506.2 1121.7,504.6 1120.7,503.3 1119.3,502.3 1118.0,501.2 1117.1,500.1 1116.7,498.7 1116.0,497.2 1114.8,495.4 1113.6,493.6 1113.2,491.8 1112.9,490.1 1112.3,488.6 1111.5,487.4 1110.7,486.2 1108.6,486.4 1106.5,487.2 1104.5,487.8 1102.9,487.8 1101.5,487.8 1101.3,487.9 1100.0,488.6 1098.2,489.3 1097.0,489.1 1096.4,489.3 1088.3,490.3 1080.2,491.3 1080.0,490.6 1079.4,490.5 1078.1,490.7 1078.2,491.3 1076.2,497.4 1077.2,503.4 1080.2,508.5 1085.3,514.5 1086.3,517.4Z" fill="#a0d894"/>
<path d="M1110.6,481.7 1110.9,483.5 1110.9,485.1 1110.7,486.2 1111.5,487.4 1112.3,488.6 1112.9,490.1 1113.2,491.8 1113.6,493.6 1114.8,495.4 1116.0,497.2 1116.7,498.7 1117.1,500.1 1118.0,501.2 1119.3,502.3 1120.7,503.3 1121.7,504.6 1122.7,506.2 1123.8,508.0 1124.6,509.7 1125.8,509.6 1127.1,509.6 1128.7,509.1 1129.7,507.4 1130.7,505.8 1131.8,504.4 1133.3,502.9 1135.1,501.1 1136.9,499.8 1138.3,499.3 1139.2,499.0 1140.5,498.1 1142.4,496.4 1144.2,494.8 1144.3,494.6 1143.8,493.3 1146.8,488.3 1142.7,484.3 1139.7,478.2 1136.7,472.2 1133.7,467.1 1129.6,464.1 1126.6,468.1 1120.6,469.2 1116.5,474.2 1110.5,480.2 1110.4,480.5Z" fill="#ebebeb"/>
<path d="M1142.4,496.4 1140.5,498.1 1139.2,499.0 1138.3,499.3 1136.9,499.8 1135.1,501.1 1133.3,502.9 1131.8,504.4 1130.7,505.8 1129.7,507.4 1128.7,509.1 1127.1,509.6 1125.8,509.6 1124.6,509.7 1123.6,511.0 1122.4,512.6 1121.2,513.8 1119.8,514.6 1118.2,515.9 1116.3,517.0 1115.1,518.4 1114.1,519.1 1112.7,519.1 1110.8,519.3 1108.4,520.1 1106.4,520.8 1104.9,520.8 1103.5,521.0 1101.7,521.8 1099.4,522.4 1099.7,523.2 1101.5,524.0 1102.5,524.4 1103.0,525.0 1103.7,526.0 1105.1,526.3 1107.0,526.9 1109.0,527.3 1111.0,527.1 1112.5,528.0 1113.2,528.8 1113.7,529.8 1114.7,530.9 1115.4,532.2 1116.3,533.4 1116.6,534.8 1116.4,536.4 1116.7,538.3 1117.1,540.4 1117.3,542.3 1116.8,543.8 1116.1,545.2 1116.2,546.9 1116.6,549.1 1116.5,551.4 1116.9,553.2 1117.5,554.8 1118.6,556.1 1119.1,557.3 1119.1,558.6 1120.6,559.1 1122.4,559.7 1124.3,560.8 1126.0,562.3 1127.2,563.7 1128.2,562.7 1129.1,561.2 1130.3,559.9 1129.1,558.0 1128.3,556.3 1128.0,555.0 1127.4,554.2 1126.1,553.3 1125.9,551.3 1126.3,549.0 1126.9,546.7 1127.1,544.9 1127.0,543.7 1127.2,542.5 1127.7,541.1 1127.6,539.2 1127.8,537.5 1128.6,535.4 1129.8,533.5 1131.2,531.9 1132.7,531.3 1134.0,531.1 1135.1,530.4 1136.1,529.0 1137.1,527.4 1138.2,526.2 1139.2,525.4 1140.4,524.6 1141.7,523.5 1143.3,522.5 1144.0,522.2 1147.8,514.5 1148.8,508.5 1146.8,500.4 1144.6,495.1 1144.2,494.8Z" fill="#fe9e63"/>
<path d="M1141.7,523.5 1140.4,524.6 1139.2,525.4 1138.2,526.2 1137.1,527.4 1136.1,529.0 1135.1,530.4 1134.0,531.1 1132.7,531.3 1131.2,531.9 1129.8,533.5 1128.6,535.4 1127.8,537.5 1127.6,539.2 1127.7,541.1 1127.2,542.5 1127.0,543.7 1127.1,544.9 1126.9,546.7 1126.3,549.0 1125.9,551.3 1126.1,553.3 1127.4,554.2 1128.0,555.0 1128.3,556.3 1129.1,558.0 1130.3,559.9 1132.5,560.9 1134.5,562.1 1136.1,562.9 1137.4,563.3 1138.7,563.7 1140.1,564.4 1142.2,565.5 1142.3,565.5 1142.3,564.9 1143.8,554.8 1144.4,544.8 1143.8,534.7 1141.7,528.6 1143.7,522.8 1143.3,522.5Z" fill="#ebebeb"/>
<path d="M1086.7,518.7 1087.3,520.6 1090.3,526.6 1089.3,532.7 1088.3,538.7 1092.3,544.8 1089.3,550.8 1089.8,554.1 1090.2,554.1 1091.9,555.4 1093.3,556.7 1094.7,557.6 1096.5,557.6 1098.5,557.9 1100.6,558.5 1102.4,559.2 1103.9,559.8 1104.6,558.4 1105.7,557.0 1107.4,556.3 1109.2,555.7 1110.5,554.6 1111.8,554.9 1113.1,555.3 1114.5,556.0 1114.4,555.0 1114.7,554.2 1115.5,553.2 1116.5,551.4 1116.6,549.1 1116.2,546.9 1116.1,545.2 1116.8,543.8 1117.3,542.3 1117.1,540.4 1116.7,538.3 1116.4,536.4 1116.6,534.8 1116.3,533.4 1115.4,532.2 1114.7,530.9 1113.7,529.8 1113.2,528.8 1112.5,528.0 1111.0,527.1 1109.0,527.3 1107.0,526.9 1105.1,526.3 1103.7,526.0 1103.0,525.0 1102.5,524.4 1101.5,524.0 1099.7,523.2 1099.4,522.4 1097.3,521.0 1095.9,519.3 1094.7,517.7 1093.0,516.4 1091.9,517.6 1090.9,518.4 1089.6,518.5 1087.8,518.6Z" fill="#ecf7a1"/>
<path d="M1089.5,571.6 1090.8,572.4 1092.4,572.7 1094.2,573.0 1096.0,573.7 1097.8,574.6 1099.5,575.5 1101.1,576.1 1102.5,576.3 1104.1,575.6 1106.3,575.4 1108.6,574.8 1110.5,573.8 1111.8,573.2 1112.2,571.9 1112.8,570.0 1114.0,567.8 1115.4,566.1 1116.6,564.9 1116.2,563.5 1115.5,561.7 1115.2,559.7 1115.1,557.8 1114.5,556.0 1113.1,555.3 1111.8,554.9 1110.5,554.6 1109.2,555.7 1107.4,556.3 1105.7,557.0 1104.6,558.4 1103.9,559.8 1102.4,559.2 1100.6,558.5 1098.5,557.9 1096.5,557.6 1094.7,557.6 1093.3,556.7 1091.9,555.4 1090.2,554.1 1089.8,554.1 1090.3,556.9 1089.3,564.9 1088.5,571.7Z" fill="#ebebeb"/>
<path d="M1095.2,600.5 1096.6,599.9 1098.2,599.1 1099.4,597.2 1100.1,594.8 1101.3,594.1 1103.0,594.0 1105.1,593.4 1104.9,591.3 1104.2,589.7 1103.3,588.5 1103.1,587.2 1103.4,585.4 1103.3,583.2 1102.5,581.0 1102.0,579.4 1102.0,578.1 1101.7,576.6 1100.1,576.1 1098.2,575.0 1096.2,573.9 1094.2,573.0 1092.4,572.7 1090.8,572.4 1089.5,571.6 1088.5,571.7 1088.3,573.0 1086.3,581.0 1088.3,589.1 1091.3,595.2 1095.1,600.7Z" fill="#f8fcb3"/>
<path d="M1115.4,566.1 1114.0,567.8 1112.8,570.0 1112.2,571.9 1111.8,573.2 1110.5,573.8 1108.6,574.8 1106.3,575.4 1104.1,575.6 1102.5,576.3 1101.7,576.6 1102.0,578.1 1102.0,579.4 1102.5,581.0 1103.3,583.2 1103.4,585.4 1103.1,587.2 1103.3,588.5 1104.2,589.7 1104.9,591.3 1105.1,593.4 1103.0,594.0 1101.3,594.1 1100.1,594.8 1099.4,597.2 1098.2,599.1 1096.6,599.9 1095.2,600.5 1095.1,600.7 1095.4,601.2 1097.4,606.3 1100.4,603.2 1105.4,604.2 1110.5,601.2 1114.5,595.2 1116.5,589.1 1122.6,587.1 1130.6,589.1 1136.7,593.1 1138.7,589.1 1139.7,581.0 1141.7,573.0 1142.3,565.5 1142.2,565.5 1140.1,564.4 1138.7,563.7 1137.4,563.3 1136.1,562.9 1134.5,562.1 1132.5,560.9 1130.3,559.9 1129.1,561.2 1128.2,562.7 1127.2,563.7 1126.0,562.3 1124.3,560.8 1122.4,559.7 1120.6,559.1 1119.1,558.6 1119.1,557.3 1118.6,556.1 1117.5,554.8 1116.9,553.2 1116.5,551.4 1115.5,553.2 1114.7,554.2 1114.4,555.0 1114.5,556.0 1115.1,557.8 1115.2,559.7 1115.5,561.7 1116.2,563.5 1116.6,564.9Z" fill="#7bb5a6"/>
<ellipse cx="1148.8" cy="363.7" rx="1.6" ry="2.2" transform="rotate(10 1148.8 363.7)" fill="#a9db95" stroke-width="1.3"/>
<ellipse cx="1152.5" cy="340.7" rx="1.0" ry="1.0" transform="rotate(0 1152.5 340.7)" fill="#465052" stroke-width="0.6"/>
<ellipse cx="1160.4" cy="389.8" rx="1.4" ry="1.4" transform="rotate(0 1160.4 389.8)" fill="#465052" stroke-width="0.6"/>
<ellipse cx="1170.3" cy="404.7" rx="1.5" ry="1.5" transform="rotate(0 1170.3 404.7)" fill="#465052" stroke-width="0.6"/>
<ellipse cx="1196.2" cy="403.3" rx="1.5" ry="2.4" transform="rotate(-20 1196.2 403.3)" fill="#b3df95" stroke-width="1.3"/>
<ellipse cx="1205" cy="409.4" rx="1.1" ry="1.1" transform="rotate(0 1205 409.4)" fill="#465052" stroke-width="0.6"/>
<ellipse cx="1282" cy="485.8" rx="0.9" ry="0.9" transform="rotate(0 1282 485.8)" fill="#465052" stroke-width="0.6"/>
<ellipse cx="1286.9" cy="486.8" rx="1.1" ry="1.8" transform="rotate(30 1286.9 486.8)" fill="#465052" stroke-width="0.6"/>
<ellipse cx="1290.5" cy="484" rx="0.8" ry="0.8" transform="rotate(0 1290.5 484)" fill="#465052" stroke-width="0.6"/>
<ellipse cx="1306.9" cy="494" rx="1.4" ry="0.9" transform="rotate(0 1306.9 494)" fill="#465052" stroke-width="0.6"/>
<ellipse cx="1327.5" cy="497.9" rx="2.8" ry="2.2" transform="rotate(0 1327.5 497.9)" fill="#65a3b0" stroke-width="1.3"/>
<ellipse cx="1331.8" cy="496.3" rx="1.0" ry="0.8" transform="rotate(0 1331.8 496.3)" fill="#465052" stroke-width="0.6"/>
<ellipse cx="1341.7" cy="508.5" rx="2.0" ry="0.9" transform="rotate(-10 1341.7 508.5)" fill="#465052" stroke-width="0.6"/>
<ellipse cx="1397.2" cy="417" rx="1.4" ry="1.0" transform="rotate(-30 1397.2 417)" fill="#465052" stroke-width="0.6"/>
<ellipse cx="1408" cy="410.8" rx="1.0" ry="0.9" transform="rotate(0 1408 410.8)" fill="#465052" stroke-width="0.6"/>
<ellipse cx="1347.2" cy="625" rx="1.1" ry="1.1" transform="rotate(0 1347.2 625)" fill="#465052" stroke-width="0.6"/>
<ellipse cx="1356.1" cy="623.3" rx="1.3" ry="1.1" transform="rotate(0 1356.1 623.3)" fill="#465052" stroke-width="0.6"/>
<ellipse cx="1368.6" cy="624.2" rx="1.7" ry="1.5" transform="rotate(0 1368.6 624.2)" fill="#a0d894" stroke-width="1.3"/>
<ellipse cx="1372.5" cy="627.6" rx="1.3" ry="2.0" transform="rotate(0 1372.5 627.6)" fill="#a0d894" stroke-width="1.3"/>
<ellipse cx="1374.2" cy="631.6" rx="1.2" ry="1.5" transform="rotate(0 1374.2 631.6)" fill="#465052" stroke-width="0.6"/>
<ellipse cx="1378.8" cy="619" rx="1.2" ry="0.9" transform="rotate(-30 1378.8 619)" fill="#465052" stroke-width="0.6"/>
<ellipse cx="1384.8" cy="610.5" rx="1.2" ry="1.2" transform="rotate(0 1384.8 610.5)" fill="#465052" stroke-width="0.6"/>
<ellipse cx="1296.9" cy="615.6" rx="1.1" ry="1.0" transform="rotate(0 1296.9 615.6)" fill="#465052" stroke-width="0.6"/>
<ellipse cx="1246.6" cy="658.1" rx="1.2" ry="1.7" transform="rotate(-20 1246.6 658.1)" fill="#465052" stroke-width="0.6"/>
<ellipse cx="1257.7" cy="660.6" rx="2.0" ry="1.6" transform="rotate(0 1257.7 660.6)" fill="#465052" stroke-width="0.6"/>
<ellipse cx="1260.5" cy="656.5" rx="0.9" ry="0.9" transform="rotate(0 1260.5 656.5)" fill="#465052" stroke-width="0.6"/>
<ellipse cx="1244.1" cy="727.3" rx="3.6" ry="2.2" transform="rotate(50 1244.1 727.3)" fill="#a9db95" stroke-width="1.3"/>
<ellipse cx="1282.2" cy="780.9" rx="1.2" ry="1.2" transform="rotate(0 1282.2 780.9)" fill="#465052" stroke-width="0.6"/>
<ellipse cx="1269.8" cy="801.6" rx="3.2" ry="1.0" transform="rotate(12 1269.8 801.6)" fill="#465052" stroke-width="0.6"/>
<ellipse cx="1258.1" cy="798.9" rx="0.5" ry="0.5" transform="rotate(0 1258.1 798.9)" fill="#465052" stroke-width="0.6"/>
<ellipse cx="1197" cy="734.6" rx="0.45" ry="0.45" transform="rotate(0 1197 734.6)" fill="#465052" stroke-width="0.6"/>
<ellipse cx="1081.7" cy="590.1" rx="2.2" ry="2.6" transform="rotate(0 1081.7 590.1)" fill="#f8fcb3" stroke-width="1.3"/>
<ellipse cx="1083.3" cy="541.1" rx="0.7" ry="0.7" transform="rotate(0 1083.3 541.1)" fill="#465052" stroke-width="0.6"/>
<ellipse cx="1087.2" cy="606" rx="0.6" ry="0.6" transform="rotate(0 1087.2 606)" fill="#465052" stroke-width="0.6"/>
<circle cx="1264.4" cy="311.4" r="1.3" fill="#fff" stroke-width="1"/>
<path d="M1256,224 L1258.6,226 L1258.2,238 L1255.2,238.6 L1254.8,231Z" fill="#fff" stroke-width="1.2"/>
<path d="M1161.4,380 L1162.5,378 L1166,377.6 L1169.5,378.2 L1172.5,377.2 L1174.6,375.2 L1175.2,373.6 L1177,374 L1176.6,376.8 L1177.4,379 L1176.2,381.6 L1174.4,380.4 L1172,381.6 L1168.5,381.2 L1165.5,382.2 L1162.8,381.8Z" fill="#a9db95" stroke-width="1.2"/>
<path d="M1086,592.6 L1088.2,594 L1089,597.5 L1088,600.4 L1086.2,599 L1085.6,595.6Z" fill="#f8fcb3" stroke-width="1.1"/>
</g>
</svg>
</body></html>
